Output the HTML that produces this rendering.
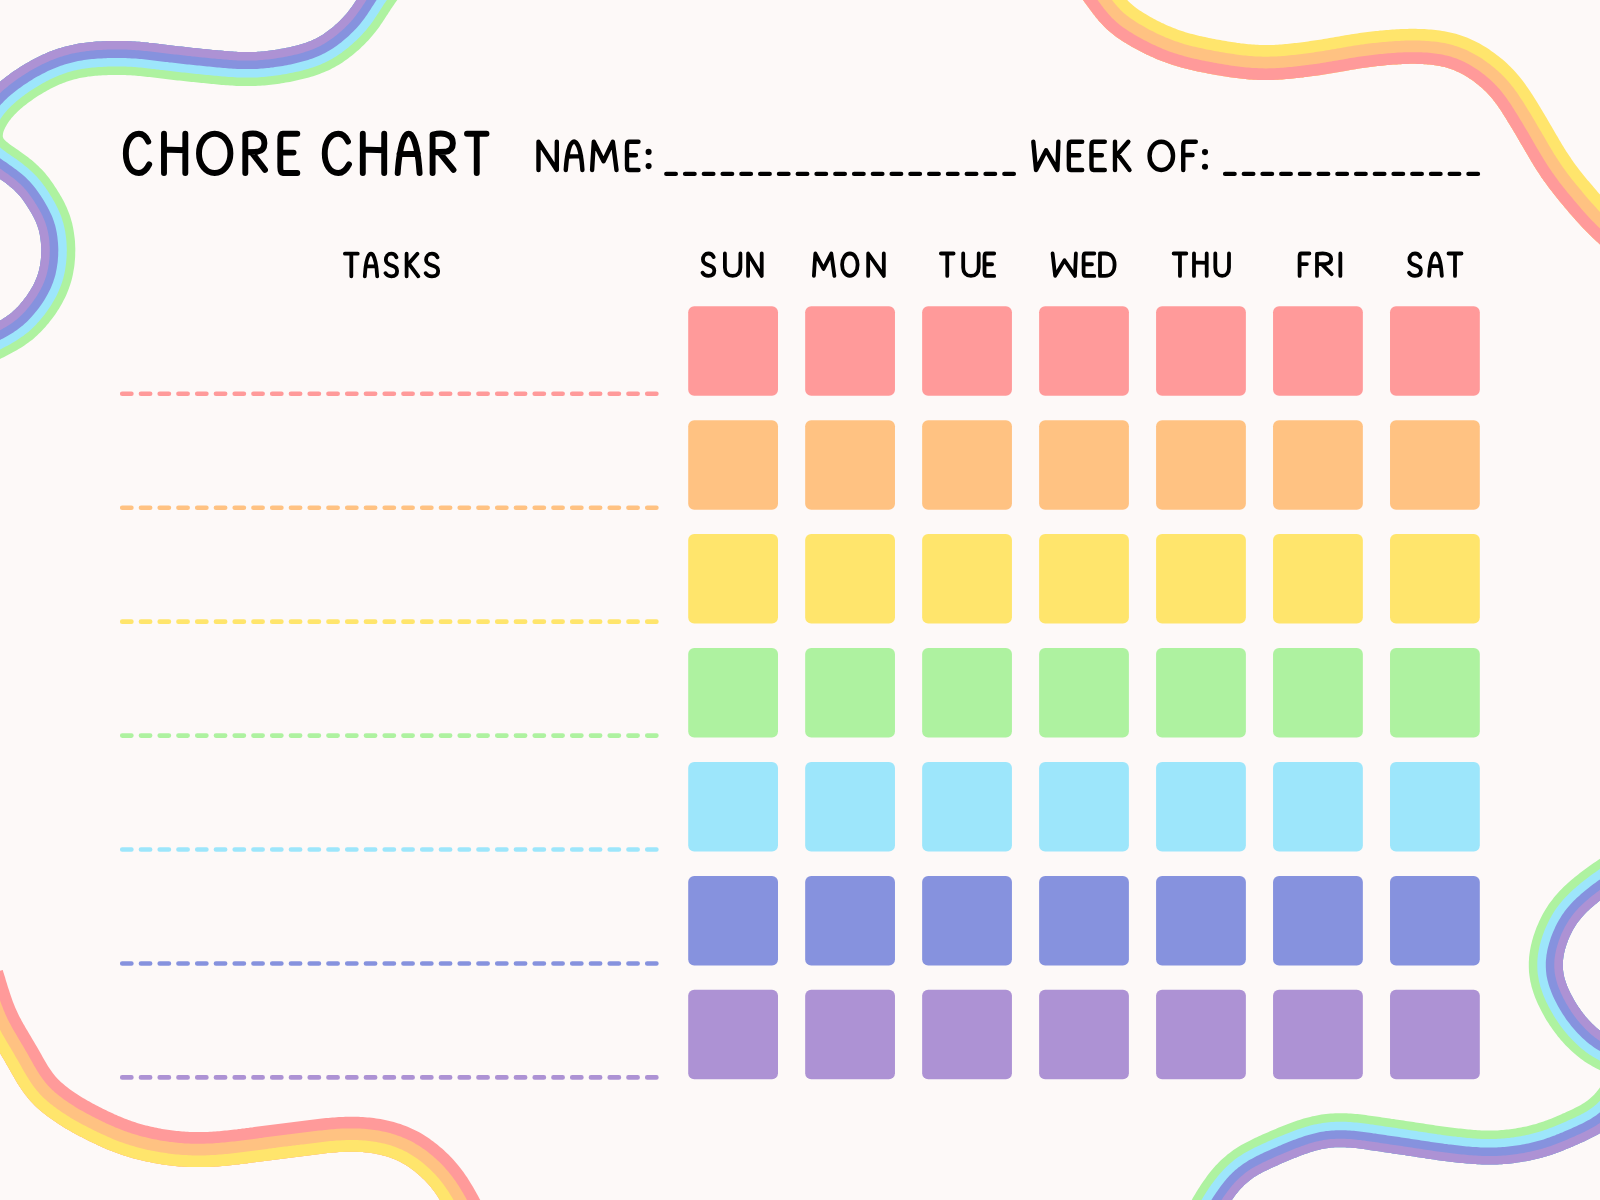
<!DOCTYPE html>
<html><head><meta charset="utf-8"><title>Chore Chart</title>
<style>
html,body{margin:0;padding:0;background:#fdf9f8;}
body{width:1600px;height:1200px;overflow:hidden;font-family:"Liberation Sans",sans-serif;}
svg{display:block;position:absolute;left:0;top:0;}
</style></head><body>
<svg width="1600" height="1200" viewBox="0 0 1600 1200">
<rect width="1600" height="1200" fill="#fdf9f8"/>
<path d="M423.5 -34.7 L422.3 -33.1 L421.1 -31.5 L419.9 -29.9 L418.6 -28.3 L417.4 -26.7 L416.2 -25.1 L415.0 -23.6 L413.8 -22.0 L412.6 -20.4 L411.4 -18.8 L410.2 -17.2 L409.0 -15.6 L407.8 -14.1 L406.6 -12.5 L405.4 -10.9 L404.2 -9.3 L403.0 -7.8 L401.8 -6.2 L400.7 -4.6 L399.5 -3.1 L398.4 -1.5 L397.3 0.0 L396.2 1.6 L395.1 3.1 L394.0 4.7 L392.9 6.2 L391.9 7.8 L390.8 9.3 L389.8 10.9 L388.7 12.5 L387.7 14.2 L386.6 15.8 L385.5 17.5 L384.4 19.3 L383.2 21.0 L382.1 22.8 L380.8 24.6 L379.6 26.4 L378.3 28.2 L376.9 30.0 L375.6 31.8 L374.1 33.6 L372.7 35.3 L371.2 37.1 L369.7 38.8 L368.2 40.4 L366.6 42.1 L365.0 43.7 L363.5 45.3 L361.8 46.8 L360.2 48.4 L358.6 49.9 L356.9 51.3 L355.2 52.8 L353.5 54.2 L351.7 55.7 L349.9 57.1 L348.1 58.4 L346.3 59.8 L344.4 61.1 L342.5 62.4 L340.5 63.7 L338.5 64.9 L336.5 66.1 L334.5 67.2 L332.4 68.3 L330.3 69.4 L328.2 70.4 L326.1 71.3 L323.9 72.3 L321.8 73.1 L319.6 73.9 L317.5 74.7 L315.3 75.5 L313.2 76.2 L311.1 76.8 L308.9 77.4 L306.8 78.0 L304.7 78.6 L302.6 79.1 L300.4 79.6 L298.3 80.1 L296.2 80.6 L294.1 81.0 L292.0 81.5 L289.9 81.9 L287.8 82.3 L285.7 82.6 L283.6 83.0 L281.5 83.3 L279.4 83.7 L277.3 84.0 L275.2 84.2 L273.0 84.5 L270.9 84.8 L268.7 85.0 L266.6 85.2 L264.4 85.4 L262.3 85.6 L260.1 85.7 L258.0 85.8 L255.8 85.9 L253.6 86.0 L251.4 86.1 L249.3 86.1 L247.1 86.1 L244.9 86.1 L242.8 86.1 L240.6 86.0 L238.5 85.9 L236.3 85.9 L234.2 85.8 L232.1 85.6 L230.0 85.5 L227.9 85.3 L225.8 85.2 L223.8 85.0 L221.7 84.9 L219.7 84.7 L217.6 84.5 L215.6 84.3 L213.6 84.1 L211.6 83.9 L209.6 83.7 L207.6 83.5 L205.6 83.3 L203.6 83.1 L201.6 82.9 L199.6 82.7 L197.6 82.5 L195.5 82.3 L193.5 82.1 L191.5 81.9 L189.5 81.7 L187.5 81.5 L185.5 81.3 L183.5 81.1 L181.5 80.8 L179.5 80.6 L177.5 80.4 L175.5 80.2 L173.5 79.9 L171.5 79.7 L169.5 79.5 L167.5 79.2 L165.5 79.0 L163.5 78.8 L161.5 78.5 L159.5 78.3 L157.5 78.1 L155.5 77.8 L153.5 77.6 L151.6 77.3 L149.6 77.1 L147.7 76.9 L145.7 76.7 L143.8 76.5 L141.9 76.3 L140.0 76.1 L138.1 75.9 L136.3 75.7 L134.4 75.6 L132.6 75.5 L130.7 75.3 L128.9 75.2 L127.0 75.2 L125.2 75.1 L123.3 75.0 L121.4 75.0 L119.6 75.0 L117.7 75.0 L115.8 75.0 L113.9 75.0 L112.0 75.0 L110.2 75.1 L108.3 75.1 L106.4 75.2 L104.5 75.3 L102.6 75.3 L100.8 75.4 L98.9 75.6 L97.1 75.7 L95.3 75.8 L93.5 76.0 L91.7 76.2 L89.9 76.4 L88.2 76.6 L86.4 76.9 L84.7 77.2 L83.0 77.4 L81.3 77.8 L79.6 78.1 L77.9 78.5 L76.3 78.9 L74.6 79.3 L72.9 79.8 L71.3 80.2 L69.6 80.8 L68.0 81.3 L66.4 81.8 L64.8 82.4 L63.1 83.0 L61.5 83.7 L59.9 84.3 L58.3 85.0 L56.7 85.7 L55.1 86.5 L53.5 87.2 L52.0 88.0 L50.4 88.8 L48.8 89.7 L47.2 90.5 L45.7 91.4 L44.1 92.3 L42.6 93.2 L41.0 94.2 L39.5 95.1 L37.9 96.1 L36.4 97.1 L34.9 98.1 L33.4 99.1 L31.9 100.2 L30.4 101.2 L28.9 102.3 L27.5 103.3 L26.1 104.4 L24.7 105.5 L23.3 106.6 L22.0 107.7 L20.7 108.8 L19.4 110.0 L18.2 111.1 L17.0 112.2 L15.8 113.4 L14.7 114.6 L13.6 115.7 L12.5 116.9 L11.5 118.1 L10.5 119.4 L9.6 120.6 L8.7 121.8 L7.9 123.0 L7.1 124.2 L6.4 125.5 L5.7 126.7 L5.1 127.8 L4.6 129.0 L4.1 130.1 L3.7 131.1 L3.4 132.1 L3.1 133.1 L3.0 133.9 L2.9 134.7 L2.8 135.4 L2.8 135.9 L2.8 136.4 L2.9 136.9 L3.0 137.2 L3.1 137.6 L3.2 137.9 L3.4 138.3 L3.6 138.7 L4.0 139.1 L4.4 139.7 L5.0 140.3 L5.7 141.0 L6.6 141.8 L7.6 142.6 L8.8 143.5 L10.0 144.4 L11.4 145.4 L12.9 146.5 L14.4 147.6 L16.1 148.7 L17.7 149.8 L19.4 151.0 L21.1 152.2 L22.8 153.4 L24.6 154.7 L26.3 156.0 L28.1 157.3 L29.8 158.7 L31.6 160.1 L33.3 161.6 L35.0 163.1 L36.8 164.7 L38.5 166.3 L40.1 167.9 L41.8 169.6 L43.4 171.3 L45.0 173.1 L46.5 174.9 L48.0 176.7 L49.4 178.6 L50.7 180.4 L52.0 182.2 L53.3 184.1 L54.5 185.9 L55.7 187.7 L56.9 189.6 L58.0 191.4 L59.2 193.3 L60.3 195.2 L61.4 197.1 L62.5 199.0 L63.6 201.0 L64.6 203.1 L65.6 205.2 L66.6 207.3 L67.5 209.5 L68.4 211.7 L69.3 213.9 L70.1 216.2 L70.8 218.5 L71.4 220.8 L72.1 223.1 L72.6 225.4 L73.1 227.7 L73.5 230.1 L73.9 232.4 L74.2 234.7 L74.5 237.0 L74.8 239.3 L75.0 241.6 L75.1 243.9 L75.2 246.2 L75.3 248.5 L75.3 250.8 L75.2 253.1 L75.2 255.4 L75.1 257.7 L74.9 260.0 L74.7 262.3 L74.5 264.6 L74.2 266.9 L73.8 269.3 L73.4 271.6 L73.0 273.9 L72.5 276.2 L72.0 278.5 L71.4 280.8 L70.7 283.1 L70.0 285.3 L69.2 287.6 L68.4 289.8 L67.5 292.1 L66.6 294.2 L65.6 296.4 L64.6 298.5 L63.5 300.6 L62.4 302.7 L61.3 304.7 L60.1 306.7 L59.0 308.7 L57.7 310.6 L56.5 312.5 L55.2 314.4 L53.9 316.2 L52.6 318.0 L51.2 319.8 L49.8 321.6 L48.4 323.4 L46.9 325.1 L45.4 326.9 L43.9 328.6 L42.3 330.3 L40.7 331.9 L39.0 333.6 L37.3 335.2 L35.6 336.8 L33.8 338.4 L32.0 339.9 L30.1 341.3 L28.2 342.7 L26.3 344.1 L24.4 345.4 L22.5 346.7 L20.5 347.9 L18.6 349.0 L16.7 350.2 L14.8 351.3 L12.9 352.3 L11.1 353.3 L9.2 354.3 L7.4 355.3 L5.5 356.3 L3.7 357.2 L1.9 358.1 L0.0 359.1 L-1.8 360.0 L-3.6 360.9 L-5.4 361.8 L-7.2 362.7 L-9.0 363.6 L-10.9 364.5 L-12.7 365.4 L-14.5 366.3 L-16.3 367.2 L-18.1 368.1 L-19.9 369.0 L-21.7 369.8 L-21.7 369.9 L-36.6 339.3 L-36.6 339.3 L-34.8 338.4 L-33.1 337.6 L-31.3 336.7 L-29.5 335.8 L-27.7 334.9 L-25.9 334.1 L-24.2 333.2 L-22.4 332.3 L-20.6 331.4 L-18.9 330.5 L-17.1 329.7 L-15.4 328.8 L-13.6 327.9 L-11.9 327.0 L-10.2 326.1 L-8.5 325.2 L-6.8 324.3 L-5.1 323.4 L-3.5 322.5 L-1.9 321.7 L-0.4 320.8 L1.2 319.9 L2.6 319.0 L4.1 318.1 L5.5 317.2 L6.8 316.2 L8.1 315.3 L9.4 314.4 L10.6 313.4 L11.9 312.4 L13.1 311.3 L14.2 310.3 L15.4 309.2 L16.5 308.0 L17.7 306.9 L18.8 305.7 L19.9 304.4 L21.0 303.1 L22.1 301.8 L23.2 300.5 L24.2 299.1 L25.3 297.8 L26.3 296.4 L27.3 295.0 L28.2 293.6 L29.2 292.1 L30.1 290.7 L30.9 289.3 L31.8 287.8 L32.6 286.4 L33.4 285.0 L34.1 283.5 L34.8 282.1 L35.4 280.6 L36.0 279.2 L36.6 277.7 L37.2 276.2 L37.7 274.8 L38.1 273.3 L38.6 271.8 L39.0 270.2 L39.3 268.7 L39.7 267.1 L40.0 265.6 L40.2 264.0 L40.5 262.3 L40.7 260.7 L40.9 259.1 L41.0 257.4 L41.1 255.7 L41.2 254.1 L41.2 252.4 L41.3 250.7 L41.3 249.1 L41.2 247.4 L41.1 245.7 L41.0 244.1 L40.9 242.4 L40.7 240.8 L40.5 239.2 L40.3 237.6 L40.0 236.0 L39.8 234.4 L39.4 232.9 L39.1 231.3 L38.7 229.8 L38.2 228.4 L37.8 226.9 L37.3 225.4 L36.7 224.0 L36.2 222.6 L35.5 221.1 L34.9 219.7 L34.2 218.2 L33.4 216.8 L32.6 215.3 L31.8 213.8 L30.9 212.3 L30.0 210.7 L29.1 209.2 L28.1 207.7 L27.2 206.2 L26.2 204.7 L25.2 203.2 L24.2 201.8 L23.3 200.4 L22.3 199.1 L21.3 197.8 L20.3 196.5 L19.2 195.3 L18.2 194.2 L17.1 193.0 L16.0 191.9 L14.9 190.7 L13.7 189.6 L12.5 188.5 L11.2 187.5 L9.9 186.4 L8.6 185.3 L7.2 184.2 L5.8 183.1 L4.4 182.1 L2.9 181.0 L1.4 179.9 L-0.2 178.8 L-1.7 177.7 L-3.3 176.6 L-5.0 175.5 L-6.7 174.3 L-8.4 173.1 L-10.1 171.8 L-12.0 170.5 L-13.8 169.0 L-15.7 167.5 L-17.6 165.8 L-19.5 163.9 L-21.3 161.9 L-23.1 159.6 L-24.8 157.2 L-26.4 154.7 L-27.8 151.9 L-28.9 149.0 L-29.9 146.1 L-30.5 143.1 L-31.0 140.0 L-31.2 137.0 L-31.2 134.0 L-31.0 131.1 L-30.6 128.3 L-30.0 125.5 L-29.3 122.8 L-28.5 120.2 L-27.6 117.7 L-26.6 115.3 L-25.5 112.9 L-24.3 110.6 L-23.1 108.4 L-21.8 106.3 L-20.5 104.2 L-19.1 102.2 L-17.7 100.3 L-16.2 98.3 L-14.7 96.5 L-13.2 94.7 L-11.6 92.9 L-10.0 91.2 L-8.4 89.5 L-6.7 87.9 L-5.0 86.3 L-3.4 84.7 L-1.7 83.2 L0.1 81.7 L1.8 80.3 L3.5 78.9 L5.3 77.5 L7.0 76.2 L8.8 74.9 L10.6 73.6 L12.3 72.3 L14.1 71.1 L15.9 69.9 L17.7 68.7 L19.5 67.5 L21.4 66.3 L23.2 65.2 L25.1 64.1 L27.0 62.9 L28.9 61.9 L30.8 60.8 L32.7 59.7 L34.6 58.7 L36.6 57.7 L38.6 56.7 L40.6 55.7 L42.6 54.8 L44.7 53.9 L46.7 53.0 L48.8 52.1 L50.9 51.3 L53.0 50.5 L55.1 49.8 L57.2 49.0 L59.4 48.3 L61.6 47.7 L63.7 47.0 L65.9 46.4 L68.1 45.9 L70.3 45.4 L72.5 44.9 L74.7 44.4 L76.9 44.0 L79.1 43.6 L81.3 43.3 L83.6 42.9 L85.8 42.7 L87.9 42.4 L90.1 42.2 L92.3 42.0 L94.5 41.8 L96.6 41.6 L98.7 41.5 L100.9 41.4 L103.0 41.3 L105.1 41.2 L107.2 41.1 L109.3 41.1 L111.4 41.0 L113.5 41.0 L115.6 41.0 L117.7 41.0 L119.9 41.0 L122.0 41.0 L124.1 41.0 L126.3 41.1 L128.4 41.2 L130.5 41.3 L132.7 41.4 L134.8 41.5 L136.9 41.7 L139.1 41.8 L141.2 42.0 L143.3 42.2 L145.4 42.4 L147.4 42.6 L149.5 42.9 L151.5 43.1 L153.6 43.3 L155.6 43.6 L157.6 43.8 L159.6 44.1 L161.6 44.3 L163.5 44.5 L165.5 44.8 L167.5 45.0 L169.5 45.2 L171.4 45.5 L173.4 45.7 L175.4 45.9 L177.3 46.2 L179.3 46.4 L181.3 46.6 L183.3 46.8 L185.2 47.1 L187.2 47.3 L189.2 47.5 L191.1 47.7 L193.1 47.9 L195.1 48.1 L197.0 48.3 L199.0 48.5 L201.0 48.7 L203.0 48.9 L204.9 49.1 L206.9 49.3 L208.9 49.5 L210.9 49.7 L212.8 49.9 L214.8 50.1 L216.8 50.3 L218.7 50.5 L220.7 50.6 L222.7 50.8 L224.6 51.0 L226.5 51.1 L228.5 51.3 L230.4 51.4 L232.3 51.6 L234.2 51.7 L236.0 51.8 L237.9 51.9 L239.8 52.0 L241.6 52.0 L243.4 52.1 L245.3 52.1 L247.1 52.1 L248.9 52.1 L250.7 52.1 L252.5 52.0 L254.4 52.0 L256.2 51.9 L258.0 51.8 L259.8 51.7 L261.6 51.5 L263.4 51.4 L265.3 51.2 L267.1 51.0 L268.9 50.8 L270.8 50.5 L272.6 50.3 L274.4 50.0 L276.3 49.7 L278.1 49.4 L279.9 49.1 L281.8 48.8 L283.6 48.5 L285.4 48.1 L287.2 47.8 L289.0 47.4 L290.8 47.0 L292.6 46.6 L294.4 46.1 L296.1 45.7 L297.8 45.2 L299.6 44.7 L301.3 44.3 L302.9 43.7 L304.6 43.2 L306.2 42.7 L307.8 42.1 L309.3 41.5 L310.9 40.9 L312.4 40.2 L313.8 39.6 L315.3 38.9 L316.8 38.1 L318.2 37.4 L319.6 36.6 L321.0 35.8 L322.4 34.9 L323.8 34.0 L325.1 33.1 L326.5 32.1 L327.8 31.1 L329.2 30.1 L330.5 29.1 L331.9 28.0 L333.2 26.9 L334.5 25.7 L335.8 24.6 L337.1 23.4 L338.4 22.2 L339.7 21.0 L340.9 19.8 L342.1 18.5 L343.3 17.3 L344.4 16.0 L345.6 14.7 L346.7 13.5 L347.7 12.2 L348.8 10.8 L349.8 9.5 L350.8 8.1 L351.9 6.7 L352.9 5.3 L353.9 3.8 L354.9 2.2 L355.9 0.7 L357.0 -0.9 L358.0 -2.6 L359.1 -4.3 L360.2 -6.0 L361.3 -7.7 L362.5 -9.5 L363.7 -11.2 L364.8 -12.9 L366.0 -14.7 L367.2 -16.4 L368.4 -18.1 L369.7 -19.8 L370.9 -21.5 L372.1 -23.2 L373.3 -24.9 L374.6 -26.5 L375.8 -28.1 L377.0 -29.8 L378.2 -31.4 L379.5 -33.0 L380.7 -34.6 L381.9 -36.2 L383.1 -37.8 L384.3 -39.4 L385.6 -41.0 L386.8 -42.6 L388.0 -44.2 L389.2 -45.8 L390.4 -47.4 L391.6 -49.0 L392.9 -50.6 L394.1 -52.2 L395.3 -53.7 L396.5 -55.3Z" fill="#aef2a0"/>
<path d="M416.7 -39.8 L415.5 -38.2 L414.3 -36.7 L413.1 -35.1 L411.9 -33.5 L410.7 -31.9 L409.5 -30.3 L408.2 -28.7 L407.0 -27.1 L405.8 -25.5 L404.6 -24.0 L403.4 -22.4 L402.2 -20.8 L401.0 -19.2 L399.8 -17.6 L398.6 -16.0 L397.4 -14.4 L396.2 -12.9 L395.0 -11.3 L393.8 -9.7 L392.7 -8.1 L391.5 -6.5 L390.4 -5.0 L389.2 -3.4 L388.1 -1.8 L387.0 -0.2 L385.9 1.4 L384.8 3.0 L383.7 4.6 L382.7 6.3 L381.6 7.9 L380.5 9.6 L379.5 11.2 L378.4 12.9 L377.3 14.6 L376.2 16.3 L375.0 18.0 L373.9 19.7 L372.7 21.5 L371.4 23.2 L370.2 24.9 L368.9 26.6 L367.5 28.2 L366.2 29.9 L364.8 31.5 L363.4 33.1 L361.9 34.7 L360.5 36.2 L359.0 37.7 L357.5 39.2 L356.0 40.7 L354.4 42.1 L352.9 43.5 L351.3 44.9 L349.7 46.3 L348.1 47.7 L346.4 49.0 L344.7 50.3 L343.0 51.6 L341.3 52.9 L339.6 54.1 L337.8 55.3 L336.0 56.5 L334.1 57.6 L332.3 58.7 L330.4 59.8 L328.5 60.8 L326.5 61.7 L324.6 62.7 L322.6 63.6 L320.7 64.4 L318.7 65.2 L316.7 66.0 L314.7 66.7 L312.6 67.4 L310.6 68.0 L308.6 68.7 L306.6 69.3 L304.6 69.8 L302.5 70.4 L300.5 70.9 L298.5 71.4 L296.5 71.8 L294.4 72.3 L292.4 72.7 L290.4 73.1 L288.3 73.5 L286.3 73.9 L284.3 74.3 L282.2 74.6 L280.2 74.9 L278.2 75.2 L276.1 75.5 L274.1 75.8 L272.0 76.1 L269.9 76.3 L267.9 76.5 L265.8 76.7 L263.7 76.9 L261.7 77.1 L259.6 77.2 L257.5 77.4 L255.4 77.4 L253.3 77.5 L251.3 77.6 L249.2 77.6 L247.1 77.6 L245.0 77.6 L242.9 77.6 L240.9 77.5 L238.8 77.5 L236.7 77.4 L234.7 77.3 L232.6 77.1 L230.6 77.0 L228.5 76.9 L226.5 76.7 L224.5 76.6 L222.4 76.4 L220.4 76.2 L218.4 76.0 L216.4 75.8 L214.4 75.7 L212.4 75.5 L210.4 75.3 L208.4 75.1 L206.4 74.9 L204.4 74.7 L202.4 74.5 L200.4 74.3 L198.4 74.1 L196.4 73.9 L194.4 73.7 L192.4 73.5 L190.4 73.3 L188.4 73.0 L186.4 72.8 L184.4 72.6 L182.4 72.4 L180.4 72.2 L178.4 72.0 L176.4 71.7 L174.4 71.5 L172.4 71.3 L170.5 71.0 L168.5 70.8 L166.5 70.6 L164.5 70.3 L162.5 70.1 L160.5 69.9 L158.5 69.6 L156.5 69.4 L154.5 69.1 L152.6 68.9 L150.6 68.7 L148.6 68.4 L146.7 68.2 L144.7 68.0 L142.8 67.8 L140.8 67.6 L138.9 67.4 L137.0 67.3 L135.0 67.1 L133.1 67.0 L131.2 66.8 L129.3 66.7 L127.4 66.7 L125.4 66.6 L123.5 66.5 L121.6 66.5 L119.6 66.5 L117.7 66.5 L115.8 66.5 L113.8 66.5 L111.9 66.5 L109.9 66.6 L108.0 66.6 L106.1 66.7 L104.1 66.8 L102.2 66.9 L100.3 67.0 L98.3 67.1 L96.4 67.2 L94.5 67.4 L92.6 67.6 L90.7 67.7 L88.9 68.0 L87.0 68.2 L85.2 68.5 L83.3 68.8 L81.5 69.1 L79.7 69.4 L77.8 69.8 L76.0 70.2 L74.2 70.6 L72.4 71.1 L70.6 71.6 L68.9 72.1 L67.1 72.6 L65.3 73.2 L63.6 73.8 L61.8 74.5 L60.1 75.1 L58.3 75.8 L56.6 76.5 L54.9 77.2 L53.2 78.0 L51.5 78.8 L49.8 79.6 L48.1 80.4 L46.4 81.3 L44.8 82.2 L43.1 83.1 L41.5 84.0 L39.8 85.0 L38.2 85.9 L36.6 86.9 L34.9 87.9 L33.3 89.0 L31.7 90.0 L30.1 91.0 L28.6 92.1 L27.0 93.2 L25.4 94.3 L23.9 95.4 L22.4 96.6 L20.9 97.7 L19.4 98.9 L18.0 100.0 L16.5 101.2 L15.1 102.4 L13.7 103.7 L12.4 104.9 L11.1 106.1 L9.8 107.4 L8.5 108.7 L7.3 110.0 L6.1 111.4 L5.0 112.7 L3.9 114.1 L2.8 115.5 L1.8 116.9 L0.8 118.3 L-0.1 119.8 L-1.0 121.2 L-1.8 122.7 L-2.6 124.1 L-3.2 125.5 L-3.8 127.0 L-4.3 128.4 L-4.8 129.8 L-5.1 131.2 L-5.4 132.5 L-5.6 133.8 L-5.7 135.0 L-5.7 136.2 L-5.6 137.3 L-5.5 138.4 L-5.2 139.5 L-4.9 140.4 L-4.5 141.4 L-4.1 142.4 L-3.5 143.3 L-2.8 144.3 L-2.0 145.2 L-1.1 146.2 L-0.1 147.2 L1.0 148.2 L2.3 149.2 L3.6 150.2 L5.0 151.3 L6.5 152.4 L8.0 153.4 L9.6 154.5 L11.2 155.7 L12.8 156.8 L14.5 157.9 L16.2 159.1 L17.8 160.3 L19.5 161.5 L21.2 162.8 L22.9 164.1 L24.5 165.4 L26.2 166.7 L27.8 168.1 L29.4 169.5 L31.0 170.9 L32.6 172.4 L34.1 173.9 L35.6 175.5 L37.1 177.0 L38.5 178.7 L39.9 180.3 L41.3 182.0 L42.6 183.7 L43.9 185.4 L45.1 187.1 L46.3 188.9 L47.5 190.6 L48.6 192.3 L49.7 194.1 L50.8 195.9 L51.9 197.6 L52.9 199.4 L54.0 201.2 L55.0 203.1 L56.0 205.0 L57.0 206.9 L57.9 208.8 L58.8 210.8 L59.7 212.8 L60.5 214.8 L61.3 216.8 L62.0 218.9 L62.6 221.0 L63.3 223.1 L63.8 225.2 L64.3 227.3 L64.8 229.4 L65.2 231.5 L65.5 233.7 L65.8 235.8 L66.1 238.0 L66.3 240.1 L66.5 242.2 L66.6 244.4 L66.7 246.5 L66.8 248.7 L66.8 250.8 L66.7 253.0 L66.7 255.1 L66.6 257.2 L66.4 259.4 L66.2 261.5 L66.0 263.7 L65.7 265.8 L65.4 267.9 L65.1 270.1 L64.7 272.2 L64.2 274.3 L63.7 276.4 L63.2 278.5 L62.6 280.6 L61.9 282.7 L61.2 284.8 L60.4 286.8 L59.6 288.8 L58.8 290.8 L57.9 292.8 L57.0 294.8 L56.0 296.7 L55.0 298.6 L53.9 300.5 L52.8 302.3 L51.7 304.2 L50.6 306.0 L49.4 307.7 L48.2 309.5 L47.0 311.2 L45.7 313.0 L44.5 314.7 L43.2 316.3 L41.8 318.0 L40.5 319.6 L39.1 321.2 L37.6 322.8 L36.2 324.4 L34.7 326.0 L33.1 327.5 L31.6 329.0 L30.0 330.4 L28.3 331.9 L26.6 333.2 L24.9 334.6 L23.2 335.9 L21.4 337.1 L19.7 338.3 L17.9 339.5 L16.1 340.7 L14.3 341.8 L12.5 342.8 L10.6 343.9 L8.8 344.9 L7.0 345.9 L5.2 346.8 L3.4 347.8 L1.6 348.7 L-0.2 349.7 L-2.0 350.6 L-3.8 351.5 L-5.6 352.4 L-7.4 353.3 L-9.2 354.2 L-11.0 355.1 L-12.8 356.0 L-14.6 356.9 L-16.4 357.8 L-18.2 358.7 L-20.0 359.6 L-21.8 360.5 L-23.6 361.3 L-25.4 362.2 L-25.4 362.2 L-36.6 339.3 L-36.6 339.3 L-34.8 338.4 L-33.1 337.6 L-31.3 336.7 L-29.5 335.8 L-27.7 334.9 L-25.9 334.1 L-24.2 333.2 L-22.4 332.3 L-20.6 331.4 L-18.9 330.5 L-17.1 329.7 L-15.4 328.8 L-13.6 327.9 L-11.9 327.0 L-10.2 326.1 L-8.5 325.2 L-6.8 324.3 L-5.1 323.4 L-3.5 322.5 L-1.9 321.7 L-0.4 320.8 L1.2 319.9 L2.6 319.0 L4.1 318.1 L5.5 317.2 L6.8 316.2 L8.1 315.3 L9.4 314.4 L10.6 313.4 L11.9 312.4 L13.1 311.3 L14.2 310.3 L15.4 309.2 L16.5 308.0 L17.7 306.9 L18.8 305.7 L19.9 304.4 L21.0 303.1 L22.1 301.8 L23.2 300.5 L24.2 299.1 L25.3 297.8 L26.3 296.4 L27.3 295.0 L28.2 293.6 L29.2 292.1 L30.1 290.7 L30.9 289.3 L31.8 287.8 L32.6 286.4 L33.4 285.0 L34.1 283.5 L34.8 282.1 L35.4 280.6 L36.0 279.2 L36.6 277.7 L37.2 276.2 L37.7 274.8 L38.1 273.3 L38.6 271.8 L39.0 270.2 L39.3 268.7 L39.7 267.1 L40.0 265.6 L40.2 264.0 L40.5 262.3 L40.7 260.7 L40.9 259.1 L41.0 257.4 L41.1 255.7 L41.2 254.1 L41.2 252.4 L41.3 250.7 L41.3 249.1 L41.2 247.4 L41.1 245.7 L41.0 244.1 L40.9 242.4 L40.7 240.8 L40.5 239.2 L40.3 237.6 L40.0 236.0 L39.8 234.4 L39.4 232.9 L39.1 231.3 L38.7 229.8 L38.2 228.4 L37.8 226.9 L37.3 225.4 L36.7 224.0 L36.2 222.6 L35.5 221.1 L34.9 219.7 L34.2 218.2 L33.4 216.8 L32.6 215.3 L31.8 213.8 L30.9 212.3 L30.0 210.7 L29.1 209.2 L28.1 207.7 L27.2 206.2 L26.2 204.7 L25.2 203.2 L24.2 201.8 L23.3 200.4 L22.3 199.1 L21.3 197.8 L20.3 196.5 L19.2 195.3 L18.2 194.2 L17.1 193.0 L16.0 191.9 L14.9 190.7 L13.7 189.6 L12.5 188.5 L11.2 187.5 L9.9 186.4 L8.6 185.3 L7.2 184.2 L5.8 183.1 L4.4 182.1 L2.9 181.0 L1.4 179.9 L-0.2 178.8 L-1.7 177.7 L-3.3 176.6 L-5.0 175.5 L-6.7 174.3 L-8.4 173.1 L-10.1 171.8 L-12.0 170.5 L-13.8 169.0 L-15.7 167.5 L-17.6 165.8 L-19.5 163.9 L-21.3 161.9 L-23.1 159.6 L-24.8 157.2 L-26.4 154.7 L-27.8 151.9 L-28.9 149.0 L-29.9 146.1 L-30.5 143.1 L-31.0 140.0 L-31.2 137.0 L-31.2 134.0 L-31.0 131.1 L-30.6 128.3 L-30.0 125.5 L-29.3 122.8 L-28.5 120.2 L-27.6 117.7 L-26.6 115.3 L-25.5 112.9 L-24.3 110.6 L-23.1 108.4 L-21.8 106.3 L-20.5 104.2 L-19.1 102.2 L-17.7 100.3 L-16.2 98.3 L-14.7 96.5 L-13.2 94.7 L-11.6 92.9 L-10.0 91.2 L-8.4 89.5 L-6.7 87.9 L-5.0 86.3 L-3.4 84.7 L-1.7 83.2 L0.1 81.7 L1.8 80.3 L3.5 78.9 L5.3 77.5 L7.0 76.2 L8.8 74.9 L10.6 73.6 L12.3 72.3 L14.1 71.1 L15.9 69.9 L17.7 68.7 L19.5 67.5 L21.4 66.3 L23.2 65.2 L25.1 64.1 L27.0 62.9 L28.9 61.9 L30.8 60.8 L32.7 59.7 L34.6 58.7 L36.6 57.7 L38.6 56.7 L40.6 55.7 L42.6 54.8 L44.7 53.9 L46.7 53.0 L48.8 52.1 L50.9 51.3 L53.0 50.5 L55.1 49.8 L57.2 49.0 L59.4 48.3 L61.6 47.7 L63.7 47.0 L65.9 46.4 L68.1 45.9 L70.3 45.4 L72.5 44.9 L74.7 44.4 L76.9 44.0 L79.1 43.6 L81.3 43.3 L83.6 42.9 L85.8 42.7 L87.9 42.4 L90.1 42.2 L92.3 42.0 L94.5 41.8 L96.6 41.6 L98.7 41.5 L100.9 41.4 L103.0 41.3 L105.1 41.2 L107.2 41.1 L109.3 41.1 L111.4 41.0 L113.5 41.0 L115.6 41.0 L117.7 41.0 L119.9 41.0 L122.0 41.0 L124.1 41.0 L126.3 41.1 L128.4 41.2 L130.5 41.3 L132.7 41.4 L134.8 41.5 L136.9 41.7 L139.1 41.8 L141.2 42.0 L143.3 42.2 L145.4 42.4 L147.4 42.6 L149.5 42.9 L151.5 43.1 L153.6 43.3 L155.6 43.6 L157.6 43.8 L159.6 44.1 L161.6 44.3 L163.5 44.5 L165.5 44.8 L167.5 45.0 L169.5 45.2 L171.4 45.5 L173.4 45.7 L175.4 45.9 L177.3 46.2 L179.3 46.4 L181.3 46.6 L183.3 46.8 L185.2 47.1 L187.2 47.3 L189.2 47.5 L191.1 47.7 L193.1 47.9 L195.1 48.1 L197.0 48.3 L199.0 48.5 L201.0 48.7 L203.0 48.9 L204.9 49.1 L206.9 49.3 L208.9 49.5 L210.9 49.7 L212.8 49.9 L214.8 50.1 L216.8 50.3 L218.7 50.5 L220.7 50.6 L222.7 50.8 L224.6 51.0 L226.5 51.1 L228.5 51.3 L230.4 51.4 L232.3 51.6 L234.2 51.7 L236.0 51.8 L237.9 51.9 L239.8 52.0 L241.6 52.0 L243.4 52.1 L245.3 52.1 L247.1 52.1 L248.9 52.1 L250.7 52.1 L252.5 52.0 L254.4 52.0 L256.2 51.9 L258.0 51.8 L259.8 51.7 L261.6 51.5 L263.4 51.4 L265.3 51.2 L267.1 51.0 L268.9 50.8 L270.8 50.5 L272.6 50.3 L274.4 50.0 L276.3 49.7 L278.1 49.4 L279.9 49.1 L281.8 48.8 L283.6 48.5 L285.4 48.1 L287.2 47.8 L289.0 47.4 L290.8 47.0 L292.6 46.6 L294.4 46.1 L296.1 45.7 L297.8 45.2 L299.6 44.7 L301.3 44.3 L302.9 43.7 L304.6 43.2 L306.2 42.7 L307.8 42.1 L309.3 41.5 L310.9 40.9 L312.4 40.2 L313.8 39.6 L315.3 38.9 L316.8 38.1 L318.2 37.4 L319.6 36.6 L321.0 35.8 L322.4 34.9 L323.8 34.0 L325.1 33.1 L326.5 32.1 L327.8 31.1 L329.2 30.1 L330.5 29.1 L331.9 28.0 L333.2 26.9 L334.5 25.7 L335.8 24.6 L337.1 23.4 L338.4 22.2 L339.7 21.0 L340.9 19.8 L342.1 18.5 L343.3 17.3 L344.4 16.0 L345.6 14.7 L346.7 13.5 L347.7 12.2 L348.8 10.8 L349.8 9.5 L350.8 8.1 L351.9 6.7 L352.9 5.3 L353.9 3.8 L354.9 2.2 L355.9 0.7 L357.0 -0.9 L358.0 -2.6 L359.1 -4.3 L360.2 -6.0 L361.3 -7.7 L362.5 -9.5 L363.7 -11.2 L364.8 -12.9 L366.0 -14.7 L367.2 -16.4 L368.4 -18.1 L369.7 -19.8 L370.9 -21.5 L372.1 -23.2 L373.3 -24.9 L374.6 -26.5 L375.8 -28.1 L377.0 -29.8 L378.2 -31.4 L379.5 -33.0 L380.7 -34.6 L381.9 -36.2 L383.1 -37.8 L384.3 -39.4 L385.6 -41.0 L386.8 -42.6 L388.0 -44.2 L389.2 -45.8 L390.4 -47.4 L391.6 -49.0 L392.9 -50.6 L394.1 -52.2 L395.3 -53.7 L396.5 -55.3Z" fill="#9de6fb"/>
<path d="M410.0 -45.0 L408.8 -43.4 L407.6 -41.8 L406.4 -40.2 L405.1 -38.6 L403.9 -37.1 L402.7 -35.5 L401.5 -33.9 L400.3 -32.3 L399.1 -30.7 L397.8 -29.1 L396.6 -27.5 L395.4 -25.9 L394.2 -24.3 L393.0 -22.7 L391.8 -21.2 L390.6 -19.6 L389.4 -18.0 L388.2 -16.4 L387.0 -14.8 L385.8 -13.1 L384.6 -11.5 L383.5 -9.9 L382.3 -8.3 L381.2 -6.7 L380.0 -5.0 L378.9 -3.4 L377.8 -1.7 L376.7 -0.1 L375.6 1.6 L374.5 3.3 L373.4 4.9 L372.3 6.6 L371.2 8.3 L370.2 10.0 L369.1 11.6 L368.0 13.3 L366.9 14.9 L365.7 16.5 L364.6 18.2 L363.4 19.8 L362.2 21.3 L360.9 22.9 L359.7 24.4 L358.4 25.9 L357.1 27.4 L355.7 28.9 L354.4 30.3 L353.0 31.7 L351.6 33.1 L350.1 34.5 L348.7 35.9 L347.2 37.2 L345.7 38.5 L344.2 39.8 L342.7 41.1 L341.1 42.4 L339.6 43.6 L338.0 44.8 L336.4 46.0 L334.8 47.1 L333.1 48.2 L331.4 49.3 L329.8 50.3 L328.0 51.3 L326.3 52.3 L324.6 53.2 L322.8 54.1 L321.0 55.0 L319.2 55.8 L317.4 56.6 L315.5 57.3 L313.7 58.0 L311.8 58.7 L309.9 59.3 L308.1 59.9 L306.2 60.5 L304.2 61.1 L302.3 61.6 L300.4 62.1 L298.5 62.6 L296.5 63.1 L294.6 63.5 L292.6 64.0 L290.7 64.4 L288.7 64.8 L286.8 65.2 L284.8 65.5 L282.8 65.9 L280.9 66.2 L278.9 66.5 L276.9 66.8 L274.9 67.1 L273.0 67.4 L271.0 67.6 L269.0 67.9 L267.0 68.1 L265.0 68.3 L263.0 68.5 L261.0 68.6 L259.1 68.7 L257.1 68.9 L255.1 69.0 L253.1 69.0 L251.1 69.1 L249.1 69.1 L247.1 69.1 L245.1 69.1 L243.1 69.1 L241.1 69.0 L239.1 69.0 L237.1 68.9 L235.1 68.8 L233.1 68.7 L231.1 68.5 L229.1 68.4 L227.1 68.2 L225.1 68.1 L223.2 67.9 L221.2 67.7 L219.2 67.6 L217.2 67.4 L215.2 67.2 L213.2 67.0 L211.2 66.8 L209.2 66.6 L207.2 66.4 L205.2 66.2 L203.2 66.0 L201.3 65.8 L199.3 65.6 L197.3 65.4 L195.3 65.2 L193.3 65.0 L191.3 64.8 L189.3 64.6 L187.3 64.4 L185.3 64.2 L183.4 63.9 L181.4 63.7 L179.4 63.5 L177.4 63.3 L175.4 63.1 L173.4 62.8 L171.4 62.6 L169.4 62.4 L167.5 62.1 L165.5 61.9 L163.5 61.7 L161.5 61.4 L159.5 61.2 L157.5 60.9 L155.6 60.7 L153.6 60.5 L151.6 60.2 L149.6 60.0 L147.6 59.8 L145.6 59.5 L143.6 59.3 L141.6 59.1 L139.7 59.0 L137.7 58.8 L135.7 58.6 L133.7 58.5 L131.7 58.4 L129.7 58.3 L127.7 58.2 L125.7 58.1 L123.7 58.0 L121.7 58.0 L119.7 58.0 L117.7 58.0 L115.7 58.0 L113.7 58.0 L111.7 58.0 L109.7 58.1 L107.7 58.1 L105.7 58.2 L103.7 58.3 L101.7 58.4 L99.8 58.5 L97.8 58.6 L95.8 58.7 L93.8 58.9 L91.8 59.1 L89.8 59.3 L87.8 59.5 L85.9 59.8 L83.9 60.1 L81.9 60.4 L80.0 60.7 L78.0 61.1 L76.1 61.5 L74.1 61.9 L72.2 62.4 L70.3 62.9 L68.3 63.4 L66.4 64.0 L64.5 64.5 L62.6 65.2 L60.7 65.8 L58.9 66.5 L57.0 67.2 L55.2 67.9 L53.3 68.7 L51.5 69.5 L49.7 70.3 L47.9 71.1 L46.1 72.0 L44.3 72.9 L42.5 73.8 L40.8 74.7 L39.0 75.7 L37.3 76.6 L35.5 77.6 L33.8 78.6 L32.1 79.7 L30.4 80.7 L28.7 81.8 L27.1 82.9 L25.4 84.0 L23.7 85.1 L22.1 86.3 L20.5 87.4 L18.9 88.6 L17.3 89.8 L15.7 91.0 L14.1 92.2 L12.6 93.5 L11.0 94.7 L9.5 96.0 L8.0 97.3 L6.6 98.7 L5.1 100.1 L3.7 101.5 L2.4 102.9 L1.0 104.3 L-0.3 105.8 L-1.6 107.3 L-2.8 108.9 L-4.0 110.4 L-5.2 112.0 L-6.3 113.6 L-7.4 115.3 L-8.4 117.0 L-9.3 118.7 L-10.2 120.4 L-11.0 122.1 L-11.7 123.9 L-12.4 125.7 L-13.0 127.5 L-13.4 129.3 L-13.8 131.1 L-14.0 132.9 L-14.2 134.7 L-14.2 136.5 L-14.1 138.2 L-13.8 140.0 L-13.4 141.7 L-12.9 143.3 L-12.3 144.9 L-11.5 146.5 L-10.6 148.0 L-9.6 149.4 L-8.5 150.8 L-7.2 152.1 L-5.9 153.4 L-4.5 154.6 L-3.1 155.8 L-1.6 157.0 L-0.1 158.1 L1.5 159.3 L3.1 160.4 L4.7 161.5 L6.4 162.6 L8.0 163.8 L9.6 164.9 L11.2 166.0 L12.9 167.2 L14.5 168.4 L16.1 169.6 L17.6 170.8 L19.2 172.0 L20.8 173.3 L22.3 174.5 L23.8 175.8 L25.2 177.1 L26.7 178.5 L28.1 179.9 L29.5 181.3 L30.8 182.7 L32.1 184.2 L33.4 185.7 L34.6 187.3 L35.8 188.8 L37.0 190.4 L38.1 192.0 L39.3 193.7 L40.4 195.3 L41.5 197.0 L42.5 198.6 L43.6 200.3 L44.6 202.0 L45.6 203.7 L46.6 205.4 L47.6 207.2 L48.5 208.9 L49.4 210.7 L50.2 212.4 L51.1 214.2 L51.9 216.0 L52.6 217.8 L53.3 219.7 L53.9 221.5 L54.5 223.4 L55.1 225.3 L55.6 227.2 L56.0 229.1 L56.4 231.1 L56.8 233.0 L57.1 235.0 L57.4 236.9 L57.6 238.9 L57.8 240.9 L58.0 242.9 L58.1 244.8 L58.2 246.8 L58.3 248.8 L58.3 250.8 L58.2 252.8 L58.2 254.8 L58.1 256.7 L57.9 258.7 L57.8 260.7 L57.6 262.7 L57.3 264.6 L57.0 266.6 L56.7 268.6 L56.3 270.5 L55.9 272.4 L55.5 274.4 L55.0 276.3 L54.4 278.2 L53.8 280.1 L53.2 281.9 L52.5 283.8 L51.8 285.6 L51.0 287.4 L50.2 289.2 L49.3 291.0 L48.4 292.8 L47.5 294.5 L46.5 296.3 L45.5 298.0 L44.5 299.7 L43.4 301.4 L42.4 303.0 L41.2 304.7 L40.1 306.3 L38.9 307.9 L37.7 309.5 L36.5 311.1 L35.2 312.6 L34.0 314.1 L32.7 315.6 L31.4 317.1 L30.0 318.6 L28.6 320.0 L27.2 321.4 L25.8 322.7 L24.3 324.1 L22.8 325.4 L21.3 326.6 L19.8 327.8 L18.2 329.0 L16.6 330.2 L14.9 331.3 L13.3 332.4 L11.6 333.4 L9.9 334.5 L8.2 335.5 L6.5 336.5 L4.7 337.4 L3.0 338.4 L1.2 339.3 L-0.6 340.3 L-2.3 341.2 L-4.1 342.1 L-5.9 343.0 L-7.7 343.9 L-9.4 344.8 L-11.2 345.7 L-13.0 346.6 L-14.8 347.5 L-16.6 348.4 L-18.4 349.3 L-20.2 350.2 L-22.0 351.1 L-23.8 351.9 L-25.6 352.8 L-27.4 353.7 L-29.2 354.6 L-29.2 354.6 L-36.6 339.3 L-36.6 339.3 L-34.8 338.4 L-33.1 337.6 L-31.3 336.7 L-29.5 335.8 L-27.7 334.9 L-25.9 334.1 L-24.2 333.2 L-22.4 332.3 L-20.6 331.4 L-18.9 330.5 L-17.1 329.7 L-15.4 328.8 L-13.6 327.9 L-11.9 327.0 L-10.2 326.1 L-8.5 325.2 L-6.8 324.3 L-5.1 323.4 L-3.5 322.5 L-1.9 321.7 L-0.4 320.8 L1.2 319.9 L2.6 319.0 L4.1 318.1 L5.5 317.2 L6.8 316.2 L8.1 315.3 L9.4 314.4 L10.6 313.4 L11.9 312.4 L13.1 311.3 L14.2 310.3 L15.4 309.2 L16.5 308.0 L17.7 306.9 L18.8 305.7 L19.9 304.4 L21.0 303.1 L22.1 301.8 L23.2 300.5 L24.2 299.1 L25.3 297.8 L26.3 296.4 L27.3 295.0 L28.2 293.6 L29.2 292.1 L30.1 290.7 L30.9 289.3 L31.8 287.8 L32.6 286.4 L33.4 285.0 L34.1 283.5 L34.8 282.1 L35.4 280.6 L36.0 279.2 L36.6 277.7 L37.2 276.2 L37.7 274.8 L38.1 273.3 L38.6 271.8 L39.0 270.2 L39.3 268.7 L39.7 267.1 L40.0 265.6 L40.2 264.0 L40.5 262.3 L40.7 260.7 L40.9 259.1 L41.0 257.4 L41.1 255.7 L41.2 254.1 L41.2 252.4 L41.3 250.7 L41.3 249.1 L41.2 247.4 L41.1 245.7 L41.0 244.1 L40.9 242.4 L40.7 240.8 L40.5 239.2 L40.3 237.6 L40.0 236.0 L39.8 234.4 L39.4 232.9 L39.1 231.3 L38.7 229.8 L38.2 228.4 L37.8 226.9 L37.3 225.4 L36.7 224.0 L36.2 222.6 L35.5 221.1 L34.9 219.7 L34.2 218.2 L33.4 216.8 L32.6 215.3 L31.8 213.8 L30.9 212.3 L30.0 210.7 L29.1 209.2 L28.1 207.7 L27.2 206.2 L26.2 204.7 L25.2 203.2 L24.2 201.8 L23.3 200.4 L22.3 199.1 L21.3 197.8 L20.3 196.5 L19.2 195.3 L18.2 194.2 L17.1 193.0 L16.0 191.9 L14.9 190.7 L13.7 189.6 L12.5 188.5 L11.2 187.5 L9.9 186.4 L8.6 185.3 L7.2 184.2 L5.8 183.1 L4.4 182.1 L2.9 181.0 L1.4 179.9 L-0.2 178.8 L-1.7 177.7 L-3.3 176.6 L-5.0 175.5 L-6.7 174.3 L-8.4 173.1 L-10.1 171.8 L-12.0 170.5 L-13.8 169.0 L-15.7 167.5 L-17.6 165.8 L-19.5 163.9 L-21.3 161.9 L-23.1 159.6 L-24.8 157.2 L-26.4 154.7 L-27.8 151.9 L-28.9 149.0 L-29.9 146.1 L-30.5 143.1 L-31.0 140.0 L-31.2 137.0 L-31.2 134.0 L-31.0 131.1 L-30.6 128.3 L-30.0 125.5 L-29.3 122.8 L-28.5 120.2 L-27.6 117.7 L-26.6 115.3 L-25.5 112.9 L-24.3 110.6 L-23.1 108.4 L-21.8 106.3 L-20.5 104.2 L-19.1 102.2 L-17.7 100.3 L-16.2 98.3 L-14.7 96.5 L-13.2 94.7 L-11.6 92.9 L-10.0 91.2 L-8.4 89.5 L-6.7 87.9 L-5.0 86.3 L-3.4 84.7 L-1.7 83.2 L0.1 81.7 L1.8 80.3 L3.5 78.9 L5.3 77.5 L7.0 76.2 L8.8 74.9 L10.6 73.6 L12.3 72.3 L14.1 71.1 L15.9 69.9 L17.7 68.7 L19.5 67.5 L21.4 66.3 L23.2 65.2 L25.1 64.1 L27.0 62.9 L28.9 61.9 L30.8 60.8 L32.7 59.7 L34.6 58.7 L36.6 57.7 L38.6 56.7 L40.6 55.7 L42.6 54.8 L44.7 53.9 L46.7 53.0 L48.8 52.1 L50.9 51.3 L53.0 50.5 L55.1 49.8 L57.2 49.0 L59.4 48.3 L61.6 47.7 L63.7 47.0 L65.9 46.4 L68.1 45.9 L70.3 45.4 L72.5 44.9 L74.7 44.4 L76.9 44.0 L79.1 43.6 L81.3 43.3 L83.6 42.9 L85.8 42.7 L87.9 42.4 L90.1 42.2 L92.3 42.0 L94.5 41.8 L96.6 41.6 L98.7 41.5 L100.9 41.4 L103.0 41.3 L105.1 41.2 L107.2 41.1 L109.3 41.1 L111.4 41.0 L113.5 41.0 L115.6 41.0 L117.7 41.0 L119.9 41.0 L122.0 41.0 L124.1 41.0 L126.3 41.1 L128.4 41.2 L130.5 41.3 L132.7 41.4 L134.8 41.5 L136.9 41.7 L139.1 41.8 L141.2 42.0 L143.3 42.2 L145.4 42.4 L147.4 42.6 L149.5 42.9 L151.5 43.1 L153.6 43.3 L155.6 43.6 L157.6 43.8 L159.6 44.1 L161.6 44.3 L163.5 44.5 L165.5 44.8 L167.5 45.0 L169.5 45.2 L171.4 45.5 L173.4 45.7 L175.4 45.9 L177.3 46.2 L179.3 46.4 L181.3 46.6 L183.3 46.8 L185.2 47.1 L187.2 47.3 L189.2 47.5 L191.1 47.7 L193.1 47.9 L195.1 48.1 L197.0 48.3 L199.0 48.5 L201.0 48.7 L203.0 48.9 L204.9 49.1 L206.9 49.3 L208.9 49.5 L210.9 49.7 L212.8 49.9 L214.8 50.1 L216.8 50.3 L218.7 50.5 L220.7 50.6 L222.7 50.8 L224.6 51.0 L226.5 51.1 L228.5 51.3 L230.4 51.4 L232.3 51.6 L234.2 51.7 L236.0 51.8 L237.9 51.9 L239.8 52.0 L241.6 52.0 L243.4 52.1 L245.3 52.1 L247.1 52.1 L248.9 52.1 L250.7 52.1 L252.5 52.0 L254.4 52.0 L256.2 51.9 L258.0 51.8 L259.8 51.7 L261.6 51.5 L263.4 51.4 L265.3 51.2 L267.1 51.0 L268.9 50.8 L270.8 50.5 L272.6 50.3 L274.4 50.0 L276.3 49.7 L278.1 49.4 L279.9 49.1 L281.8 48.8 L283.6 48.5 L285.4 48.1 L287.2 47.8 L289.0 47.4 L290.8 47.0 L292.6 46.6 L294.4 46.1 L296.1 45.7 L297.8 45.2 L299.6 44.7 L301.3 44.3 L302.9 43.7 L304.6 43.2 L306.2 42.7 L307.8 42.1 L309.3 41.5 L310.9 40.9 L312.4 40.2 L313.8 39.6 L315.3 38.9 L316.8 38.1 L318.2 37.4 L319.6 36.6 L321.0 35.8 L322.4 34.9 L323.8 34.0 L325.1 33.1 L326.5 32.1 L327.8 31.1 L329.2 30.1 L330.5 29.1 L331.9 28.0 L333.2 26.9 L334.5 25.7 L335.8 24.6 L337.1 23.4 L338.4 22.2 L339.7 21.0 L340.9 19.8 L342.1 18.5 L343.3 17.3 L344.4 16.0 L345.6 14.7 L346.7 13.5 L347.7 12.2 L348.8 10.8 L349.8 9.5 L350.8 8.1 L351.9 6.7 L352.9 5.3 L353.9 3.8 L354.9 2.2 L355.9 0.7 L357.0 -0.9 L358.0 -2.6 L359.1 -4.3 L360.2 -6.0 L361.3 -7.7 L362.5 -9.5 L363.7 -11.2 L364.8 -12.9 L366.0 -14.7 L367.2 -16.4 L368.4 -18.1 L369.7 -19.8 L370.9 -21.5 L372.1 -23.2 L373.3 -24.9 L374.6 -26.5 L375.8 -28.1 L377.0 -29.8 L378.2 -31.4 L379.5 -33.0 L380.7 -34.6 L381.9 -36.2 L383.1 -37.8 L384.3 -39.4 L385.6 -41.0 L386.8 -42.6 L388.0 -44.2 L389.2 -45.8 L390.4 -47.4 L391.6 -49.0 L392.9 -50.6 L394.1 -52.2 L395.3 -53.7 L396.5 -55.3Z" fill="#8692de"/>
<path d="M403.3 -50.2 L402.0 -48.6 L400.8 -47.0 L399.6 -45.4 L398.4 -43.8 L397.2 -42.2 L396.0 -40.6 L394.7 -39.0 L393.5 -37.5 L392.3 -35.9 L391.1 -34.3 L389.9 -32.7 L388.7 -31.1 L387.4 -29.5 L386.2 -27.9 L385.0 -26.3 L383.8 -24.7 L382.6 -23.1 L381.4 -21.4 L380.2 -19.8 L379.0 -18.2 L377.8 -16.5 L376.6 -14.9 L375.4 -13.2 L374.2 -11.5 L373.0 -9.9 L371.9 -8.2 L370.7 -6.5 L369.6 -4.8 L368.5 -3.1 L367.3 -1.4 L366.3 0.3 L365.2 2.0 L364.1 3.7 L363.0 5.3 L362.0 6.9 L360.9 8.5 L359.9 10.1 L358.8 11.6 L357.7 13.1 L356.6 14.6 L355.5 16.1 L354.3 17.5 L353.2 18.9 L352.0 20.3 L350.8 21.7 L349.5 23.1 L348.2 24.4 L346.9 25.7 L345.6 27.1 L344.3 28.4 L342.9 29.6 L341.5 30.9 L340.1 32.1 L338.7 33.3 L337.3 34.5 L335.8 35.7 L334.4 36.8 L332.9 38.0 L331.4 39.0 L329.9 40.1 L328.4 41.1 L326.9 42.1 L325.4 43.0 L323.8 43.9 L322.2 44.8 L320.7 45.7 L319.1 46.5 L317.4 47.3 L315.8 48.0 L314.1 48.7 L312.4 49.4 L310.7 50.0 L309.0 50.7 L307.3 51.3 L305.5 51.8 L303.7 52.4 L301.9 52.9 L300.1 53.4 L298.3 53.9 L296.4 54.4 L294.6 54.8 L292.7 55.3 L290.8 55.7 L288.9 56.1 L287.1 56.5 L285.2 56.8 L283.3 57.2 L281.4 57.5 L279.5 57.8 L277.6 58.1 L275.7 58.4 L273.8 58.7 L271.9 59.0 L270.0 59.2 L268.0 59.4 L266.1 59.6 L264.2 59.8 L262.3 60.0 L260.4 60.1 L258.5 60.3 L256.6 60.4 L254.7 60.5 L252.8 60.5 L250.9 60.6 L249.0 60.6 L247.1 60.6 L245.2 60.6 L243.3 60.6 L241.4 60.5 L239.4 60.5 L237.5 60.4 L235.6 60.3 L233.6 60.2 L231.7 60.1 L229.7 59.9 L227.8 59.8 L225.8 59.6 L223.9 59.4 L221.9 59.3 L219.9 59.1 L218.0 58.9 L216.0 58.7 L214.0 58.5 L212.0 58.4 L210.0 58.2 L208.1 58.0 L206.1 57.8 L204.1 57.6 L202.1 57.4 L200.1 57.2 L198.1 57.0 L196.2 56.8 L194.2 56.6 L192.2 56.4 L190.2 56.1 L188.2 55.9 L186.3 55.7 L184.3 55.5 L182.3 55.3 L180.3 55.1 L178.4 54.8 L176.4 54.6 L174.4 54.4 L172.4 54.2 L170.4 53.9 L168.5 53.7 L166.5 53.5 L164.5 53.2 L162.5 53.0 L160.5 52.7 L158.6 52.5 L156.6 52.3 L154.6 52.0 L152.6 51.8 L150.6 51.5 L148.5 51.3 L146.5 51.1 L144.5 50.9 L142.5 50.7 L140.4 50.5 L138.4 50.3 L136.3 50.2 L134.2 50.0 L132.2 49.9 L130.1 49.8 L128.1 49.7 L126.0 49.6 L123.9 49.5 L121.9 49.5 L119.8 49.5 L117.7 49.5 L115.7 49.5 L113.6 49.5 L111.6 49.5 L109.5 49.6 L107.5 49.6 L105.4 49.7 L103.4 49.8 L101.3 49.9 L99.2 50.0 L97.2 50.1 L95.1 50.3 L93.0 50.4 L91.0 50.6 L88.9 50.9 L86.8 51.1 L84.7 51.4 L82.6 51.7 L80.5 52.0 L78.4 52.4 L76.4 52.8 L74.3 53.2 L72.2 53.6 L70.1 54.1 L68.1 54.7 L66.0 55.2 L64.0 55.8 L62.0 56.4 L59.9 57.1 L57.9 57.8 L55.9 58.5 L54.0 59.2 L52.0 60.0 L50.0 60.8 L48.1 61.7 L46.2 62.5 L44.2 63.4 L42.3 64.3 L40.5 65.3 L38.6 66.2 L36.7 67.2 L34.9 68.2 L33.1 69.2 L31.2 70.3 L29.4 71.3 L27.7 72.4 L25.9 73.5 L24.1 74.7 L22.4 75.8 L20.7 76.9 L18.9 78.1 L17.2 79.3 L15.5 80.5 L13.8 81.7 L12.1 83.0 L10.5 84.3 L8.8 85.6 L7.2 86.9 L5.6 88.2 L3.9 89.6 L2.3 91.0 L0.8 92.5 L-0.8 94.0 L-2.3 95.5 L-3.8 97.0 L-5.3 98.6 L-6.7 100.2 L-8.1 101.9 L-9.5 103.6 L-10.8 105.3 L-12.1 107.1 L-13.4 108.9 L-14.6 110.8 L-15.7 112.7 L-16.8 114.6 L-17.8 116.6 L-18.8 118.7 L-19.7 120.8 L-20.4 122.9 L-21.1 125.1 L-21.7 127.4 L-22.2 129.7 L-22.5 132.0 L-22.7 134.4 L-22.7 136.7 L-22.5 139.1 L-22.2 141.5 L-21.7 143.9 L-20.9 146.2 L-20.0 148.4 L-18.9 150.6 L-17.7 152.6 L-16.4 154.5 L-14.9 156.3 L-13.4 158.0 L-11.8 159.6 L-10.1 161.0 L-8.4 162.4 L-6.8 163.7 L-5.1 165.0 L-3.4 166.2 L-1.8 167.3 L-0.1 168.5 L1.5 169.6 L3.1 170.7 L4.7 171.9 L6.3 173.0 L7.9 174.1 L9.4 175.2 L10.9 176.4 L12.4 177.5 L13.9 178.6 L15.3 179.8 L16.8 181.0 L18.1 182.2 L19.5 183.4 L20.8 184.6 L22.1 185.9 L23.3 187.1 L24.5 188.4 L25.7 189.8 L26.8 191.1 L27.9 192.5 L29.0 194.0 L30.1 195.4 L31.2 196.9 L32.2 198.4 L33.3 200.0 L34.3 201.6 L35.3 203.2 L36.3 204.8 L37.3 206.4 L38.3 208.0 L39.2 209.6 L40.1 211.2 L41.0 212.8 L41.8 214.4 L42.6 216.1 L43.3 217.7 L44.0 219.3 L44.7 220.9 L45.3 222.6 L45.8 224.2 L46.4 225.9 L46.9 227.6 L47.3 229.3 L47.7 231.0 L48.1 232.8 L48.4 234.5 L48.7 236.3 L49.0 238.1 L49.2 239.9 L49.4 241.7 L49.5 243.5 L49.6 245.3 L49.7 247.1 L49.8 248.9 L49.8 250.8 L49.7 252.6 L49.7 254.4 L49.6 256.2 L49.5 258.1 L49.3 259.9 L49.1 261.7 L48.9 263.5 L48.6 265.3 L48.3 267.1 L48.0 268.8 L47.6 270.6 L47.2 272.3 L46.8 274.0 L46.3 275.7 L45.7 277.4 L45.2 279.1 L44.6 280.7 L43.9 282.4 L43.2 284.0 L42.5 285.7 L41.7 287.3 L40.9 288.9 L40.0 290.5 L39.2 292.1 L38.2 293.6 L37.3 295.2 L36.3 296.8 L35.3 298.3 L34.2 299.8 L33.2 301.3 L32.1 302.8 L31.0 304.3 L29.8 305.8 L28.7 307.2 L27.5 308.6 L26.3 310.0 L25.1 311.4 L23.8 312.7 L22.6 314.0 L21.3 315.3 L20.0 316.5 L18.7 317.7 L17.3 318.9 L16.0 320.0 L14.6 321.1 L13.1 322.2 L11.7 323.2 L10.2 324.2 L8.7 325.2 L7.1 326.2 L5.5 327.2 L3.9 328.1 L2.3 329.1 L0.6 330.0 L-1.1 330.9 L-2.8 331.8 L-4.5 332.7 L-6.3 333.6 L-8.0 334.5 L-9.8 335.4 L-11.5 336.3 L-13.3 337.2 L-15.1 338.1 L-16.8 339.0 L-18.6 339.9 L-20.4 340.8 L-22.2 341.7 L-23.9 342.6 L-25.7 343.4 L-27.5 344.3 L-29.3 345.2 L-31.1 346.1 L-32.9 347.0 L-32.9 347.0 L-36.6 339.3 L-36.6 339.3 L-34.8 338.4 L-33.1 337.6 L-31.3 336.7 L-29.5 335.8 L-27.7 334.9 L-25.9 334.1 L-24.2 333.2 L-22.4 332.3 L-20.6 331.4 L-18.9 330.5 L-17.1 329.7 L-15.4 328.8 L-13.6 327.9 L-11.9 327.0 L-10.2 326.1 L-8.5 325.2 L-6.8 324.3 L-5.1 323.4 L-3.5 322.5 L-1.9 321.7 L-0.4 320.8 L1.2 319.9 L2.6 319.0 L4.1 318.1 L5.5 317.2 L6.8 316.2 L8.1 315.3 L9.4 314.4 L10.6 313.4 L11.9 312.4 L13.1 311.3 L14.2 310.3 L15.4 309.2 L16.5 308.0 L17.7 306.9 L18.8 305.7 L19.9 304.4 L21.0 303.1 L22.1 301.8 L23.2 300.5 L24.2 299.1 L25.3 297.8 L26.3 296.4 L27.3 295.0 L28.2 293.6 L29.2 292.1 L30.1 290.7 L30.9 289.3 L31.8 287.8 L32.6 286.4 L33.4 285.0 L34.1 283.5 L34.8 282.1 L35.4 280.6 L36.0 279.2 L36.6 277.7 L37.2 276.2 L37.7 274.8 L38.1 273.3 L38.6 271.8 L39.0 270.2 L39.3 268.7 L39.7 267.1 L40.0 265.6 L40.2 264.0 L40.5 262.3 L40.7 260.7 L40.9 259.1 L41.0 257.4 L41.1 255.7 L41.2 254.1 L41.2 252.4 L41.3 250.7 L41.3 249.1 L41.2 247.4 L41.1 245.7 L41.0 244.1 L40.9 242.4 L40.7 240.8 L40.5 239.2 L40.3 237.6 L40.0 236.0 L39.8 234.4 L39.4 232.9 L39.1 231.3 L38.7 229.8 L38.2 228.4 L37.8 226.9 L37.3 225.4 L36.7 224.0 L36.2 222.6 L35.5 221.1 L34.9 219.7 L34.2 218.2 L33.4 216.8 L32.6 215.3 L31.8 213.8 L30.9 212.3 L30.0 210.7 L29.1 209.2 L28.1 207.7 L27.2 206.2 L26.2 204.7 L25.2 203.2 L24.2 201.8 L23.3 200.4 L22.3 199.1 L21.3 197.8 L20.3 196.5 L19.2 195.3 L18.2 194.2 L17.1 193.0 L16.0 191.9 L14.9 190.7 L13.7 189.6 L12.5 188.5 L11.2 187.5 L9.9 186.4 L8.6 185.3 L7.2 184.2 L5.8 183.1 L4.4 182.1 L2.9 181.0 L1.4 179.9 L-0.2 178.8 L-1.7 177.7 L-3.3 176.6 L-5.0 175.5 L-6.7 174.3 L-8.4 173.1 L-10.1 171.8 L-12.0 170.5 L-13.8 169.0 L-15.7 167.5 L-17.6 165.8 L-19.5 163.9 L-21.3 161.9 L-23.1 159.6 L-24.8 157.2 L-26.4 154.7 L-27.8 151.9 L-28.9 149.0 L-29.9 146.1 L-30.5 143.1 L-31.0 140.0 L-31.2 137.0 L-31.2 134.0 L-31.0 131.1 L-30.6 128.3 L-30.0 125.5 L-29.3 122.8 L-28.5 120.2 L-27.6 117.7 L-26.6 115.3 L-25.5 112.9 L-24.3 110.6 L-23.1 108.4 L-21.8 106.3 L-20.5 104.2 L-19.1 102.2 L-17.7 100.3 L-16.2 98.3 L-14.7 96.5 L-13.2 94.7 L-11.6 92.9 L-10.0 91.2 L-8.4 89.5 L-6.7 87.9 L-5.0 86.3 L-3.4 84.7 L-1.7 83.2 L0.1 81.7 L1.8 80.3 L3.5 78.9 L5.3 77.5 L7.0 76.2 L8.8 74.9 L10.6 73.6 L12.3 72.3 L14.1 71.1 L15.9 69.9 L17.7 68.7 L19.5 67.5 L21.4 66.3 L23.2 65.2 L25.1 64.1 L27.0 62.9 L28.9 61.9 L30.8 60.8 L32.7 59.7 L34.6 58.7 L36.6 57.7 L38.6 56.7 L40.6 55.7 L42.6 54.8 L44.7 53.9 L46.7 53.0 L48.8 52.1 L50.9 51.3 L53.0 50.5 L55.1 49.8 L57.2 49.0 L59.4 48.3 L61.6 47.7 L63.7 47.0 L65.9 46.4 L68.1 45.9 L70.3 45.4 L72.5 44.9 L74.7 44.4 L76.9 44.0 L79.1 43.6 L81.3 43.3 L83.6 42.9 L85.8 42.7 L87.9 42.4 L90.1 42.2 L92.3 42.0 L94.5 41.8 L96.6 41.6 L98.7 41.5 L100.9 41.4 L103.0 41.3 L105.1 41.2 L107.2 41.1 L109.3 41.1 L111.4 41.0 L113.5 41.0 L115.6 41.0 L117.7 41.0 L119.9 41.0 L122.0 41.0 L124.1 41.0 L126.3 41.1 L128.4 41.2 L130.5 41.3 L132.7 41.4 L134.8 41.5 L136.9 41.7 L139.1 41.8 L141.2 42.0 L143.3 42.2 L145.4 42.4 L147.4 42.6 L149.5 42.9 L151.5 43.1 L153.6 43.3 L155.6 43.6 L157.6 43.8 L159.6 44.1 L161.6 44.3 L163.5 44.5 L165.5 44.8 L167.5 45.0 L169.5 45.2 L171.4 45.5 L173.4 45.7 L175.4 45.9 L177.3 46.2 L179.3 46.4 L181.3 46.6 L183.3 46.8 L185.2 47.1 L187.2 47.3 L189.2 47.5 L191.1 47.7 L193.1 47.9 L195.1 48.1 L197.0 48.3 L199.0 48.5 L201.0 48.7 L203.0 48.9 L204.9 49.1 L206.9 49.3 L208.9 49.5 L210.9 49.7 L212.8 49.9 L214.8 50.1 L216.8 50.3 L218.7 50.5 L220.7 50.6 L222.7 50.8 L224.6 51.0 L226.5 51.1 L228.5 51.3 L230.4 51.4 L232.3 51.6 L234.2 51.7 L236.0 51.8 L237.9 51.9 L239.8 52.0 L241.6 52.0 L243.4 52.1 L245.3 52.1 L247.1 52.1 L248.9 52.1 L250.7 52.1 L252.5 52.0 L254.4 52.0 L256.2 51.9 L258.0 51.8 L259.8 51.7 L261.6 51.5 L263.4 51.4 L265.3 51.2 L267.1 51.0 L268.9 50.8 L270.8 50.5 L272.6 50.3 L274.4 50.0 L276.3 49.7 L278.1 49.4 L279.9 49.1 L281.8 48.8 L283.6 48.5 L285.4 48.1 L287.2 47.8 L289.0 47.4 L290.8 47.0 L292.6 46.6 L294.4 46.1 L296.1 45.7 L297.8 45.2 L299.6 44.7 L301.3 44.3 L302.9 43.7 L304.6 43.2 L306.2 42.7 L307.8 42.1 L309.3 41.5 L310.9 40.9 L312.4 40.2 L313.8 39.6 L315.3 38.9 L316.8 38.1 L318.2 37.4 L319.6 36.6 L321.0 35.8 L322.4 34.9 L323.8 34.0 L325.1 33.1 L326.5 32.1 L327.8 31.1 L329.2 30.1 L330.5 29.1 L331.9 28.0 L333.2 26.9 L334.5 25.7 L335.8 24.6 L337.1 23.4 L338.4 22.2 L339.7 21.0 L340.9 19.8 L342.1 18.5 L343.3 17.3 L344.4 16.0 L345.6 14.7 L346.7 13.5 L347.7 12.2 L348.8 10.8 L349.8 9.5 L350.8 8.1 L351.9 6.7 L352.9 5.3 L353.9 3.8 L354.9 2.2 L355.9 0.7 L357.0 -0.9 L358.0 -2.6 L359.1 -4.3 L360.2 -6.0 L361.3 -7.7 L362.5 -9.5 L363.7 -11.2 L364.8 -12.9 L366.0 -14.7 L367.2 -16.4 L368.4 -18.1 L369.7 -19.8 L370.9 -21.5 L372.1 -23.2 L373.3 -24.9 L374.6 -26.5 L375.8 -28.1 L377.0 -29.8 L378.2 -31.4 L379.5 -33.0 L380.7 -34.6 L381.9 -36.2 L383.1 -37.8 L384.3 -39.4 L385.6 -41.0 L386.8 -42.6 L388.0 -44.2 L389.2 -45.8 L390.4 -47.4 L391.6 -49.0 L392.9 -50.6 L394.1 -52.2 L395.3 -53.7 L396.5 -55.3Z" fill="#ad92d4"/>
<path d="M1089.0 -50.5 L1090.2 -48.9 L1091.4 -47.3 L1092.6 -45.7 L1093.8 -44.1 L1095.0 -42.5 L1096.2 -40.9 L1097.4 -39.3 L1098.6 -37.7 L1099.8 -36.1 L1101.0 -34.5 L1102.2 -32.9 L1103.4 -31.3 L1104.6 -29.6 L1105.8 -28.0 L1107.0 -26.4 L1108.2 -24.8 L1109.4 -23.2 L1110.6 -21.6 L1111.8 -19.9 L1113.0 -18.3 L1114.2 -16.7 L1115.4 -15.1 L1116.5 -13.5 L1117.7 -11.9 L1118.8 -10.4 L1120.0 -8.9 L1121.1 -7.4 L1122.2 -6.0 L1123.3 -4.6 L1124.4 -3.3 L1125.4 -2.0 L1126.5 -0.8 L1127.5 0.3 L1128.6 1.5 L1129.7 2.5 L1130.8 3.6 L1132.0 4.6 L1133.1 5.6 L1134.3 6.6 L1135.6 7.5 L1136.9 8.5 L1138.3 9.4 L1139.7 10.4 L1141.1 11.3 L1142.6 12.3 L1144.1 13.2 L1145.6 14.1 L1147.2 15.1 L1148.8 16.0 L1150.4 16.9 L1152.0 17.8 L1153.6 18.7 L1155.2 19.5 L1156.9 20.4 L1158.5 21.2 L1160.2 22.0 L1161.8 22.9 L1163.5 23.6 L1165.2 24.4 L1166.8 25.2 L1168.5 25.9 L1170.1 26.6 L1171.8 27.3 L1173.5 28.0 L1175.1 28.6 L1176.8 29.3 L1178.5 29.9 L1180.2 30.5 L1181.9 31.1 L1183.6 31.6 L1185.3 32.2 L1187.1 32.7 L1188.8 33.2 L1190.6 33.7 L1192.3 34.1 L1194.1 34.6 L1195.9 35.1 L1197.7 35.5 L1199.5 35.9 L1201.4 36.3 L1203.2 36.7 L1205.1 37.1 L1207.0 37.5 L1208.8 37.9 L1210.7 38.3 L1212.6 38.7 L1214.5 39.0 L1216.4 39.4 L1218.3 39.7 L1220.3 40.1 L1222.2 40.4 L1224.1 40.8 L1226.0 41.1 L1227.9 41.4 L1229.8 41.7 L1231.7 42.0 L1233.6 42.3 L1235.5 42.6 L1237.3 42.9 L1239.2 43.1 L1241.1 43.4 L1242.9 43.6 L1244.8 43.8 L1246.6 44.0 L1248.5 44.2 L1250.3 44.3 L1252.1 44.5 L1254.0 44.6 L1255.8 44.7 L1257.6 44.8 L1259.4 44.9 L1261.2 45.0 L1263.1 45.0 L1264.9 45.0 L1266.7 45.0 L1268.5 45.0 L1270.3 45.0 L1272.1 44.9 L1274.0 44.9 L1275.8 44.8 L1277.7 44.7 L1279.5 44.5 L1281.4 44.4 L1283.3 44.3 L1285.1 44.1 L1287.0 43.9 L1288.9 43.7 L1290.8 43.5 L1292.7 43.3 L1294.6 43.1 L1296.5 42.9 L1298.5 42.7 L1300.4 42.4 L1302.3 42.2 L1304.3 41.9 L1306.2 41.7 L1308.1 41.4 L1310.1 41.1 L1312.0 40.8 L1313.9 40.6 L1315.8 40.3 L1317.8 40.0 L1319.7 39.7 L1321.6 39.4 L1323.5 39.1 L1325.4 38.8 L1327.3 38.4 L1329.3 38.1 L1331.2 37.8 L1333.2 37.4 L1335.1 37.1 L1337.1 36.7 L1339.1 36.4 L1341.0 36.0 L1343.0 35.7 L1345.1 35.3 L1347.1 35.0 L1349.1 34.7 L1351.2 34.3 L1353.2 34.0 L1355.3 33.7 L1357.3 33.4 L1359.4 33.1 L1361.4 32.8 L1363.5 32.5 L1365.6 32.3 L1367.6 32.0 L1369.7 31.8 L1371.7 31.5 L1373.8 31.3 L1375.8 31.1 L1377.9 30.9 L1380.0 30.6 L1382.0 30.5 L1384.1 30.3 L1386.2 30.1 L1388.2 29.9 L1390.3 29.7 L1392.4 29.6 L1394.5 29.5 L1396.6 29.3 L1398.7 29.2 L1400.8 29.1 L1402.9 29.0 L1405.1 28.9 L1407.2 28.9 L1409.3 28.8 L1411.5 28.8 L1413.6 28.8 L1415.8 28.8 L1417.9 28.9 L1420.1 28.9 L1422.3 29.0 L1424.5 29.1 L1426.6 29.2 L1428.8 29.4 L1431.0 29.6 L1433.2 29.8 L1435.5 30.0 L1437.7 30.3 L1439.9 30.6 L1442.2 30.9 L1444.4 31.3 L1446.7 31.7 L1449.0 32.2 L1451.2 32.7 L1453.5 33.2 L1455.8 33.8 L1458.0 34.5 L1460.3 35.2 L1462.5 36.0 L1464.7 36.8 L1466.9 37.6 L1469.1 38.5 L1471.2 39.5 L1473.4 40.4 L1475.5 41.5 L1477.5 42.5 L1479.6 43.6 L1481.6 44.8 L1483.6 45.9 L1485.5 47.1 L1487.5 48.3 L1489.4 49.6 L1491.2 50.9 L1493.1 52.2 L1494.9 53.5 L1496.7 54.9 L1498.5 56.2 L1500.3 57.7 L1502.0 59.1 L1503.8 60.6 L1505.5 62.1 L1507.1 63.6 L1508.8 65.2 L1510.4 66.8 L1512.1 68.4 L1513.6 70.1 L1515.2 71.8 L1516.7 73.5 L1518.2 75.2 L1519.7 76.9 L1521.1 78.7 L1522.5 80.5 L1523.8 82.3 L1525.1 84.1 L1526.4 85.9 L1527.7 87.7 L1528.9 89.5 L1530.1 91.3 L1531.2 93.0 L1532.4 94.8 L1533.5 96.6 L1534.6 98.3 L1535.7 100.1 L1536.8 101.8 L1537.9 103.6 L1538.9 105.3 L1540.0 107.1 L1541.0 108.8 L1542.1 110.6 L1543.1 112.3 L1544.2 114.1 L1545.2 115.8 L1546.3 117.6 L1547.3 119.3 L1548.3 121.1 L1549.3 122.8 L1550.3 124.5 L1551.4 126.3 L1552.4 128.0 L1553.4 129.8 L1554.4 131.5 L1555.4 133.2 L1556.4 134.9 L1557.4 136.6 L1558.4 138.3 L1559.3 140.0 L1560.3 141.6 L1561.3 143.3 L1562.3 145.0 L1563.3 146.6 L1564.3 148.2 L1565.3 149.8 L1566.3 151.4 L1567.4 153.0 L1568.4 154.5 L1569.4 156.1 L1570.5 157.6 L1571.5 159.2 L1572.6 160.7 L1573.6 162.2 L1574.7 163.7 L1575.8 165.2 L1577.0 166.7 L1578.1 168.2 L1579.2 169.7 L1580.4 171.2 L1581.6 172.7 L1582.8 174.2 L1584.0 175.7 L1585.2 177.2 L1586.4 178.7 L1587.6 180.2 L1588.9 181.6 L1590.1 183.1 L1591.4 184.6 L1592.7 186.1 L1593.9 187.6 L1595.2 189.1 L1596.5 190.6 L1597.7 192.0 L1599.0 193.5 L1600.3 194.9 L1601.5 196.4 L1602.8 197.8 L1604.1 199.2 L1605.4 200.6 L1606.6 202.0 L1607.9 203.3 L1609.2 204.7 L1610.5 206.0 L1611.8 207.4 L1613.1 208.7 L1614.5 210.0 L1615.8 211.3 L1617.2 212.6 L1618.5 213.9 L1619.9 215.2 L1621.3 216.4 L1622.7 217.7 L1624.1 219.0 L1625.5 220.2 L1626.9 221.5 L1628.4 222.7 L1629.8 224.0 L1631.3 225.2 L1632.7 226.4 L1634.2 227.7 L1635.7 228.9 L1637.2 230.1 L1638.7 231.3 L1640.2 232.5 L1641.7 233.7 L1643.2 234.9 L1644.7 236.1 L1646.3 237.2 L1647.8 238.4 L1649.4 239.6 L1650.9 240.8 L1652.5 242.0 L1654.1 243.2 L1655.7 244.4 L1657.2 245.6 L1658.8 246.8 L1660.4 248.0 L1660.4 248.0 L1639.5 276.0 L1639.5 276.0 L1637.8 274.8 L1636.2 273.6 L1634.6 272.4 L1633.0 271.1 L1631.4 269.9 L1629.8 268.7 L1628.2 267.5 L1626.5 266.2 L1624.9 265.0 L1623.3 263.7 L1621.6 262.4 L1620.0 261.2 L1618.4 259.9 L1616.8 258.6 L1615.2 257.3 L1613.5 256.0 L1611.9 254.6 L1610.3 253.3 L1608.7 252.0 L1607.1 250.6 L1605.5 249.3 L1604.0 247.9 L1602.4 246.5 L1600.8 245.1 L1599.2 243.7 L1597.7 242.3 L1596.1 240.9 L1594.6 239.4 L1593.0 238.0 L1591.5 236.5 L1590.0 235.0 L1588.5 233.5 L1587.0 232.0 L1585.5 230.5 L1584.0 229.0 L1582.5 227.4 L1581.1 225.9 L1579.6 224.3 L1578.2 222.8 L1576.8 221.2 L1575.4 219.7 L1574.0 218.1 L1572.6 216.5 L1571.3 215.0 L1569.9 213.4 L1568.6 211.9 L1567.3 210.3 L1566.0 208.8 L1564.6 207.2 L1563.3 205.6 L1562.0 204.1 L1560.7 202.5 L1559.4 200.9 L1558.1 199.3 L1556.8 197.7 L1555.5 196.1 L1554.2 194.4 L1552.9 192.8 L1551.6 191.1 L1550.3 189.5 L1549.0 187.8 L1547.7 186.1 L1546.5 184.3 L1545.2 182.6 L1544.0 180.9 L1542.7 179.1 L1541.5 177.4 L1540.3 175.6 L1539.2 173.8 L1538.0 172.0 L1536.8 170.3 L1535.7 168.5 L1534.6 166.7 L1533.5 164.9 L1532.4 163.1 L1531.3 161.4 L1530.3 159.6 L1529.2 157.8 L1528.2 156.1 L1527.2 154.3 L1526.1 152.5 L1525.1 150.8 L1524.1 149.1 L1523.1 147.3 L1522.1 145.6 L1521.1 143.9 L1520.1 142.2 L1519.1 140.4 L1518.1 138.7 L1517.1 137.0 L1516.1 135.3 L1515.1 133.6 L1514.1 132.0 L1513.1 130.3 L1512.1 128.6 L1511.1 126.9 L1510.1 125.2 L1509.0 123.5 L1508.0 121.9 L1507.0 120.2 L1506.0 118.6 L1505.0 116.9 L1503.9 115.3 L1502.9 113.7 L1501.9 112.1 L1500.9 110.6 L1499.9 109.0 L1498.8 107.5 L1497.8 106.0 L1496.8 104.6 L1495.7 103.2 L1494.7 101.8 L1493.6 100.4 L1492.6 99.1 L1491.5 97.8 L1490.4 96.5 L1489.3 95.3 L1488.1 94.0 L1487.0 92.8 L1485.8 91.6 L1484.6 90.4 L1483.3 89.3 L1482.1 88.1 L1480.8 87.0 L1479.5 85.9 L1478.2 84.8 L1476.8 83.7 L1475.5 82.7 L1474.1 81.6 L1472.7 80.6 L1471.3 79.6 L1469.9 78.7 L1468.5 77.8 L1467.1 76.8 L1465.6 76.0 L1464.2 75.1 L1462.7 74.3 L1461.3 73.5 L1459.8 72.8 L1458.3 72.1 L1456.9 71.4 L1455.4 70.7 L1453.9 70.1 L1452.4 69.5 L1450.9 69.0 L1449.4 68.5 L1447.9 68.0 L1446.3 67.5 L1444.8 67.1 L1443.2 66.7 L1441.6 66.4 L1440.0 66.0 L1438.3 65.7 L1436.6 65.5 L1435.0 65.2 L1433.3 65.0 L1431.5 64.8 L1429.8 64.6 L1428.0 64.4 L1426.3 64.3 L1424.5 64.2 L1422.7 64.1 L1420.9 64.0 L1419.0 63.9 L1417.2 63.9 L1415.4 63.8 L1413.5 63.8 L1411.7 63.8 L1409.8 63.8 L1408.0 63.9 L1406.1 63.9 L1404.3 64.0 L1402.4 64.1 L1400.5 64.2 L1398.6 64.3 L1396.7 64.4 L1394.8 64.5 L1392.9 64.6 L1391.0 64.8 L1389.1 65.0 L1387.2 65.1 L1385.3 65.3 L1383.4 65.5 L1381.5 65.7 L1379.5 65.9 L1377.6 66.1 L1375.7 66.3 L1373.8 66.5 L1371.9 66.8 L1370.0 67.0 L1368.1 67.2 L1366.2 67.5 L1364.3 67.8 L1362.4 68.0 L1360.5 68.3 L1358.6 68.6 L1356.7 68.9 L1354.8 69.2 L1352.9 69.5 L1350.9 69.8 L1349.0 70.2 L1347.1 70.5 L1345.1 70.9 L1343.2 71.2 L1341.2 71.5 L1339.2 71.9 L1337.2 72.2 L1335.2 72.6 L1333.2 72.9 L1331.2 73.3 L1329.2 73.6 L1327.1 73.9 L1325.1 74.3 L1323.1 74.6 L1321.0 74.9 L1319.0 75.2 L1317.0 75.5 L1314.9 75.8 L1312.9 76.1 L1310.9 76.3 L1308.8 76.6 L1306.8 76.9 L1304.8 77.1 L1302.7 77.4 L1300.7 77.6 L1298.6 77.9 L1296.6 78.1 L1294.5 78.3 L1292.4 78.6 L1290.3 78.8 L1288.2 79.0 L1286.1 79.1 L1284.0 79.3 L1281.9 79.5 L1279.8 79.6 L1277.6 79.7 L1275.5 79.8 L1273.3 79.9 L1271.2 80.0 L1269.0 80.0 L1266.8 80.0 L1264.7 80.0 L1262.5 80.0 L1260.3 80.0 L1258.1 79.9 L1256.0 79.8 L1253.8 79.7 L1251.6 79.5 L1249.5 79.4 L1247.3 79.2 L1245.2 79.0 L1243.0 78.8 L1240.9 78.6 L1238.8 78.3 L1236.7 78.1 L1234.6 77.8 L1232.5 77.5 L1230.4 77.2 L1228.4 76.9 L1226.3 76.6 L1224.2 76.3 L1222.2 75.9 L1220.2 75.6 L1218.1 75.2 L1216.1 74.9 L1214.1 74.5 L1212.0 74.2 L1210.0 73.8 L1208.0 73.4 L1206.0 73.0 L1204.0 72.6 L1201.9 72.2 L1199.9 71.8 L1197.8 71.4 L1195.8 70.9 L1193.7 70.5 L1191.7 70.0 L1189.6 69.5 L1187.5 69.0 L1185.5 68.5 L1183.4 68.0 L1181.3 67.4 L1179.2 66.8 L1177.1 66.2 L1175.0 65.6 L1172.9 65.0 L1170.9 64.3 L1168.8 63.6 L1166.7 62.8 L1164.6 62.1 L1162.6 61.3 L1160.5 60.5 L1158.5 59.7 L1156.5 58.9 L1154.5 58.0 L1152.5 57.1 L1150.5 56.2 L1148.6 55.3 L1146.6 54.4 L1144.7 53.4 L1142.8 52.5 L1140.9 51.5 L1139.0 50.5 L1137.1 49.5 L1135.2 48.5 L1133.3 47.4 L1131.4 46.4 L1129.5 45.3 L1127.7 44.2 L1125.8 43.1 L1123.9 41.9 L1122.0 40.7 L1120.2 39.5 L1118.3 38.2 L1116.4 36.9 L1114.5 35.5 L1112.7 34.0 L1110.8 32.5 L1109.0 31.0 L1107.2 29.4 L1105.4 27.7 L1103.7 26.1 L1102.1 24.3 L1100.5 22.6 L1098.9 20.9 L1097.5 19.1 L1096.0 17.4 L1094.7 15.6 L1093.3 13.9 L1092.1 12.2 L1090.8 10.6 L1089.6 8.9 L1088.4 7.3 L1087.2 5.7 L1086.0 4.0 L1084.8 2.4 L1083.6 0.8 L1082.5 -0.7 L1081.3 -2.3 L1080.1 -3.9 L1078.9 -5.5 L1077.7 -7.1 L1076.5 -8.7 L1075.4 -10.3 L1074.2 -11.9 L1073.0 -13.5 L1071.8 -15.1 L1070.6 -16.7 L1069.4 -18.3 L1068.2 -19.9 L1067.0 -21.5 L1065.8 -23.1 L1064.6 -24.7 L1063.4 -26.3 L1062.2 -27.9 L1061.0 -29.5Z" fill="#ffe56c"/>
<path d="M1079.7 -43.5 L1080.9 -41.9 L1082.1 -40.3 L1083.3 -38.7 L1084.5 -37.1 L1085.7 -35.5 L1086.9 -33.9 L1088.1 -32.3 L1089.3 -30.7 L1090.5 -29.1 L1091.6 -27.5 L1092.8 -25.9 L1094.0 -24.3 L1095.2 -22.7 L1096.4 -21.1 L1097.6 -19.5 L1098.8 -17.8 L1100.0 -16.2 L1101.2 -14.6 L1102.4 -13.0 L1103.6 -11.4 L1104.8 -9.8 L1106.0 -8.2 L1107.2 -6.6 L1108.3 -5.0 L1109.5 -3.4 L1110.7 -1.8 L1111.8 -0.3 L1113.0 1.2 L1114.2 2.7 L1115.4 4.2 L1116.6 5.6 L1117.8 7.0 L1119.1 8.3 L1120.3 9.7 L1121.6 10.9 L1122.9 12.2 L1124.3 13.4 L1125.7 14.6 L1127.1 15.7 L1128.6 16.8 L1130.1 17.9 L1131.6 19.0 L1133.2 20.1 L1134.7 21.1 L1136.4 22.2 L1138.0 23.2 L1139.6 24.2 L1141.3 25.1 L1143.0 26.1 L1144.7 27.1 L1146.4 28.0 L1148.1 28.9 L1149.8 29.9 L1151.5 30.8 L1153.3 31.6 L1155.0 32.5 L1156.8 33.4 L1158.5 34.2 L1160.3 35.0 L1162.0 35.8 L1163.8 36.6 L1165.6 37.4 L1167.4 38.1 L1169.2 38.8 L1171.0 39.5 L1172.8 40.2 L1174.6 40.9 L1176.4 41.5 L1178.2 42.1 L1180.0 42.7 L1181.9 43.3 L1183.7 43.9 L1185.6 44.4 L1187.5 44.9 L1189.3 45.4 L1191.2 45.9 L1193.1 46.4 L1195.0 46.8 L1196.9 47.3 L1198.8 47.7 L1200.7 48.1 L1202.7 48.6 L1204.6 49.0 L1206.5 49.4 L1208.5 49.7 L1210.4 50.1 L1212.4 50.5 L1214.3 50.9 L1216.2 51.2 L1218.2 51.6 L1220.1 51.9 L1222.1 52.3 L1224.0 52.6 L1226.0 52.9 L1227.9 53.2 L1229.9 53.5 L1231.8 53.8 L1233.8 54.1 L1235.7 54.4 L1237.7 54.7 L1239.6 54.9 L1241.6 55.2 L1243.5 55.4 L1245.4 55.6 L1247.4 55.8 L1249.3 56.0 L1251.2 56.1 L1253.2 56.3 L1255.1 56.4 L1257.1 56.5 L1259.0 56.6 L1260.9 56.6 L1262.9 56.7 L1264.8 56.7 L1266.7 56.7 L1268.7 56.7 L1270.6 56.6 L1272.5 56.6 L1274.5 56.5 L1276.4 56.4 L1278.4 56.3 L1280.3 56.2 L1282.3 56.0 L1284.2 55.9 L1286.2 55.7 L1288.1 55.5 L1290.1 55.3 L1292.0 55.1 L1294.0 54.9 L1296.0 54.7 L1297.9 54.5 L1299.9 54.2 L1301.9 54.0 L1303.8 53.7 L1305.8 53.5 L1307.8 53.2 L1309.7 52.9 L1311.7 52.7 L1313.6 52.4 L1315.6 52.1 L1317.6 51.8 L1319.5 51.5 L1321.5 51.2 L1323.4 50.9 L1325.4 50.6 L1327.3 50.3 L1329.3 49.9 L1331.3 49.6 L1333.2 49.3 L1335.2 48.9 L1337.1 48.6 L1339.1 48.2 L1341.1 47.9 L1343.1 47.5 L1345.0 47.2 L1347.0 46.8 L1349.0 46.5 L1351.0 46.2 L1353.0 45.8 L1355.0 45.5 L1357.0 45.2 L1359.0 44.9 L1361.0 44.6 L1363.0 44.4 L1365.0 44.1 L1367.0 43.8 L1369.0 43.6 L1371.1 43.3 L1373.1 43.1 L1375.1 42.9 L1377.1 42.7 L1379.1 42.5 L1381.1 42.3 L1383.1 42.1 L1385.1 41.9 L1387.2 41.7 L1389.2 41.5 L1391.2 41.4 L1393.2 41.2 L1395.2 41.1 L1397.3 41.0 L1399.3 40.9 L1401.3 40.8 L1403.4 40.7 L1405.4 40.6 L1407.5 40.6 L1409.5 40.5 L1411.6 40.5 L1413.6 40.5 L1415.7 40.5 L1417.7 40.5 L1419.8 40.6 L1421.8 40.7 L1423.9 40.8 L1425.9 40.9 L1428.0 41.0 L1430.0 41.2 L1432.1 41.4 L1434.1 41.6 L1436.2 41.8 L1438.3 42.1 L1440.3 42.4 L1442.4 42.8 L1444.4 43.1 L1446.5 43.6 L1448.5 44.0 L1450.6 44.5 L1452.6 45.1 L1454.6 45.7 L1456.6 46.3 L1458.6 47.0 L1460.6 47.7 L1462.6 48.5 L1464.5 49.3 L1466.5 50.1 L1468.4 51.0 L1470.2 51.9 L1472.1 52.9 L1474.0 53.9 L1475.8 54.9 L1477.6 55.9 L1479.4 57.0 L1481.1 58.1 L1482.9 59.3 L1484.6 60.5 L1486.3 61.7 L1488.0 62.9 L1489.6 64.1 L1491.3 65.4 L1492.9 66.7 L1494.5 68.0 L1496.1 69.4 L1497.7 70.8 L1499.2 72.2 L1500.7 73.6 L1502.2 75.1 L1503.7 76.5 L1505.1 78.1 L1506.5 79.6 L1507.9 81.1 L1509.3 82.7 L1510.6 84.3 L1511.9 86.0 L1513.2 87.6 L1514.5 89.3 L1515.7 90.9 L1516.9 92.6 L1518.1 94.3 L1519.2 96.0 L1520.3 97.7 L1521.5 99.4 L1522.6 101.1 L1523.7 102.8 L1524.7 104.5 L1525.8 106.3 L1526.9 108.0 L1527.9 109.7 L1529.0 111.4 L1530.0 113.1 L1531.1 114.8 L1532.1 116.6 L1533.1 118.3 L1534.2 120.0 L1535.2 121.8 L1536.2 123.5 L1537.2 125.2 L1538.2 126.9 L1539.3 128.7 L1540.3 130.4 L1541.3 132.1 L1542.3 133.9 L1543.3 135.6 L1544.3 137.3 L1545.3 139.1 L1546.3 140.8 L1547.3 142.5 L1548.3 144.2 L1549.3 145.9 L1550.3 147.6 L1551.3 149.3 L1552.4 151.0 L1553.4 152.7 L1554.4 154.4 L1555.5 156.0 L1556.5 157.7 L1557.6 159.3 L1558.6 161.0 L1559.7 162.6 L1560.8 164.2 L1561.9 165.8 L1563.0 167.4 L1564.2 169.0 L1565.3 170.6 L1566.5 172.2 L1567.6 173.7 L1568.8 175.3 L1570.0 176.8 L1571.2 178.4 L1572.4 179.9 L1573.7 181.5 L1574.9 183.0 L1576.1 184.5 L1577.4 186.1 L1578.7 187.6 L1579.9 189.1 L1581.2 190.6 L1582.5 192.2 L1583.8 193.7 L1585.0 195.2 L1586.3 196.7 L1587.6 198.2 L1588.9 199.7 L1590.2 201.2 L1591.5 202.7 L1592.8 204.1 L1594.1 205.6 L1595.5 207.1 L1596.8 208.5 L1598.1 209.9 L1599.5 211.4 L1600.8 212.8 L1602.2 214.2 L1603.5 215.6 L1604.9 217.0 L1606.3 218.3 L1607.7 219.7 L1609.1 221.1 L1610.5 222.4 L1612.0 223.7 L1613.4 225.1 L1614.9 226.4 L1616.3 227.7 L1617.8 229.0 L1619.3 230.3 L1620.8 231.6 L1622.3 232.9 L1623.8 234.1 L1625.3 235.4 L1626.8 236.6 L1628.3 237.9 L1629.8 239.1 L1631.4 240.4 L1632.9 241.6 L1634.5 242.8 L1636.0 244.1 L1637.6 245.3 L1639.2 246.5 L1640.7 247.7 L1642.3 248.9 L1643.9 250.1 L1645.5 251.3 L1647.1 252.5 L1648.6 253.7 L1650.2 254.9 L1651.8 256.1 L1653.4 257.3 L1653.4 257.3 L1639.5 276.0 L1639.5 276.0 L1637.8 274.8 L1636.2 273.6 L1634.6 272.4 L1633.0 271.1 L1631.4 269.9 L1629.8 268.7 L1628.2 267.5 L1626.5 266.2 L1624.9 265.0 L1623.3 263.7 L1621.6 262.4 L1620.0 261.2 L1618.4 259.9 L1616.8 258.6 L1615.2 257.3 L1613.5 256.0 L1611.9 254.6 L1610.3 253.3 L1608.7 252.0 L1607.1 250.6 L1605.5 249.3 L1604.0 247.9 L1602.4 246.5 L1600.8 245.1 L1599.2 243.7 L1597.7 242.3 L1596.1 240.9 L1594.6 239.4 L1593.0 238.0 L1591.5 236.5 L1590.0 235.0 L1588.5 233.5 L1587.0 232.0 L1585.5 230.5 L1584.0 229.0 L1582.5 227.4 L1581.1 225.9 L1579.6 224.3 L1578.2 222.8 L1576.8 221.2 L1575.4 219.7 L1574.0 218.1 L1572.6 216.5 L1571.3 215.0 L1569.9 213.4 L1568.6 211.9 L1567.3 210.3 L1566.0 208.8 L1564.6 207.2 L1563.3 205.6 L1562.0 204.1 L1560.7 202.5 L1559.4 200.9 L1558.1 199.3 L1556.8 197.7 L1555.5 196.1 L1554.2 194.4 L1552.9 192.8 L1551.6 191.1 L1550.3 189.5 L1549.0 187.8 L1547.7 186.1 L1546.5 184.3 L1545.2 182.6 L1544.0 180.9 L1542.7 179.1 L1541.5 177.4 L1540.3 175.6 L1539.2 173.8 L1538.0 172.0 L1536.8 170.3 L1535.7 168.5 L1534.6 166.7 L1533.5 164.9 L1532.4 163.1 L1531.3 161.4 L1530.3 159.6 L1529.2 157.8 L1528.2 156.1 L1527.2 154.3 L1526.1 152.5 L1525.1 150.8 L1524.1 149.1 L1523.1 147.3 L1522.1 145.6 L1521.1 143.9 L1520.1 142.2 L1519.1 140.4 L1518.1 138.7 L1517.1 137.0 L1516.1 135.3 L1515.1 133.6 L1514.1 132.0 L1513.1 130.3 L1512.1 128.6 L1511.1 126.9 L1510.1 125.2 L1509.0 123.5 L1508.0 121.9 L1507.0 120.2 L1506.0 118.6 L1505.0 116.9 L1503.9 115.3 L1502.9 113.7 L1501.9 112.1 L1500.9 110.6 L1499.9 109.0 L1498.8 107.5 L1497.8 106.0 L1496.8 104.6 L1495.7 103.2 L1494.7 101.8 L1493.6 100.4 L1492.6 99.1 L1491.5 97.8 L1490.4 96.5 L1489.3 95.3 L1488.1 94.0 L1487.0 92.8 L1485.8 91.6 L1484.6 90.4 L1483.3 89.3 L1482.1 88.1 L1480.8 87.0 L1479.5 85.9 L1478.2 84.8 L1476.8 83.7 L1475.5 82.7 L1474.1 81.6 L1472.7 80.6 L1471.3 79.6 L1469.9 78.7 L1468.5 77.8 L1467.1 76.8 L1465.6 76.0 L1464.2 75.1 L1462.7 74.3 L1461.3 73.5 L1459.8 72.8 L1458.3 72.1 L1456.9 71.4 L1455.4 70.7 L1453.9 70.1 L1452.4 69.5 L1450.9 69.0 L1449.4 68.5 L1447.9 68.0 L1446.3 67.5 L1444.8 67.1 L1443.2 66.7 L1441.6 66.4 L1440.0 66.0 L1438.3 65.7 L1436.6 65.5 L1435.0 65.2 L1433.3 65.0 L1431.5 64.8 L1429.8 64.6 L1428.0 64.4 L1426.3 64.3 L1424.5 64.2 L1422.7 64.1 L1420.9 64.0 L1419.0 63.9 L1417.2 63.9 L1415.4 63.8 L1413.5 63.8 L1411.7 63.8 L1409.8 63.8 L1408.0 63.9 L1406.1 63.9 L1404.3 64.0 L1402.4 64.1 L1400.5 64.2 L1398.6 64.3 L1396.7 64.4 L1394.8 64.5 L1392.9 64.6 L1391.0 64.8 L1389.1 65.0 L1387.2 65.1 L1385.3 65.3 L1383.4 65.5 L1381.5 65.7 L1379.5 65.9 L1377.6 66.1 L1375.7 66.3 L1373.8 66.5 L1371.9 66.8 L1370.0 67.0 L1368.1 67.2 L1366.2 67.5 L1364.3 67.8 L1362.4 68.0 L1360.5 68.3 L1358.6 68.6 L1356.7 68.9 L1354.8 69.2 L1352.9 69.5 L1350.9 69.8 L1349.0 70.2 L1347.1 70.5 L1345.1 70.9 L1343.2 71.2 L1341.2 71.5 L1339.2 71.9 L1337.2 72.2 L1335.2 72.6 L1333.2 72.9 L1331.2 73.3 L1329.2 73.6 L1327.1 73.9 L1325.1 74.3 L1323.1 74.6 L1321.0 74.9 L1319.0 75.2 L1317.0 75.5 L1314.9 75.8 L1312.9 76.1 L1310.9 76.3 L1308.8 76.6 L1306.8 76.9 L1304.8 77.1 L1302.7 77.4 L1300.7 77.6 L1298.6 77.9 L1296.6 78.1 L1294.5 78.3 L1292.4 78.6 L1290.3 78.8 L1288.2 79.0 L1286.1 79.1 L1284.0 79.3 L1281.9 79.5 L1279.8 79.6 L1277.6 79.7 L1275.5 79.8 L1273.3 79.9 L1271.2 80.0 L1269.0 80.0 L1266.8 80.0 L1264.7 80.0 L1262.5 80.0 L1260.3 80.0 L1258.1 79.9 L1256.0 79.8 L1253.8 79.7 L1251.6 79.5 L1249.5 79.4 L1247.3 79.2 L1245.2 79.0 L1243.0 78.8 L1240.9 78.6 L1238.8 78.3 L1236.7 78.1 L1234.6 77.8 L1232.5 77.5 L1230.4 77.2 L1228.4 76.9 L1226.3 76.6 L1224.2 76.3 L1222.2 75.9 L1220.2 75.6 L1218.1 75.2 L1216.1 74.9 L1214.1 74.5 L1212.0 74.2 L1210.0 73.8 L1208.0 73.4 L1206.0 73.0 L1204.0 72.6 L1201.9 72.2 L1199.9 71.8 L1197.8 71.4 L1195.8 70.9 L1193.7 70.5 L1191.7 70.0 L1189.6 69.5 L1187.5 69.0 L1185.5 68.5 L1183.4 68.0 L1181.3 67.4 L1179.2 66.8 L1177.1 66.2 L1175.0 65.6 L1172.9 65.0 L1170.9 64.3 L1168.8 63.6 L1166.7 62.8 L1164.6 62.1 L1162.6 61.3 L1160.5 60.5 L1158.5 59.7 L1156.5 58.9 L1154.5 58.0 L1152.5 57.1 L1150.5 56.2 L1148.6 55.3 L1146.6 54.4 L1144.7 53.4 L1142.8 52.5 L1140.9 51.5 L1139.0 50.5 L1137.1 49.5 L1135.2 48.5 L1133.3 47.4 L1131.4 46.4 L1129.5 45.3 L1127.7 44.2 L1125.8 43.1 L1123.9 41.9 L1122.0 40.7 L1120.2 39.5 L1118.3 38.2 L1116.4 36.9 L1114.5 35.5 L1112.7 34.0 L1110.8 32.5 L1109.0 31.0 L1107.2 29.4 L1105.4 27.7 L1103.7 26.1 L1102.1 24.3 L1100.5 22.6 L1098.9 20.9 L1097.5 19.1 L1096.0 17.4 L1094.7 15.6 L1093.3 13.9 L1092.1 12.2 L1090.8 10.6 L1089.6 8.9 L1088.4 7.3 L1087.2 5.7 L1086.0 4.0 L1084.8 2.4 L1083.6 0.8 L1082.5 -0.7 L1081.3 -2.3 L1080.1 -3.9 L1078.9 -5.5 L1077.7 -7.1 L1076.5 -8.7 L1075.4 -10.3 L1074.2 -11.9 L1073.0 -13.5 L1071.8 -15.1 L1070.6 -16.7 L1069.4 -18.3 L1068.2 -19.9 L1067.0 -21.5 L1065.8 -23.1 L1064.6 -24.7 L1063.4 -26.3 L1062.2 -27.9 L1061.0 -29.5Z" fill="#ffc282"/>
<path d="M1070.3 -36.5 L1071.5 -34.9 L1072.7 -33.3 L1073.9 -31.7 L1075.1 -30.1 L1076.3 -28.5 L1077.5 -26.9 L1078.7 -25.3 L1079.9 -23.7 L1081.1 -22.1 L1082.3 -20.5 L1083.5 -18.9 L1084.7 -17.3 L1085.9 -15.7 L1087.1 -14.1 L1088.3 -12.5 L1089.5 -10.9 L1090.7 -9.3 L1091.8 -7.7 L1093.0 -6.1 L1094.2 -4.5 L1095.4 -2.9 L1096.6 -1.3 L1097.8 0.3 L1099.0 2.0 L1100.2 3.6 L1101.4 5.2 L1102.6 6.8 L1103.8 8.4 L1105.1 10.0 L1106.4 11.6 L1107.8 13.2 L1109.1 14.8 L1110.6 16.3 L1112.0 17.9 L1113.5 19.3 L1115.1 20.8 L1116.6 22.2 L1118.2 23.6 L1119.9 24.9 L1121.6 26.2 L1123.2 27.4 L1124.9 28.6 L1126.7 29.8 L1128.4 30.9 L1130.1 32.0 L1131.9 33.1 L1133.7 34.2 L1135.4 35.2 L1137.2 36.3 L1139.0 37.3 L1140.8 38.2 L1142.6 39.2 L1144.4 40.2 L1146.2 41.1 L1148.0 42.1 L1149.9 43.0 L1151.7 43.9 L1153.5 44.8 L1155.4 45.6 L1157.3 46.5 L1159.2 47.3 L1161.0 48.1 L1162.9 48.9 L1164.9 49.7 L1166.8 50.4 L1168.7 51.2 L1170.6 51.9 L1172.6 52.5 L1174.5 53.2 L1176.5 53.8 L1178.5 54.5 L1180.4 55.0 L1182.4 55.6 L1184.4 56.2 L1186.4 56.7 L1188.3 57.2 L1190.3 57.7 L1192.3 58.2 L1194.3 58.7 L1196.3 59.1 L1198.3 59.5 L1200.3 60.0 L1202.2 60.4 L1204.2 60.8 L1206.2 61.2 L1208.2 61.6 L1210.2 62.0 L1212.2 62.3 L1214.1 62.7 L1216.1 63.1 L1218.1 63.4 L1220.1 63.8 L1222.1 64.1 L1224.1 64.4 L1226.1 64.8 L1228.1 65.1 L1230.1 65.4 L1232.1 65.7 L1234.1 66.0 L1236.1 66.2 L1238.2 66.5 L1240.2 66.8 L1242.2 67.0 L1244.2 67.2 L1246.3 67.4 L1248.3 67.6 L1250.4 67.8 L1252.4 67.9 L1254.5 68.0 L1256.5 68.1 L1258.6 68.2 L1260.6 68.3 L1262.7 68.3 L1264.7 68.4 L1266.8 68.4 L1268.8 68.3 L1270.9 68.3 L1272.9 68.2 L1275.0 68.2 L1277.0 68.1 L1279.1 68.0 L1281.1 67.8 L1283.1 67.7 L1285.2 67.5 L1287.2 67.3 L1289.2 67.1 L1291.3 66.9 L1293.3 66.7 L1295.3 66.5 L1297.3 66.3 L1299.3 66.1 L1301.3 65.8 L1303.3 65.6 L1305.3 65.3 L1307.3 65.0 L1309.3 64.8 L1311.3 64.5 L1313.3 64.2 L1315.3 63.9 L1317.3 63.7 L1319.3 63.4 L1321.3 63.1 L1323.3 62.7 L1325.3 62.4 L1327.3 62.1 L1329.3 61.8 L1331.3 61.4 L1333.2 61.1 L1335.2 60.8 L1337.2 60.4 L1339.2 60.1 L1341.1 59.7 L1343.1 59.4 L1345.1 59.0 L1347.0 58.7 L1349.0 58.3 L1350.9 58.0 L1352.9 57.7 L1354.8 57.4 L1356.8 57.1 L1358.7 56.8 L1360.7 56.5 L1362.6 56.2 L1364.6 55.9 L1366.5 55.7 L1368.5 55.4 L1370.5 55.2 L1372.4 54.9 L1374.4 54.7 L1376.3 54.5 L1378.3 54.3 L1380.3 54.1 L1382.2 53.9 L1384.2 53.7 L1386.2 53.5 L1388.1 53.3 L1390.1 53.2 L1392.1 53.0 L1394.0 52.9 L1396.0 52.7 L1398.0 52.6 L1399.9 52.5 L1401.9 52.4 L1403.8 52.3 L1405.8 52.3 L1407.7 52.2 L1409.7 52.2 L1411.6 52.2 L1413.6 52.2 L1415.5 52.2 L1417.5 52.2 L1419.4 52.3 L1421.3 52.3 L1423.3 52.4 L1425.2 52.5 L1427.1 52.6 L1429.0 52.8 L1430.9 53.0 L1432.8 53.2 L1434.7 53.4 L1436.6 53.7 L1438.5 53.9 L1440.3 54.2 L1442.2 54.6 L1444.0 55.0 L1445.9 55.4 L1447.7 55.8 L1449.5 56.3 L1451.2 56.8 L1453.0 57.4 L1454.8 58.0 L1456.5 58.6 L1458.2 59.3 L1460.0 60.0 L1461.7 60.7 L1463.4 61.5 L1465.0 62.3 L1466.7 63.2 L1468.3 64.1 L1470.0 65.0 L1471.6 66.0 L1473.2 66.9 L1474.8 67.9 L1476.4 69.0 L1478.0 70.0 L1479.5 71.1 L1481.1 72.3 L1482.6 73.4 L1484.1 74.6 L1485.6 75.8 L1487.0 77.0 L1488.5 78.2 L1489.9 79.4 L1491.3 80.7 L1492.6 82.0 L1494.0 83.3 L1495.3 84.7 L1496.6 86.0 L1497.9 87.4 L1499.2 88.8 L1500.4 90.3 L1501.6 91.7 L1502.8 93.2 L1504.0 94.7 L1505.1 96.2 L1506.2 97.8 L1507.3 99.3 L1508.4 100.9 L1509.5 102.5 L1510.6 104.1 L1511.7 105.8 L1512.7 107.4 L1513.8 109.1 L1514.8 110.7 L1515.9 112.4 L1516.9 114.1 L1518.0 115.8 L1519.0 117.5 L1520.0 119.2 L1521.1 120.9 L1522.1 122.6 L1523.1 124.3 L1524.1 126.0 L1525.1 127.7 L1526.2 129.4 L1527.2 131.1 L1528.2 132.8 L1529.2 134.6 L1530.2 136.3 L1531.2 138.0 L1532.2 139.7 L1533.2 141.5 L1534.2 143.2 L1535.2 144.9 L1536.2 146.7 L1537.2 148.4 L1538.2 150.1 L1539.3 151.9 L1540.3 153.6 L1541.3 155.3 L1542.4 157.1 L1543.4 158.8 L1544.5 160.5 L1545.6 162.3 L1546.7 164.0 L1547.8 165.7 L1548.9 167.4 L1550.0 169.1 L1551.2 170.8 L1552.3 172.5 L1553.5 174.1 L1554.7 175.8 L1555.9 177.5 L1557.1 179.1 L1558.3 180.7 L1559.5 182.4 L1560.8 184.0 L1562.0 185.6 L1563.3 187.2 L1564.6 188.8 L1565.8 190.3 L1567.1 191.9 L1568.4 193.5 L1569.7 195.0 L1571.0 196.6 L1572.3 198.1 L1573.6 199.7 L1574.9 201.2 L1576.2 202.8 L1577.5 204.3 L1578.8 205.8 L1580.1 207.3 L1581.4 208.9 L1582.8 210.4 L1584.1 211.9 L1585.5 213.4 L1586.8 214.9 L1588.2 216.4 L1589.6 217.9 L1591.0 219.4 L1592.4 220.9 L1593.8 222.3 L1595.2 223.8 L1596.7 225.2 L1598.1 226.7 L1599.6 228.1 L1601.1 229.5 L1602.6 230.9 L1604.0 232.3 L1605.5 233.7 L1607.1 235.0 L1608.6 236.4 L1610.1 237.7 L1611.6 239.1 L1613.2 240.4 L1614.7 241.7 L1616.2 243.0 L1617.8 244.3 L1619.4 245.6 L1620.9 246.9 L1622.5 248.2 L1624.1 249.5 L1625.7 250.7 L1627.2 252.0 L1628.8 253.2 L1630.4 254.5 L1632.0 255.7 L1633.6 257.0 L1635.2 258.2 L1636.8 259.4 L1638.4 260.6 L1640.0 261.8 L1641.6 263.0 L1643.2 264.2 L1644.8 265.4 L1646.4 266.6 L1646.4 266.6 L1639.5 276.0 L1639.5 276.0 L1637.8 274.8 L1636.2 273.6 L1634.6 272.4 L1633.0 271.1 L1631.4 269.9 L1629.8 268.7 L1628.2 267.5 L1626.5 266.2 L1624.9 265.0 L1623.3 263.7 L1621.6 262.4 L1620.0 261.2 L1618.4 259.9 L1616.8 258.6 L1615.2 257.3 L1613.5 256.0 L1611.9 254.6 L1610.3 253.3 L1608.7 252.0 L1607.1 250.6 L1605.5 249.3 L1604.0 247.9 L1602.4 246.5 L1600.8 245.1 L1599.2 243.7 L1597.7 242.3 L1596.1 240.9 L1594.6 239.4 L1593.0 238.0 L1591.5 236.5 L1590.0 235.0 L1588.5 233.5 L1587.0 232.0 L1585.5 230.5 L1584.0 229.0 L1582.5 227.4 L1581.1 225.9 L1579.6 224.3 L1578.2 222.8 L1576.8 221.2 L1575.4 219.7 L1574.0 218.1 L1572.6 216.5 L1571.3 215.0 L1569.9 213.4 L1568.6 211.9 L1567.3 210.3 L1566.0 208.8 L1564.6 207.2 L1563.3 205.6 L1562.0 204.1 L1560.7 202.5 L1559.4 200.9 L1558.1 199.3 L1556.8 197.7 L1555.5 196.1 L1554.2 194.4 L1552.9 192.8 L1551.6 191.1 L1550.3 189.5 L1549.0 187.8 L1547.7 186.1 L1546.5 184.3 L1545.2 182.6 L1544.0 180.9 L1542.7 179.1 L1541.5 177.4 L1540.3 175.6 L1539.2 173.8 L1538.0 172.0 L1536.8 170.3 L1535.7 168.5 L1534.6 166.7 L1533.5 164.9 L1532.4 163.1 L1531.3 161.4 L1530.3 159.6 L1529.2 157.8 L1528.2 156.1 L1527.2 154.3 L1526.1 152.5 L1525.1 150.8 L1524.1 149.1 L1523.1 147.3 L1522.1 145.6 L1521.1 143.9 L1520.1 142.2 L1519.1 140.4 L1518.1 138.7 L1517.1 137.0 L1516.1 135.3 L1515.1 133.6 L1514.1 132.0 L1513.1 130.3 L1512.1 128.6 L1511.1 126.9 L1510.1 125.2 L1509.0 123.5 L1508.0 121.9 L1507.0 120.2 L1506.0 118.6 L1505.0 116.9 L1503.9 115.3 L1502.9 113.7 L1501.9 112.1 L1500.9 110.6 L1499.9 109.0 L1498.8 107.5 L1497.8 106.0 L1496.8 104.6 L1495.7 103.2 L1494.7 101.8 L1493.6 100.4 L1492.6 99.1 L1491.5 97.8 L1490.4 96.5 L1489.3 95.3 L1488.1 94.0 L1487.0 92.8 L1485.8 91.6 L1484.6 90.4 L1483.3 89.3 L1482.1 88.1 L1480.8 87.0 L1479.5 85.9 L1478.2 84.8 L1476.8 83.7 L1475.5 82.7 L1474.1 81.6 L1472.7 80.6 L1471.3 79.6 L1469.9 78.7 L1468.5 77.8 L1467.1 76.8 L1465.6 76.0 L1464.2 75.1 L1462.7 74.3 L1461.3 73.5 L1459.8 72.8 L1458.3 72.1 L1456.9 71.4 L1455.4 70.7 L1453.9 70.1 L1452.4 69.5 L1450.9 69.0 L1449.4 68.5 L1447.9 68.0 L1446.3 67.5 L1444.8 67.1 L1443.2 66.7 L1441.6 66.4 L1440.0 66.0 L1438.3 65.7 L1436.6 65.5 L1435.0 65.2 L1433.3 65.0 L1431.5 64.8 L1429.8 64.6 L1428.0 64.4 L1426.3 64.3 L1424.5 64.2 L1422.7 64.1 L1420.9 64.0 L1419.0 63.9 L1417.2 63.9 L1415.4 63.8 L1413.5 63.8 L1411.7 63.8 L1409.8 63.8 L1408.0 63.9 L1406.1 63.9 L1404.3 64.0 L1402.4 64.1 L1400.5 64.2 L1398.6 64.3 L1396.7 64.4 L1394.8 64.5 L1392.9 64.6 L1391.0 64.8 L1389.1 65.0 L1387.2 65.1 L1385.3 65.3 L1383.4 65.5 L1381.5 65.7 L1379.5 65.9 L1377.6 66.1 L1375.7 66.3 L1373.8 66.5 L1371.9 66.8 L1370.0 67.0 L1368.1 67.2 L1366.2 67.5 L1364.3 67.8 L1362.4 68.0 L1360.5 68.3 L1358.6 68.6 L1356.7 68.9 L1354.8 69.2 L1352.9 69.5 L1350.9 69.8 L1349.0 70.2 L1347.1 70.5 L1345.1 70.9 L1343.2 71.2 L1341.2 71.5 L1339.2 71.9 L1337.2 72.2 L1335.2 72.6 L1333.2 72.9 L1331.2 73.3 L1329.2 73.6 L1327.1 73.9 L1325.1 74.3 L1323.1 74.6 L1321.0 74.9 L1319.0 75.2 L1317.0 75.5 L1314.9 75.8 L1312.9 76.1 L1310.9 76.3 L1308.8 76.6 L1306.8 76.9 L1304.8 77.1 L1302.7 77.4 L1300.7 77.6 L1298.6 77.9 L1296.6 78.1 L1294.5 78.3 L1292.4 78.6 L1290.3 78.8 L1288.2 79.0 L1286.1 79.1 L1284.0 79.3 L1281.9 79.5 L1279.8 79.6 L1277.6 79.7 L1275.5 79.8 L1273.3 79.9 L1271.2 80.0 L1269.0 80.0 L1266.8 80.0 L1264.7 80.0 L1262.5 80.0 L1260.3 80.0 L1258.1 79.9 L1256.0 79.8 L1253.8 79.7 L1251.6 79.5 L1249.5 79.4 L1247.3 79.2 L1245.2 79.0 L1243.0 78.8 L1240.9 78.6 L1238.8 78.3 L1236.7 78.1 L1234.6 77.8 L1232.5 77.5 L1230.4 77.2 L1228.4 76.9 L1226.3 76.6 L1224.2 76.3 L1222.2 75.9 L1220.2 75.6 L1218.1 75.2 L1216.1 74.9 L1214.1 74.5 L1212.0 74.2 L1210.0 73.8 L1208.0 73.4 L1206.0 73.0 L1204.0 72.6 L1201.9 72.2 L1199.9 71.8 L1197.8 71.4 L1195.8 70.9 L1193.7 70.5 L1191.7 70.0 L1189.6 69.5 L1187.5 69.0 L1185.5 68.5 L1183.4 68.0 L1181.3 67.4 L1179.2 66.8 L1177.1 66.2 L1175.0 65.6 L1172.9 65.0 L1170.9 64.3 L1168.8 63.6 L1166.7 62.8 L1164.6 62.1 L1162.6 61.3 L1160.5 60.5 L1158.5 59.7 L1156.5 58.9 L1154.5 58.0 L1152.5 57.1 L1150.5 56.2 L1148.6 55.3 L1146.6 54.4 L1144.7 53.4 L1142.8 52.5 L1140.9 51.5 L1139.0 50.5 L1137.1 49.5 L1135.2 48.5 L1133.3 47.4 L1131.4 46.4 L1129.5 45.3 L1127.7 44.2 L1125.8 43.1 L1123.9 41.9 L1122.0 40.7 L1120.2 39.5 L1118.3 38.2 L1116.4 36.9 L1114.5 35.5 L1112.7 34.0 L1110.8 32.5 L1109.0 31.0 L1107.2 29.4 L1105.4 27.7 L1103.7 26.1 L1102.1 24.3 L1100.5 22.6 L1098.9 20.9 L1097.5 19.1 L1096.0 17.4 L1094.7 15.6 L1093.3 13.9 L1092.1 12.2 L1090.8 10.6 L1089.6 8.9 L1088.4 7.3 L1087.2 5.7 L1086.0 4.0 L1084.8 2.4 L1083.6 0.8 L1082.5 -0.7 L1081.3 -2.3 L1080.1 -3.9 L1078.9 -5.5 L1077.7 -7.1 L1076.5 -8.7 L1075.4 -10.3 L1074.2 -11.9 L1073.0 -13.5 L1071.8 -15.1 L1070.6 -16.7 L1069.4 -18.3 L1068.2 -19.9 L1067.0 -21.5 L1065.8 -23.1 L1064.6 -24.7 L1063.4 -26.3 L1062.2 -27.9 L1061.0 -29.5Z" fill="#ff9a9a"/>
<path d="M2.8 970.0 L3.3 971.9 L3.9 973.8 L4.5 975.7 L5.1 977.6 L5.6 979.5 L6.2 981.4 L6.8 983.3 L7.3 985.1 L7.9 987.0 L8.5 988.8 L9.1 990.6 L9.7 992.5 L10.3 994.2 L10.9 996.0 L11.5 997.8 L12.1 999.5 L12.7 1001.2 L13.4 1002.9 L14.0 1004.6 L14.7 1006.3 L15.4 1007.9 L16.1 1009.5 L16.8 1011.1 L17.6 1012.8 L18.3 1014.3 L19.1 1015.9 L19.9 1017.5 L20.8 1019.1 L21.6 1020.7 L22.5 1022.3 L23.4 1023.9 L24.4 1025.6 L25.3 1027.2 L26.3 1028.9 L27.3 1030.5 L28.3 1032.2 L29.3 1033.9 L30.4 1035.7 L31.4 1037.4 L32.4 1039.2 L33.5 1040.9 L34.5 1042.7 L35.5 1044.5 L36.6 1046.2 L37.6 1048.0 L38.6 1049.8 L39.6 1051.6 L40.6 1053.3 L41.6 1055.0 L42.5 1056.7 L43.5 1058.4 L44.4 1060.1 L45.4 1061.7 L46.3 1063.3 L47.3 1064.9 L48.2 1066.4 L49.1 1067.8 L50.1 1069.2 L51.0 1070.6 L52.0 1072.0 L52.9 1073.2 L53.9 1074.5 L54.9 1075.7 L55.9 1076.9 L56.9 1078.0 L58.0 1079.2 L59.1 1080.3 L60.3 1081.4 L61.4 1082.5 L62.7 1083.6 L63.9 1084.6 L65.2 1085.7 L66.6 1086.7 L67.9 1087.8 L69.4 1088.9 L70.8 1089.9 L72.3 1090.9 L73.7 1092.0 L75.2 1093.0 L76.8 1094.0 L78.3 1095.0 L79.8 1096.0 L81.4 1096.9 L83.0 1097.9 L84.5 1098.8 L86.1 1099.8 L87.7 1100.7 L89.4 1101.6 L91.0 1102.5 L92.6 1103.4 L94.3 1104.3 L96.0 1105.2 L97.7 1106.1 L99.4 1106.9 L101.1 1107.8 L102.8 1108.7 L104.5 1109.5 L106.2 1110.3 L107.9 1111.2 L109.7 1112.0 L111.4 1112.8 L113.1 1113.6 L114.8 1114.4 L116.5 1115.1 L118.2 1115.9 L119.9 1116.6 L121.6 1117.3 L123.3 1118.0 L125.0 1118.7 L126.7 1119.3 L128.4 1120.0 L130.1 1120.6 L131.8 1121.2 L133.5 1121.8 L135.3 1122.3 L137.0 1122.9 L138.7 1123.4 L140.5 1123.9 L142.2 1124.4 L144.0 1124.9 L145.8 1125.4 L147.6 1125.8 L149.4 1126.2 L151.2 1126.7 L153.0 1127.1 L154.8 1127.5 L156.6 1127.8 L158.4 1128.2 L160.2 1128.5 L162.0 1128.9 L163.9 1129.2 L165.7 1129.5 L167.5 1129.8 L169.4 1130.0 L171.2 1130.3 L173.0 1130.5 L174.8 1130.8 L176.7 1131.0 L178.5 1131.1 L180.3 1131.3 L182.2 1131.5 L184.0 1131.6 L185.8 1131.7 L187.7 1131.8 L189.5 1131.9 L191.3 1132.0 L193.2 1132.1 L195.0 1132.1 L196.9 1132.1 L198.7 1132.1 L200.5 1132.1 L202.4 1132.1 L204.2 1132.0 L206.1 1132.0 L207.9 1131.9 L209.8 1131.8 L211.7 1131.7 L213.5 1131.6 L215.4 1131.5 L217.3 1131.3 L219.2 1131.2 L221.1 1131.0 L223.0 1130.8 L224.9 1130.6 L226.8 1130.5 L228.7 1130.2 L230.7 1130.0 L232.6 1129.8 L234.5 1129.6 L236.5 1129.4 L238.4 1129.1 L240.3 1128.9 L242.3 1128.6 L244.3 1128.4 L246.2 1128.1 L248.2 1127.9 L250.1 1127.6 L252.1 1127.4 L254.1 1127.1 L256.1 1126.8 L258.0 1126.6 L260.0 1126.3 L262.0 1126.0 L264.0 1125.8 L266.0 1125.5 L268.0 1125.2 L270.0 1125.0 L272.0 1124.7 L274.0 1124.5 L276.0 1124.2 L278.0 1123.9 L280.0 1123.7 L282.0 1123.4 L284.0 1123.2 L286.0 1123.0 L288.0 1122.7 L290.0 1122.5 L292.0 1122.2 L293.9 1122.0 L295.9 1121.7 L297.9 1121.5 L299.9 1121.2 L301.9 1121.0 L303.8 1120.7 L305.8 1120.5 L307.8 1120.3 L309.8 1120.0 L311.8 1119.8 L313.8 1119.5 L315.8 1119.3 L317.9 1119.0 L319.9 1118.8 L321.9 1118.6 L324.0 1118.3 L326.1 1118.1 L328.2 1117.9 L330.3 1117.7 L332.4 1117.5 L334.5 1117.4 L336.6 1117.2 L338.8 1117.1 L340.9 1116.9 L343.1 1116.9 L345.3 1116.8 L347.4 1116.7 L349.6 1116.7 L351.8 1116.7 L354.0 1116.7 L356.2 1116.8 L358.4 1116.8 L360.6 1116.9 L362.8 1117.1 L365.0 1117.2 L367.3 1117.4 L369.5 1117.6 L371.7 1117.8 L373.9 1118.1 L376.1 1118.4 L378.3 1118.8 L380.5 1119.1 L382.8 1119.5 L385.0 1120.0 L387.2 1120.4 L389.4 1120.9 L391.6 1121.5 L393.8 1122.1 L396.0 1122.7 L398.3 1123.4 L400.5 1124.1 L402.7 1124.9 L404.9 1125.7 L407.0 1126.5 L409.2 1127.4 L411.3 1128.4 L413.5 1129.4 L415.6 1130.4 L417.7 1131.5 L419.7 1132.6 L421.8 1133.8 L423.8 1135.0 L425.7 1136.3 L427.7 1137.5 L429.6 1138.8 L431.4 1140.2 L433.3 1141.5 L435.1 1142.9 L436.9 1144.3 L438.6 1145.7 L440.3 1147.2 L442.0 1148.6 L443.7 1150.1 L445.4 1151.7 L447.0 1153.2 L448.7 1154.8 L450.3 1156.4 L451.8 1158.1 L453.4 1159.8 L454.9 1161.5 L456.4 1163.2 L457.9 1164.9 L459.3 1166.7 L460.7 1168.5 L462.0 1170.3 L463.4 1172.1 L464.7 1174.0 L465.9 1175.8 L467.2 1177.6 L468.4 1179.5 L469.5 1181.3 L470.7 1183.2 L471.8 1185.0 L472.9 1186.8 L474.0 1188.7 L475.0 1190.5 L476.1 1192.4 L477.1 1194.2 L478.1 1196.0 L479.1 1197.9 L480.1 1199.7 L481.1 1201.5 L482.0 1203.4 L483.0 1205.2 L483.9 1207.0 L484.8 1208.8 L485.8 1210.6 L486.7 1212.4 L487.6 1214.2 L488.5 1216.0 L489.4 1217.8 L490.3 1219.6 L490.3 1219.6 L459.1 1235.4 L459.1 1235.4 L458.2 1233.7 L457.3 1231.9 L456.4 1230.1 L455.5 1228.3 L454.6 1226.6 L453.7 1224.8 L452.8 1223.1 L451.9 1221.3 L451.0 1219.6 L450.1 1217.9 L449.2 1216.2 L448.3 1214.5 L447.4 1212.8 L446.5 1211.2 L445.6 1209.5 L444.6 1207.9 L443.7 1206.2 L442.8 1204.6 L441.8 1203.1 L440.9 1201.5 L439.9 1199.9 L438.9 1198.4 L438.0 1196.9 L437.0 1195.4 L436.0 1194.0 L435.0 1192.6 L434.0 1191.2 L432.9 1189.8 L431.9 1188.5 L430.8 1187.1 L429.7 1185.8 L428.6 1184.6 L427.5 1183.3 L426.3 1182.1 L425.2 1180.8 L424.0 1179.6 L422.7 1178.4 L421.5 1177.2 L420.2 1176.1 L418.9 1174.9 L417.6 1173.8 L416.3 1172.7 L415.0 1171.6 L413.6 1170.6 L412.3 1169.5 L410.9 1168.5 L409.6 1167.5 L408.2 1166.6 L406.8 1165.7 L405.4 1164.8 L404.0 1164.0 L402.6 1163.2 L401.2 1162.4 L399.8 1161.6 L398.3 1160.9 L396.9 1160.3 L395.4 1159.6 L393.9 1159.0 L392.4 1158.4 L390.8 1157.8 L389.3 1157.3 L387.7 1156.8 L386.1 1156.3 L384.5 1155.8 L382.9 1155.4 L381.3 1155.0 L379.6 1154.6 L377.9 1154.2 L376.2 1153.9 L374.5 1153.6 L372.8 1153.3 L371.1 1153.1 L369.4 1152.8 L367.6 1152.6 L365.9 1152.4 L364.1 1152.3 L362.4 1152.1 L360.6 1152.0 L358.8 1151.9 L357.0 1151.8 L355.3 1151.7 L353.5 1151.7 L351.7 1151.7 L349.9 1151.7 L348.1 1151.7 L346.3 1151.8 L344.5 1151.8 L342.6 1151.9 L340.8 1152.0 L339.0 1152.1 L337.1 1152.3 L335.3 1152.4 L333.4 1152.6 L331.5 1152.7 L329.6 1152.9 L327.7 1153.1 L325.8 1153.3 L323.9 1153.6 L321.9 1153.8 L320.0 1154.0 L318.0 1154.3 L316.1 1154.5 L314.1 1154.7 L312.1 1155.0 L310.2 1155.2 L308.2 1155.5 L306.2 1155.7 L304.2 1156.0 L302.2 1156.2 L300.2 1156.5 L298.2 1156.7 L296.2 1157.0 L294.2 1157.2 L292.3 1157.4 L290.3 1157.7 L288.3 1157.9 L286.3 1158.2 L284.4 1158.4 L282.4 1158.7 L280.4 1158.9 L278.5 1159.2 L276.5 1159.4 L274.5 1159.7 L272.6 1159.9 L270.6 1160.2 L268.6 1160.5 L266.6 1160.7 L264.7 1161.0 L262.7 1161.2 L260.7 1161.5 L258.7 1161.8 L256.7 1162.0 L254.7 1162.3 L252.7 1162.6 L250.7 1162.8 L248.7 1163.1 L246.7 1163.4 L244.7 1163.6 L242.7 1163.9 L240.7 1164.1 L238.6 1164.4 L236.6 1164.6 L234.5 1164.8 L232.5 1165.0 L230.4 1165.3 L228.4 1165.5 L226.3 1165.7 L224.2 1165.9 L222.1 1166.1 L220.0 1166.2 L217.9 1166.4 L215.8 1166.5 L213.7 1166.7 L211.6 1166.8 L209.5 1166.9 L207.3 1167.0 L205.2 1167.0 L203.0 1167.1 L200.9 1167.1 L198.7 1167.1 L196.6 1167.1 L194.4 1167.1 L192.3 1167.0 L190.1 1167.0 L188.0 1166.9 L185.8 1166.8 L183.7 1166.7 L181.5 1166.5 L179.4 1166.4 L177.2 1166.2 L175.1 1166.0 L172.9 1165.8 L170.8 1165.5 L168.7 1165.3 L166.5 1165.0 L164.4 1164.7 L162.3 1164.4 L160.2 1164.0 L158.0 1163.7 L155.9 1163.3 L153.8 1163.0 L151.7 1162.6 L149.6 1162.1 L147.5 1161.7 L145.4 1161.3 L143.3 1160.8 L141.3 1160.3 L139.2 1159.8 L137.1 1159.3 L135.0 1158.7 L132.9 1158.2 L130.8 1157.6 L128.7 1157.0 L126.7 1156.3 L124.6 1155.7 L122.5 1155.0 L120.4 1154.3 L118.4 1153.6 L116.3 1152.8 L114.3 1152.1 L112.3 1151.3 L110.3 1150.5 L108.3 1149.7 L106.3 1148.9 L104.3 1148.0 L102.4 1147.2 L100.4 1146.3 L98.5 1145.4 L96.6 1144.5 L94.7 1143.6 L92.8 1142.7 L90.9 1141.8 L89.0 1140.9 L87.2 1140.0 L85.3 1139.0 L83.4 1138.1 L81.6 1137.1 L79.7 1136.2 L77.9 1135.2 L76.0 1134.2 L74.2 1133.2 L72.3 1132.2 L70.4 1131.1 L68.6 1130.0 L66.7 1129.0 L64.9 1127.9 L63.0 1126.7 L61.2 1125.6 L59.4 1124.4 L57.6 1123.3 L55.8 1122.1 L54.0 1120.8 L52.2 1119.6 L50.4 1118.3 L48.6 1117.0 L46.8 1115.7 L45.0 1114.3 L43.3 1112.9 L41.5 1111.5 L39.7 1110.0 L38.0 1108.5 L36.3 1106.9 L34.5 1105.2 L32.9 1103.5 L31.2 1101.8 L29.6 1100.0 L28.1 1098.2 L26.6 1096.3 L25.1 1094.5 L23.7 1092.6 L22.4 1090.7 L21.1 1088.8 L19.8 1086.9 L18.6 1085.0 L17.4 1083.2 L16.3 1081.3 L15.2 1079.5 L14.2 1077.6 L13.1 1075.8 L12.1 1074.0 L11.1 1072.3 L10.1 1070.5 L9.1 1068.8 L8.2 1067.1 L7.2 1065.4 L6.2 1063.7 L5.3 1062.0 L4.3 1060.3 L3.3 1058.6 L2.3 1057.0 L1.3 1055.3 L0.3 1053.6 L-0.7 1051.9 L-1.8 1050.2 L-2.8 1048.4 L-3.8 1046.7 L-4.9 1044.9 L-5.9 1043.1 L-7.0 1041.2 L-8.0 1039.4 L-9.1 1037.5 L-10.1 1035.6 L-11.1 1033.6 L-12.1 1031.7 L-13.1 1029.7 L-14.1 1027.7 L-15.0 1025.7 L-15.9 1023.7 L-16.8 1021.6 L-17.7 1019.6 L-18.5 1017.5 L-19.3 1015.5 L-20.0 1013.5 L-20.8 1011.5 L-21.5 1009.4 L-22.2 1007.4 L-22.9 1005.4 L-23.6 1003.4 L-24.2 1001.4 L-24.8 999.4 L-25.5 997.5 L-26.1 995.5 L-26.7 993.5 L-27.3 991.6 L-27.9 989.7 L-28.5 987.7 L-29.0 985.8 L-29.6 983.9 L-30.2 981.9 L-30.8 980.0Z" fill="#ff9a9a"/>
<path d="M-8.4 973.3 L-7.8 975.2 L-7.3 977.2 L-6.7 979.1 L-6.1 981.0 L-5.5 982.9 L-5.0 984.8 L-4.4 986.7 L-3.8 988.6 L-3.2 990.5 L-2.6 992.4 L-2.0 994.2 L-1.4 996.1 L-0.8 998.0 L-0.2 999.8 L0.5 1001.7 L1.1 1003.5 L1.8 1005.3 L2.5 1007.1 L3.2 1008.9 L3.9 1010.7 L4.7 1012.5 L5.4 1014.2 L6.2 1016.0 L7.0 1017.7 L7.8 1019.5 L8.7 1021.2 L9.6 1022.9 L10.5 1024.6 L11.4 1026.3 L12.3 1028.0 L13.3 1029.7 L14.3 1031.4 L15.3 1033.1 L16.3 1034.8 L17.3 1036.5 L18.3 1038.2 L19.3 1039.9 L20.3 1041.6 L21.4 1043.4 L22.4 1045.1 L23.4 1046.8 L24.4 1048.6 L25.4 1050.3 L26.5 1052.1 L27.5 1053.8 L28.5 1055.6 L29.4 1057.3 L30.4 1059.0 L31.4 1060.8 L32.4 1062.5 L33.4 1064.2 L34.3 1065.9 L35.3 1067.6 L36.3 1069.3 L37.3 1071.0 L38.3 1072.6 L39.4 1074.2 L40.4 1075.8 L41.5 1077.3 L42.5 1078.8 L43.7 1080.3 L44.8 1081.8 L46.0 1083.2 L47.1 1084.6 L48.4 1086.0 L49.6 1087.3 L50.9 1088.6 L52.3 1089.9 L53.6 1091.1 L55.0 1092.4 L56.4 1093.6 L57.9 1094.8 L59.4 1095.9 L60.9 1097.1 L62.4 1098.2 L64.0 1099.4 L65.6 1100.5 L67.1 1101.6 L68.7 1102.7 L70.4 1103.7 L72.0 1104.8 L73.6 1105.8 L75.3 1106.9 L76.9 1107.9 L78.6 1108.9 L80.3 1109.9 L82.0 1110.8 L83.7 1111.8 L85.4 1112.7 L87.1 1113.7 L88.8 1114.6 L90.6 1115.5 L92.3 1116.4 L94.1 1117.3 L95.8 1118.2 L97.6 1119.1 L99.3 1120.0 L101.1 1120.8 L102.9 1121.7 L104.7 1122.5 L106.4 1123.4 L108.2 1124.2 L110.0 1125.0 L111.8 1125.8 L113.6 1126.6 L115.4 1127.4 L117.2 1128.1 L119.0 1128.8 L120.8 1129.6 L122.6 1130.3 L124.4 1130.9 L126.2 1131.6 L128.0 1132.2 L129.9 1132.8 L131.7 1133.4 L133.5 1134.0 L135.4 1134.6 L137.3 1135.1 L139.1 1135.7 L141.0 1136.2 L142.9 1136.7 L144.8 1137.1 L146.7 1137.6 L148.5 1138.0 L150.5 1138.5 L152.4 1138.9 L154.3 1139.3 L156.2 1139.6 L158.1 1140.0 L160.0 1140.4 L161.9 1140.7 L163.9 1141.0 L165.8 1141.3 L167.7 1141.6 L169.6 1141.9 L171.6 1142.1 L173.5 1142.3 L175.4 1142.6 L177.4 1142.8 L179.3 1142.9 L181.2 1143.1 L183.2 1143.2 L185.1 1143.4 L187.1 1143.5 L189.0 1143.6 L190.9 1143.7 L192.9 1143.7 L194.8 1143.8 L196.8 1143.8 L198.7 1143.8 L200.7 1143.8 L202.6 1143.7 L204.5 1143.7 L206.5 1143.6 L208.4 1143.6 L210.4 1143.5 L212.4 1143.4 L214.3 1143.2 L216.3 1143.1 L218.2 1143.0 L220.2 1142.8 L222.1 1142.6 L224.1 1142.4 L226.1 1142.3 L228.0 1142.1 L230.0 1141.8 L232.0 1141.6 L233.9 1141.4 L235.9 1141.2 L237.9 1140.9 L239.8 1140.7 L241.8 1140.5 L243.8 1140.2 L245.7 1140.0 L247.7 1139.7 L249.7 1139.4 L251.7 1139.2 L253.7 1138.9 L255.6 1138.7 L257.6 1138.4 L259.6 1138.1 L261.6 1137.9 L263.6 1137.6 L265.5 1137.3 L267.5 1137.1 L269.5 1136.8 L271.5 1136.5 L273.5 1136.3 L275.5 1136.0 L277.5 1135.8 L279.5 1135.5 L281.5 1135.3 L283.5 1135.0 L285.4 1134.8 L287.4 1134.5 L289.4 1134.3 L291.4 1134.0 L293.4 1133.8 L295.4 1133.6 L297.3 1133.3 L299.3 1133.1 L301.3 1132.8 L303.3 1132.6 L305.3 1132.3 L307.3 1132.1 L309.3 1131.8 L311.2 1131.6 L313.2 1131.3 L315.2 1131.1 L317.2 1130.8 L319.2 1130.6 L321.2 1130.4 L323.2 1130.2 L325.2 1129.9 L327.3 1129.7 L329.3 1129.5 L331.3 1129.3 L333.3 1129.2 L335.4 1129.0 L337.4 1128.8 L339.4 1128.7 L341.5 1128.6 L343.5 1128.5 L345.6 1128.4 L347.7 1128.4 L349.7 1128.4 L351.8 1128.4 L353.8 1128.4 L355.9 1128.4 L358.0 1128.5 L360.0 1128.6 L362.1 1128.7 L364.1 1128.8 L366.2 1129.0 L368.3 1129.2 L370.3 1129.4 L372.4 1129.7 L374.4 1130.0 L376.5 1130.3 L378.5 1130.6 L380.6 1131.0 L382.6 1131.4 L384.7 1131.8 L386.7 1132.3 L388.7 1132.8 L390.7 1133.3 L392.7 1133.9 L394.7 1134.5 L396.7 1135.2 L398.7 1135.9 L400.7 1136.6 L402.6 1137.4 L404.6 1138.2 L406.5 1139.0 L408.4 1139.9 L410.3 1140.8 L412.2 1141.8 L414.0 1142.8 L415.8 1143.9 L417.6 1145.0 L419.4 1146.1 L421.2 1147.2 L422.9 1148.4 L424.6 1149.6 L426.3 1150.8 L427.9 1152.1 L429.6 1153.4 L431.2 1154.7 L432.8 1156.0 L434.3 1157.4 L435.9 1158.8 L437.4 1160.2 L438.9 1161.6 L440.4 1163.1 L441.9 1164.6 L443.3 1166.1 L444.7 1167.6 L446.1 1169.2 L447.5 1170.7 L448.8 1172.3 L450.1 1174.0 L451.4 1175.6 L452.7 1177.3 L453.9 1178.9 L455.1 1180.6 L456.3 1182.3 L457.4 1184.1 L458.6 1185.8 L459.7 1187.5 L460.7 1189.3 L461.8 1191.0 L462.9 1192.8 L463.9 1194.5 L464.9 1196.3 L465.9 1198.1 L466.9 1199.9 L467.9 1201.6 L468.8 1203.4 L469.8 1205.2 L470.7 1207.0 L471.7 1208.8 L472.6 1210.6 L473.5 1212.4 L474.5 1214.1 L475.4 1215.9 L476.3 1217.7 L477.2 1219.5 L478.1 1221.3 L479.0 1223.1 L479.9 1224.9 L479.9 1224.9 L459.1 1235.4 L459.1 1235.4 L458.2 1233.7 L457.3 1231.9 L456.4 1230.1 L455.5 1228.3 L454.6 1226.6 L453.7 1224.8 L452.8 1223.1 L451.9 1221.3 L451.0 1219.6 L450.1 1217.9 L449.2 1216.2 L448.3 1214.5 L447.4 1212.8 L446.5 1211.2 L445.6 1209.5 L444.6 1207.9 L443.7 1206.2 L442.8 1204.6 L441.8 1203.1 L440.9 1201.5 L439.9 1199.9 L438.9 1198.4 L438.0 1196.9 L437.0 1195.4 L436.0 1194.0 L435.0 1192.6 L434.0 1191.2 L432.9 1189.8 L431.9 1188.5 L430.8 1187.1 L429.7 1185.8 L428.6 1184.6 L427.5 1183.3 L426.3 1182.1 L425.2 1180.8 L424.0 1179.6 L422.7 1178.4 L421.5 1177.2 L420.2 1176.1 L418.9 1174.9 L417.6 1173.8 L416.3 1172.7 L415.0 1171.6 L413.6 1170.6 L412.3 1169.5 L410.9 1168.5 L409.6 1167.5 L408.2 1166.6 L406.8 1165.7 L405.4 1164.8 L404.0 1164.0 L402.6 1163.2 L401.2 1162.4 L399.8 1161.6 L398.3 1160.9 L396.9 1160.3 L395.4 1159.6 L393.9 1159.0 L392.4 1158.4 L390.8 1157.8 L389.3 1157.3 L387.7 1156.8 L386.1 1156.3 L384.5 1155.8 L382.9 1155.4 L381.3 1155.0 L379.6 1154.6 L377.9 1154.2 L376.2 1153.9 L374.5 1153.6 L372.8 1153.3 L371.1 1153.1 L369.4 1152.8 L367.6 1152.6 L365.9 1152.4 L364.1 1152.3 L362.4 1152.1 L360.6 1152.0 L358.8 1151.9 L357.0 1151.8 L355.3 1151.7 L353.5 1151.7 L351.7 1151.7 L349.9 1151.7 L348.1 1151.7 L346.3 1151.8 L344.5 1151.8 L342.6 1151.9 L340.8 1152.0 L339.0 1152.1 L337.1 1152.3 L335.3 1152.4 L333.4 1152.6 L331.5 1152.7 L329.6 1152.9 L327.7 1153.1 L325.8 1153.3 L323.9 1153.6 L321.9 1153.8 L320.0 1154.0 L318.0 1154.3 L316.1 1154.5 L314.1 1154.7 L312.1 1155.0 L310.2 1155.2 L308.2 1155.5 L306.2 1155.7 L304.2 1156.0 L302.2 1156.2 L300.2 1156.5 L298.2 1156.7 L296.2 1157.0 L294.2 1157.2 L292.3 1157.4 L290.3 1157.7 L288.3 1157.9 L286.3 1158.2 L284.4 1158.4 L282.4 1158.7 L280.4 1158.9 L278.5 1159.2 L276.5 1159.4 L274.5 1159.7 L272.6 1159.9 L270.6 1160.2 L268.6 1160.5 L266.6 1160.7 L264.7 1161.0 L262.7 1161.2 L260.7 1161.5 L258.7 1161.8 L256.7 1162.0 L254.7 1162.3 L252.7 1162.6 L250.7 1162.8 L248.7 1163.1 L246.7 1163.4 L244.7 1163.6 L242.7 1163.9 L240.7 1164.1 L238.6 1164.4 L236.6 1164.6 L234.5 1164.8 L232.5 1165.0 L230.4 1165.3 L228.4 1165.5 L226.3 1165.7 L224.2 1165.9 L222.1 1166.1 L220.0 1166.2 L217.9 1166.4 L215.8 1166.5 L213.7 1166.7 L211.6 1166.8 L209.5 1166.9 L207.3 1167.0 L205.2 1167.0 L203.0 1167.1 L200.9 1167.1 L198.7 1167.1 L196.6 1167.1 L194.4 1167.1 L192.3 1167.0 L190.1 1167.0 L188.0 1166.9 L185.8 1166.8 L183.7 1166.7 L181.5 1166.5 L179.4 1166.4 L177.2 1166.2 L175.1 1166.0 L172.9 1165.8 L170.8 1165.5 L168.7 1165.3 L166.5 1165.0 L164.4 1164.7 L162.3 1164.4 L160.2 1164.0 L158.0 1163.7 L155.9 1163.3 L153.8 1163.0 L151.7 1162.6 L149.6 1162.1 L147.5 1161.7 L145.4 1161.3 L143.3 1160.8 L141.3 1160.3 L139.2 1159.8 L137.1 1159.3 L135.0 1158.7 L132.9 1158.2 L130.8 1157.6 L128.7 1157.0 L126.7 1156.3 L124.6 1155.7 L122.5 1155.0 L120.4 1154.3 L118.4 1153.6 L116.3 1152.8 L114.3 1152.1 L112.3 1151.3 L110.3 1150.5 L108.3 1149.7 L106.3 1148.9 L104.3 1148.0 L102.4 1147.2 L100.4 1146.3 L98.5 1145.4 L96.6 1144.5 L94.7 1143.6 L92.8 1142.7 L90.9 1141.8 L89.0 1140.9 L87.2 1140.0 L85.3 1139.0 L83.4 1138.1 L81.6 1137.1 L79.7 1136.2 L77.9 1135.2 L76.0 1134.2 L74.2 1133.2 L72.3 1132.2 L70.4 1131.1 L68.6 1130.0 L66.7 1129.0 L64.9 1127.9 L63.0 1126.7 L61.2 1125.6 L59.4 1124.4 L57.6 1123.3 L55.8 1122.1 L54.0 1120.8 L52.2 1119.6 L50.4 1118.3 L48.6 1117.0 L46.8 1115.7 L45.0 1114.3 L43.3 1112.9 L41.5 1111.5 L39.7 1110.0 L38.0 1108.5 L36.3 1106.9 L34.5 1105.2 L32.9 1103.5 L31.2 1101.8 L29.6 1100.0 L28.1 1098.2 L26.6 1096.3 L25.1 1094.5 L23.7 1092.6 L22.4 1090.7 L21.1 1088.8 L19.8 1086.9 L18.6 1085.0 L17.4 1083.2 L16.3 1081.3 L15.2 1079.5 L14.2 1077.6 L13.1 1075.8 L12.1 1074.0 L11.1 1072.3 L10.1 1070.5 L9.1 1068.8 L8.2 1067.1 L7.2 1065.4 L6.2 1063.7 L5.3 1062.0 L4.3 1060.3 L3.3 1058.6 L2.3 1057.0 L1.3 1055.3 L0.3 1053.6 L-0.7 1051.9 L-1.8 1050.2 L-2.8 1048.4 L-3.8 1046.7 L-4.9 1044.9 L-5.9 1043.1 L-7.0 1041.2 L-8.0 1039.4 L-9.1 1037.5 L-10.1 1035.6 L-11.1 1033.6 L-12.1 1031.7 L-13.1 1029.7 L-14.1 1027.7 L-15.0 1025.7 L-15.9 1023.7 L-16.8 1021.6 L-17.7 1019.6 L-18.5 1017.5 L-19.3 1015.5 L-20.0 1013.5 L-20.8 1011.5 L-21.5 1009.4 L-22.2 1007.4 L-22.9 1005.4 L-23.6 1003.4 L-24.2 1001.4 L-24.8 999.4 L-25.5 997.5 L-26.1 995.5 L-26.7 993.5 L-27.3 991.6 L-27.9 989.7 L-28.5 987.7 L-29.0 985.8 L-29.6 983.9 L-30.2 981.9 L-30.8 980.0Z" fill="#ffc282"/>
<path d="M-19.6 976.7 L-19.0 978.6 L-18.4 980.5 L-17.9 982.4 L-17.3 984.3 L-16.7 986.3 L-16.1 988.2 L-15.5 990.1 L-14.9 992.0 L-14.3 994.0 L-13.7 995.9 L-13.1 997.8 L-12.5 999.8 L-11.8 1001.7 L-11.2 1003.6 L-10.5 1005.5 L-9.8 1007.5 L-9.1 1009.4 L-8.4 1011.3 L-7.6 1013.2 L-6.9 1015.1 L-6.1 1017.1 L-5.2 1018.9 L-4.4 1020.8 L-3.5 1022.7 L-2.6 1024.6 L-1.7 1026.4 L-0.8 1028.3 L0.2 1030.1 L1.2 1031.9 L2.1 1033.7 L3.1 1035.5 L4.2 1037.2 L5.2 1039.0 L6.2 1040.7 L7.2 1042.5 L8.3 1044.2 L9.3 1045.9 L10.3 1047.6 L11.3 1049.3 L12.3 1051.0 L13.4 1052.7 L14.4 1054.4 L15.3 1056.2 L16.3 1057.9 L17.3 1059.6 L18.3 1061.3 L19.3 1063.1 L20.3 1064.8 L21.3 1066.5 L22.2 1068.3 L23.2 1070.0 L24.2 1071.8 L25.3 1073.5 L26.3 1075.3 L27.4 1077.1 L28.5 1078.8 L29.6 1080.6 L30.7 1082.3 L31.9 1084.0 L33.1 1085.7 L34.4 1087.4 L35.7 1089.1 L37.0 1090.7 L38.4 1092.3 L39.8 1093.9 L41.3 1095.4 L42.7 1096.9 L44.3 1098.4 L45.8 1099.8 L47.4 1101.2 L49.0 1102.5 L50.6 1103.9 L52.2 1105.1 L53.9 1106.4 L55.5 1107.6 L57.2 1108.9 L58.9 1110.0 L60.6 1111.2 L62.3 1112.4 L64.0 1113.5 L65.7 1114.6 L67.4 1115.7 L69.2 1116.8 L70.9 1117.9 L72.7 1118.9 L74.4 1120.0 L76.2 1121.0 L78.0 1122.0 L79.8 1123.0 L81.6 1123.9 L83.4 1124.9 L85.2 1125.8 L87.0 1126.8 L88.8 1127.7 L90.6 1128.6 L92.4 1129.5 L94.2 1130.4 L96.0 1131.3 L97.8 1132.2 L99.7 1133.1 L101.5 1134.0 L103.4 1134.8 L105.2 1135.6 L107.1 1136.5 L108.9 1137.3 L110.8 1138.1 L112.7 1138.9 L114.6 1139.7 L116.5 1140.4 L118.4 1141.2 L120.4 1141.9 L122.3 1142.6 L124.2 1143.3 L126.2 1143.9 L128.1 1144.6 L130.1 1145.2 L132.1 1145.8 L134.0 1146.3 L136.0 1146.9 L138.0 1147.4 L140.0 1148.0 L142.0 1148.5 L144.0 1148.9 L145.9 1149.4 L147.9 1149.9 L149.9 1150.3 L151.9 1150.7 L154.0 1151.1 L156.0 1151.5 L158.0 1151.8 L160.0 1152.2 L162.0 1152.5 L164.0 1152.8 L166.1 1153.1 L168.1 1153.4 L170.1 1153.7 L172.1 1153.9 L174.2 1154.2 L176.2 1154.4 L178.3 1154.6 L180.3 1154.7 L182.3 1154.9 L184.4 1155.0 L186.4 1155.1 L188.5 1155.2 L190.5 1155.3 L192.6 1155.4 L194.6 1155.4 L196.7 1155.4 L198.7 1155.5 L200.8 1155.4 L202.8 1155.4 L204.9 1155.4 L206.9 1155.3 L209.0 1155.2 L211.0 1155.1 L213.0 1155.0 L215.1 1154.9 L217.1 1154.7 L219.1 1154.6 L221.2 1154.4 L223.2 1154.2 L225.2 1154.1 L227.2 1153.9 L229.2 1153.7 L231.2 1153.4 L233.2 1153.2 L235.2 1153.0 L237.3 1152.8 L239.3 1152.5 L241.3 1152.3 L243.3 1152.0 L245.2 1151.8 L247.2 1151.5 L249.2 1151.3 L251.2 1151.0 L253.2 1150.7 L255.2 1150.5 L257.2 1150.2 L259.2 1149.9 L261.1 1149.7 L263.1 1149.4 L265.1 1149.2 L267.1 1148.9 L269.1 1148.6 L271.0 1148.4 L273.0 1148.1 L275.0 1147.9 L277.0 1147.6 L279.0 1147.3 L280.9 1147.1 L282.9 1146.8 L284.9 1146.6 L286.9 1146.4 L288.9 1146.1 L290.8 1145.9 L292.8 1145.6 L294.8 1145.4 L296.8 1145.1 L298.8 1144.9 L300.8 1144.6 L302.8 1144.4 L304.7 1144.2 L306.7 1143.9 L308.7 1143.7 L310.7 1143.4 L312.7 1143.2 L314.7 1142.9 L316.6 1142.7 L318.6 1142.4 L320.6 1142.2 L322.5 1142.0 L324.5 1141.7 L326.5 1141.5 L328.4 1141.3 L330.4 1141.1 L332.3 1140.9 L334.3 1140.8 L336.2 1140.6 L338.2 1140.5 L340.1 1140.4 L342.1 1140.3 L344.0 1140.2 L345.9 1140.1 L347.9 1140.1 L349.8 1140.0 L351.7 1140.0 L353.7 1140.0 L355.6 1140.1 L357.5 1140.1 L359.4 1140.2 L361.3 1140.3 L363.3 1140.5 L365.2 1140.6 L367.1 1140.8 L369.0 1141.0 L370.9 1141.3 L372.8 1141.5 L374.7 1141.8 L376.5 1142.1 L378.4 1142.5 L380.3 1142.8 L382.1 1143.2 L384.0 1143.6 L385.8 1144.1 L387.6 1144.6 L389.4 1145.1 L391.2 1145.6 L393.0 1146.2 L394.8 1146.8 L396.5 1147.5 L398.3 1148.2 L400.0 1148.9 L401.7 1149.6 L403.4 1150.4 L405.0 1151.2 L406.7 1152.1 L408.3 1153.0 L409.9 1153.9 L411.5 1154.9 L413.1 1155.9 L414.7 1156.9 L416.2 1158.0 L417.8 1159.1 L419.3 1160.2 L420.8 1161.3 L422.3 1162.5 L423.8 1163.7 L425.2 1164.9 L426.6 1166.2 L428.1 1167.4 L429.5 1168.7 L430.8 1170.0 L432.2 1171.4 L433.5 1172.7 L434.8 1174.1 L436.1 1175.5 L437.4 1176.9 L438.6 1178.3 L439.8 1179.7 L441.0 1181.2 L442.2 1182.7 L443.3 1184.2 L444.4 1185.8 L445.5 1187.3 L446.6 1188.9 L447.7 1190.5 L448.7 1192.1 L449.8 1193.7 L450.8 1195.4 L451.8 1197.0 L452.8 1198.7 L453.8 1200.4 L454.8 1202.1 L455.7 1203.8 L456.7 1205.5 L457.6 1207.2 L458.6 1209.0 L459.5 1210.7 L460.4 1212.4 L461.4 1214.2 L462.3 1216.0 L463.2 1217.7 L464.1 1219.5 L465.0 1221.3 L465.9 1223.0 L466.8 1224.8 L467.7 1226.6 L468.6 1228.4 L469.5 1230.1 L469.5 1230.1 L459.1 1235.4 L459.1 1235.4 L458.2 1233.7 L457.3 1231.9 L456.4 1230.1 L455.5 1228.3 L454.6 1226.6 L453.7 1224.8 L452.8 1223.1 L451.9 1221.3 L451.0 1219.6 L450.1 1217.9 L449.2 1216.2 L448.3 1214.5 L447.4 1212.8 L446.5 1211.2 L445.6 1209.5 L444.6 1207.9 L443.7 1206.2 L442.8 1204.6 L441.8 1203.1 L440.9 1201.5 L439.9 1199.9 L438.9 1198.4 L438.0 1196.9 L437.0 1195.4 L436.0 1194.0 L435.0 1192.6 L434.0 1191.2 L432.9 1189.8 L431.9 1188.5 L430.8 1187.1 L429.7 1185.8 L428.6 1184.6 L427.5 1183.3 L426.3 1182.1 L425.2 1180.8 L424.0 1179.6 L422.7 1178.4 L421.5 1177.2 L420.2 1176.1 L418.9 1174.9 L417.6 1173.8 L416.3 1172.7 L415.0 1171.6 L413.6 1170.6 L412.3 1169.5 L410.9 1168.5 L409.6 1167.5 L408.2 1166.6 L406.8 1165.7 L405.4 1164.8 L404.0 1164.0 L402.6 1163.2 L401.2 1162.4 L399.8 1161.6 L398.3 1160.9 L396.9 1160.3 L395.4 1159.6 L393.9 1159.0 L392.4 1158.4 L390.8 1157.8 L389.3 1157.3 L387.7 1156.8 L386.1 1156.3 L384.5 1155.8 L382.9 1155.4 L381.3 1155.0 L379.6 1154.6 L377.9 1154.2 L376.2 1153.9 L374.5 1153.6 L372.8 1153.3 L371.1 1153.1 L369.4 1152.8 L367.6 1152.6 L365.9 1152.4 L364.1 1152.3 L362.4 1152.1 L360.6 1152.0 L358.8 1151.9 L357.0 1151.8 L355.3 1151.7 L353.5 1151.7 L351.7 1151.7 L349.9 1151.7 L348.1 1151.7 L346.3 1151.8 L344.5 1151.8 L342.6 1151.9 L340.8 1152.0 L339.0 1152.1 L337.1 1152.3 L335.3 1152.4 L333.4 1152.6 L331.5 1152.7 L329.6 1152.9 L327.7 1153.1 L325.8 1153.3 L323.9 1153.6 L321.9 1153.8 L320.0 1154.0 L318.0 1154.3 L316.1 1154.5 L314.1 1154.7 L312.1 1155.0 L310.2 1155.2 L308.2 1155.5 L306.2 1155.7 L304.2 1156.0 L302.2 1156.2 L300.2 1156.5 L298.2 1156.7 L296.2 1157.0 L294.2 1157.2 L292.3 1157.4 L290.3 1157.7 L288.3 1157.9 L286.3 1158.2 L284.4 1158.4 L282.4 1158.7 L280.4 1158.9 L278.5 1159.2 L276.5 1159.4 L274.5 1159.7 L272.6 1159.9 L270.6 1160.2 L268.6 1160.5 L266.6 1160.7 L264.7 1161.0 L262.7 1161.2 L260.7 1161.5 L258.7 1161.8 L256.7 1162.0 L254.7 1162.3 L252.7 1162.6 L250.7 1162.8 L248.7 1163.1 L246.7 1163.4 L244.7 1163.6 L242.7 1163.9 L240.7 1164.1 L238.6 1164.4 L236.6 1164.6 L234.5 1164.8 L232.5 1165.0 L230.4 1165.3 L228.4 1165.5 L226.3 1165.7 L224.2 1165.9 L222.1 1166.1 L220.0 1166.2 L217.9 1166.4 L215.8 1166.5 L213.7 1166.7 L211.6 1166.8 L209.5 1166.9 L207.3 1167.0 L205.2 1167.0 L203.0 1167.1 L200.9 1167.1 L198.7 1167.1 L196.6 1167.1 L194.4 1167.1 L192.3 1167.0 L190.1 1167.0 L188.0 1166.9 L185.8 1166.8 L183.7 1166.7 L181.5 1166.5 L179.4 1166.4 L177.2 1166.2 L175.1 1166.0 L172.9 1165.8 L170.8 1165.5 L168.7 1165.3 L166.5 1165.0 L164.4 1164.7 L162.3 1164.4 L160.2 1164.0 L158.0 1163.7 L155.9 1163.3 L153.8 1163.0 L151.7 1162.6 L149.6 1162.1 L147.5 1161.7 L145.4 1161.3 L143.3 1160.8 L141.3 1160.3 L139.2 1159.8 L137.1 1159.3 L135.0 1158.7 L132.9 1158.2 L130.8 1157.6 L128.7 1157.0 L126.7 1156.3 L124.6 1155.7 L122.5 1155.0 L120.4 1154.3 L118.4 1153.6 L116.3 1152.8 L114.3 1152.1 L112.3 1151.3 L110.3 1150.5 L108.3 1149.7 L106.3 1148.9 L104.3 1148.0 L102.4 1147.2 L100.4 1146.3 L98.5 1145.4 L96.6 1144.5 L94.7 1143.6 L92.8 1142.7 L90.9 1141.8 L89.0 1140.9 L87.2 1140.0 L85.3 1139.0 L83.4 1138.1 L81.6 1137.1 L79.7 1136.2 L77.9 1135.2 L76.0 1134.2 L74.2 1133.2 L72.3 1132.2 L70.4 1131.1 L68.6 1130.0 L66.7 1129.0 L64.9 1127.9 L63.0 1126.7 L61.2 1125.6 L59.4 1124.4 L57.6 1123.3 L55.8 1122.1 L54.0 1120.8 L52.2 1119.6 L50.4 1118.3 L48.6 1117.0 L46.8 1115.7 L45.0 1114.3 L43.3 1112.9 L41.5 1111.5 L39.7 1110.0 L38.0 1108.5 L36.3 1106.9 L34.5 1105.2 L32.9 1103.5 L31.2 1101.8 L29.6 1100.0 L28.1 1098.2 L26.6 1096.3 L25.1 1094.5 L23.7 1092.6 L22.4 1090.7 L21.1 1088.8 L19.8 1086.9 L18.6 1085.0 L17.4 1083.2 L16.3 1081.3 L15.2 1079.5 L14.2 1077.6 L13.1 1075.8 L12.1 1074.0 L11.1 1072.3 L10.1 1070.5 L9.1 1068.8 L8.2 1067.1 L7.2 1065.4 L6.2 1063.7 L5.3 1062.0 L4.3 1060.3 L3.3 1058.6 L2.3 1057.0 L1.3 1055.3 L0.3 1053.6 L-0.7 1051.9 L-1.8 1050.2 L-2.8 1048.4 L-3.8 1046.7 L-4.9 1044.9 L-5.9 1043.1 L-7.0 1041.2 L-8.0 1039.4 L-9.1 1037.5 L-10.1 1035.6 L-11.1 1033.6 L-12.1 1031.7 L-13.1 1029.7 L-14.1 1027.7 L-15.0 1025.7 L-15.9 1023.7 L-16.8 1021.6 L-17.7 1019.6 L-18.5 1017.5 L-19.3 1015.5 L-20.0 1013.5 L-20.8 1011.5 L-21.5 1009.4 L-22.2 1007.4 L-22.9 1005.4 L-23.6 1003.4 L-24.2 1001.4 L-24.8 999.4 L-25.5 997.5 L-26.1 995.5 L-26.7 993.5 L-27.3 991.6 L-27.9 989.7 L-28.5 987.7 L-29.0 985.8 L-29.6 983.9 L-30.2 981.9 L-30.8 980.0Z" fill="#ffe56c"/>
<path d="M1174.8 1232.4 L1175.7 1230.6 L1176.6 1228.8 L1177.5 1227.0 L1178.4 1225.2 L1179.3 1223.4 L1180.2 1221.6 L1181.2 1219.8 L1182.1 1218.0 L1183.0 1216.2 L1183.9 1214.3 L1184.9 1212.5 L1185.9 1210.7 L1186.8 1208.9 L1187.8 1207.0 L1188.8 1205.2 L1189.8 1203.4 L1190.8 1201.5 L1191.9 1199.7 L1192.9 1197.8 L1194.0 1196.0 L1195.1 1194.2 L1196.2 1192.3 L1197.3 1190.5 L1198.4 1188.7 L1199.6 1186.9 L1200.8 1185.1 L1202.0 1183.3 L1203.2 1181.5 L1204.5 1179.7 L1205.8 1177.9 L1207.1 1176.1 L1208.4 1174.3 L1209.8 1172.6 L1211.2 1170.8 L1212.7 1169.1 L1214.2 1167.3 L1215.7 1165.6 L1217.3 1163.9 L1218.9 1162.3 L1220.6 1160.6 L1222.3 1159.0 L1224.1 1157.4 L1225.9 1155.9 L1227.7 1154.3 L1229.6 1152.9 L1231.5 1151.5 L1233.4 1150.1 L1235.4 1148.8 L1237.3 1147.5 L1239.3 1146.3 L1241.3 1145.1 L1243.3 1144.0 L1245.2 1142.9 L1247.2 1141.9 L1249.2 1140.9 L1251.1 1139.9 L1253.0 1139.0 L1254.9 1138.1 L1256.8 1137.2 L1258.7 1136.3 L1260.6 1135.5 L1262.5 1134.6 L1264.4 1133.8 L1266.3 1133.0 L1268.1 1132.2 L1270.0 1131.3 L1271.9 1130.5 L1273.8 1129.7 L1275.7 1128.9 L1277.6 1128.1 L1279.5 1127.3 L1281.5 1126.5 L1283.4 1125.8 L1285.4 1125.0 L1287.3 1124.2 L1289.3 1123.5 L1291.3 1122.7 L1293.3 1122.0 L1295.4 1121.3 L1297.4 1120.6 L1299.5 1119.9 L1301.6 1119.3 L1303.7 1118.6 L1305.9 1118.0 L1308.0 1117.4 L1310.2 1116.9 L1312.4 1116.3 L1314.6 1115.9 L1316.9 1115.4 L1319.1 1115.0 L1321.4 1114.6 L1323.7 1114.3 L1326.0 1114.0 L1328.3 1113.8 L1330.6 1113.6 L1332.9 1113.4 L1335.2 1113.3 L1337.4 1113.2 L1339.7 1113.2 L1342.0 1113.2 L1344.2 1113.2 L1346.5 1113.3 L1348.7 1113.4 L1350.9 1113.6 L1353.1 1113.7 L1355.3 1113.9 L1357.4 1114.1 L1359.6 1114.3 L1361.7 1114.6 L1363.8 1114.8 L1365.9 1115.1 L1367.9 1115.4 L1370.0 1115.7 L1372.0 1115.9 L1374.0 1116.2 L1376.0 1116.5 L1378.0 1116.8 L1380.0 1117.1 L1382.0 1117.4 L1384.0 1117.7 L1385.9 1118.0 L1387.9 1118.3 L1389.9 1118.6 L1391.8 1118.9 L1393.8 1119.1 L1395.8 1119.4 L1397.8 1119.7 L1399.7 1120.0 L1401.7 1120.3 L1403.7 1120.6 L1405.7 1120.9 L1407.7 1121.2 L1409.7 1121.5 L1411.7 1121.8 L1413.7 1122.1 L1415.7 1122.4 L1417.7 1122.7 L1419.7 1123.0 L1421.7 1123.3 L1423.6 1123.6 L1425.6 1123.9 L1427.6 1124.2 L1429.5 1124.5 L1431.5 1124.8 L1433.4 1125.1 L1435.3 1125.4 L1437.3 1125.7 L1439.2 1126.0 L1441.2 1126.2 L1443.1 1126.5 L1445.0 1126.7 L1447.0 1127.0 L1448.9 1127.3 L1450.8 1127.5 L1452.8 1127.7 L1454.7 1128.0 L1456.7 1128.2 L1458.6 1128.4 L1460.5 1128.6 L1462.5 1128.8 L1464.4 1129.0 L1466.3 1129.2 L1468.2 1129.4 L1470.1 1129.6 L1472.0 1129.8 L1473.9 1129.9 L1475.8 1130.0 L1477.6 1130.2 L1479.5 1130.3 L1481.3 1130.4 L1483.2 1130.4 L1485.0 1130.5 L1486.8 1130.5 L1488.6 1130.6 L1490.4 1130.6 L1492.3 1130.5 L1494.1 1130.5 L1495.9 1130.4 L1497.7 1130.4 L1499.4 1130.3 L1501.2 1130.1 L1503.0 1130.0 L1504.8 1129.8 L1506.6 1129.6 L1508.4 1129.4 L1510.2 1129.2 L1512.0 1129.0 L1513.8 1128.7 L1515.6 1128.4 L1517.4 1128.1 L1519.2 1127.8 L1521.0 1127.5 L1522.8 1127.1 L1524.6 1126.8 L1526.4 1126.4 L1528.1 1126.0 L1529.9 1125.5 L1531.6 1125.1 L1533.4 1124.6 L1535.1 1124.2 L1536.8 1123.7 L1538.5 1123.1 L1540.2 1122.6 L1541.9 1122.0 L1543.6 1121.4 L1545.3 1120.8 L1547.0 1120.2 L1548.7 1119.5 L1550.4 1118.9 L1552.2 1118.2 L1553.9 1117.4 L1555.7 1116.7 L1557.4 1116.0 L1559.2 1115.2 L1561.0 1114.4 L1562.8 1113.6 L1564.5 1112.9 L1566.3 1112.1 L1568.0 1111.3 L1569.8 1110.5 L1571.5 1109.7 L1573.1 1108.9 L1574.8 1108.1 L1576.3 1107.3 L1577.9 1106.5 L1579.4 1105.7 L1580.8 1104.9 L1582.2 1104.1 L1583.5 1103.3 L1584.8 1102.4 L1586.1 1101.6 L1587.3 1100.7 L1588.5 1099.8 L1589.7 1098.8 L1590.8 1097.8 L1591.9 1096.8 L1593.0 1095.8 L1594.1 1094.7 L1595.1 1093.6 L1596.1 1092.5 L1597.0 1091.3 L1597.9 1090.2 L1598.8 1089.0 L1599.6 1087.9 L1600.3 1086.7 L1601.0 1085.5 L1601.7 1084.4 L1602.2 1083.2 L1602.7 1082.1 L1603.2 1081.1 L1603.5 1080.0 L1603.8 1079.0 L1604.1 1078.0 L1604.2 1077.1 L1604.3 1076.3 L1604.4 1075.6 L1604.4 1074.9 L1604.4 1074.3 L1604.3 1073.9 L1604.2 1073.5 L1604.2 1073.3 L1604.1 1073.2 L1604.1 1073.1 L1604.0 1073.0 L1603.9 1072.9 L1603.8 1072.8 L1603.5 1072.5 L1603.0 1072.2 L1602.4 1071.7 L1601.5 1071.2 L1600.4 1070.5 L1599.1 1069.8 L1597.6 1069.0 L1596.0 1068.2 L1594.2 1067.2 L1592.3 1066.2 L1590.4 1065.1 L1588.5 1064.0 L1586.5 1062.7 L1584.5 1061.4 L1582.6 1060.1 L1580.7 1058.7 L1578.9 1057.3 L1577.0 1055.8 L1575.3 1054.3 L1573.5 1052.8 L1571.8 1051.3 L1570.2 1049.7 L1568.5 1048.1 L1566.9 1046.5 L1565.3 1044.9 L1563.8 1043.2 L1562.3 1041.6 L1560.8 1039.9 L1559.3 1038.1 L1557.9 1036.4 L1556.5 1034.6 L1555.1 1032.8 L1553.8 1031.0 L1552.5 1029.2 L1551.2 1027.3 L1549.9 1025.5 L1548.7 1023.6 L1547.5 1021.7 L1546.3 1019.9 L1545.2 1017.9 L1544.1 1016.0 L1543.0 1014.1 L1541.9 1012.1 L1540.9 1010.1 L1539.9 1008.1 L1538.9 1006.1 L1537.9 1004.0 L1537.0 1001.9 L1536.1 999.8 L1535.2 997.7 L1534.4 995.5 L1533.6 993.3 L1532.9 991.0 L1532.2 988.7 L1531.5 986.4 L1531.0 984.0 L1530.4 981.7 L1530.0 979.2 L1529.6 976.8 L1529.3 974.4 L1529.0 971.9 L1528.9 969.4 L1528.8 967.0 L1528.8 964.5 L1528.8 962.0 L1529.0 959.6 L1529.1 957.2 L1529.4 954.8 L1529.7 952.4 L1530.1 950.0 L1530.5 947.7 L1531.0 945.3 L1531.6 943.0 L1532.1 940.8 L1532.8 938.5 L1533.4 936.3 L1534.2 934.1 L1534.9 931.9 L1535.7 929.7 L1536.5 927.6 L1537.4 925.5 L1538.3 923.4 L1539.2 921.3 L1540.2 919.2 L1541.3 917.1 L1542.3 915.1 L1543.4 913.0 L1544.6 911.0 L1545.8 909.0 L1547.1 907.0 L1548.3 905.1 L1549.7 903.1 L1551.1 901.2 L1552.5 899.4 L1553.9 897.5 L1555.4 895.7 L1557.0 893.9 L1558.5 892.2 L1560.1 890.5 L1561.7 888.9 L1563.3 887.3 L1564.9 885.7 L1566.6 884.2 L1568.2 882.7 L1569.9 881.2 L1571.6 879.8 L1573.2 878.4 L1574.9 877.0 L1576.6 875.7 L1578.2 874.4 L1579.9 873.1 L1581.6 871.8 L1583.3 870.5 L1585.0 869.2 L1586.7 868.0 L1588.4 866.7 L1590.1 865.5 L1591.9 864.3 L1593.6 863.1 L1595.3 861.9 L1597.1 860.7 L1598.9 859.5 L1600.7 858.4 L1602.4 857.2 L1604.2 856.1 L1606.0 855.0 L1607.8 853.9 L1609.6 852.8 L1611.4 851.7 L1613.2 850.7 L1615.0 849.6 L1616.8 848.6 L1618.6 847.6 L1620.3 846.6 L1622.1 845.6 L1623.9 844.6 L1625.6 843.6 L1627.4 842.6 L1629.2 841.6 L1630.9 840.6 L1630.9 840.6 L1647.5 870.3 L1647.5 870.3 L1645.7 871.3 L1644.0 872.3 L1642.3 873.2 L1640.5 874.2 L1638.8 875.2 L1637.1 876.1 L1635.4 877.1 L1633.7 878.1 L1632.1 879.0 L1630.4 880.0 L1628.8 881.0 L1627.1 881.9 L1625.5 882.9 L1623.9 883.9 L1622.3 884.9 L1620.7 885.9 L1619.1 886.9 L1617.5 887.9 L1616.0 889.0 L1614.4 890.0 L1612.9 891.1 L1611.3 892.2 L1609.8 893.2 L1608.3 894.3 L1606.7 895.4 L1605.2 896.5 L1603.7 897.7 L1602.2 898.8 L1600.7 899.9 L1599.3 901.1 L1597.8 902.2 L1596.4 903.4 L1595.0 904.6 L1593.6 905.7 L1592.2 906.9 L1590.9 908.1 L1589.6 909.2 L1588.3 910.4 L1587.1 911.6 L1585.9 912.8 L1584.7 914.0 L1583.6 915.2 L1582.5 916.4 L1581.4 917.7 L1580.4 918.9 L1579.4 920.2 L1578.4 921.5 L1577.4 922.8 L1576.5 924.1 L1575.6 925.4 L1574.8 926.8 L1573.9 928.2 L1573.1 929.6 L1572.3 931.1 L1571.6 932.5 L1570.8 934.0 L1570.1 935.5 L1569.4 937.1 L1568.8 938.6 L1568.1 940.1 L1567.5 941.7 L1567.0 943.3 L1566.4 944.8 L1565.9 946.4 L1565.4 948.0 L1565.0 949.6 L1564.6 951.1 L1564.2 952.7 L1563.9 954.2 L1563.6 955.8 L1563.4 957.3 L1563.2 958.8 L1563.0 960.3 L1562.9 961.8 L1562.8 963.3 L1562.8 964.8 L1562.8 966.2 L1562.8 967.7 L1562.9 969.1 L1563.1 970.6 L1563.3 972.0 L1563.5 973.5 L1563.8 974.9 L1564.1 976.4 L1564.4 977.8 L1564.8 979.3 L1565.3 980.8 L1565.8 982.3 L1566.3 983.8 L1566.9 985.3 L1567.5 986.9 L1568.2 988.4 L1568.9 989.9 L1569.6 991.5 L1570.3 993.0 L1571.1 994.6 L1571.9 996.1 L1572.8 997.6 L1573.6 999.2 L1574.5 1000.7 L1575.4 1002.2 L1576.3 1003.7 L1577.3 1005.2 L1578.2 1006.7 L1579.2 1008.1 L1580.2 1009.5 L1581.2 1010.9 L1582.2 1012.3 L1583.3 1013.7 L1584.4 1015.0 L1585.4 1016.4 L1586.6 1017.7 L1587.7 1019.0 L1588.8 1020.2 L1590.0 1021.5 L1591.2 1022.7 L1592.4 1023.9 L1593.6 1025.1 L1594.8 1026.2 L1596.1 1027.4 L1597.3 1028.5 L1598.6 1029.5 L1599.8 1030.5 L1601.1 1031.5 L1602.4 1032.4 L1603.6 1033.3 L1604.9 1034.1 L1606.2 1035.0 L1607.6 1035.8 L1609.0 1036.6 L1610.4 1037.4 L1612.0 1038.2 L1613.6 1039.1 L1615.4 1040.0 L1617.3 1041.0 L1619.3 1042.2 L1621.3 1043.5 L1623.5 1045.0 L1625.7 1046.7 L1627.8 1048.7 L1629.9 1051.0 L1631.8 1053.4 L1633.5 1056.1 L1635.0 1058.9 L1636.2 1061.9 L1637.1 1064.9 L1637.8 1067.9 L1638.2 1070.8 L1638.4 1073.8 L1638.4 1076.7 L1638.2 1079.6 L1637.8 1082.4 L1637.3 1085.1 L1636.7 1087.8 L1635.9 1090.4 L1635.0 1092.9 L1634.0 1095.4 L1632.9 1097.8 L1631.8 1100.1 L1630.6 1102.4 L1629.2 1104.6 L1627.9 1106.7 L1626.5 1108.7 L1625.0 1110.7 L1623.5 1112.7 L1621.9 1114.6 L1620.3 1116.4 L1618.7 1118.2 L1617.0 1119.9 L1615.2 1121.6 L1613.4 1123.2 L1611.6 1124.8 L1609.7 1126.4 L1607.7 1127.9 L1605.8 1129.3 L1603.8 1130.7 L1601.8 1132.0 L1599.8 1133.2 L1597.8 1134.4 L1595.8 1135.5 L1593.8 1136.6 L1591.8 1137.6 L1589.8 1138.6 L1587.9 1139.6 L1585.9 1140.5 L1584.0 1141.4 L1582.1 1142.2 L1580.2 1143.1 L1578.3 1143.9 L1576.4 1144.8 L1574.6 1145.6 L1572.7 1146.4 L1570.8 1147.2 L1568.9 1148.0 L1566.9 1148.8 L1565.0 1149.6 L1563.0 1150.4 L1561.0 1151.2 L1559.0 1152.0 L1557.0 1152.8 L1554.9 1153.5 L1552.8 1154.2 L1550.8 1154.9 L1548.7 1155.6 L1546.6 1156.2 L1544.4 1156.8 L1542.3 1157.4 L1540.2 1158.0 L1538.1 1158.5 L1536.0 1159.1 L1533.8 1159.5 L1531.7 1160.0 L1529.6 1160.4 L1527.4 1160.9 L1525.3 1161.3 L1523.2 1161.6 L1521.0 1162.0 L1518.9 1162.3 L1516.8 1162.6 L1514.6 1162.9 L1512.4 1163.2 L1510.3 1163.4 L1508.1 1163.7 L1505.9 1163.9 L1503.8 1164.0 L1501.6 1164.2 L1499.4 1164.3 L1497.2 1164.4 L1495.0 1164.5 L1492.8 1164.5 L1490.6 1164.6 L1488.5 1164.6 L1486.3 1164.5 L1484.1 1164.5 L1482.0 1164.4 L1479.8 1164.3 L1477.7 1164.2 L1475.5 1164.1 L1473.4 1164.0 L1471.3 1163.8 L1469.2 1163.6 L1467.1 1163.5 L1465.0 1163.3 L1463.0 1163.1 L1460.9 1162.9 L1458.9 1162.7 L1456.8 1162.4 L1454.8 1162.2 L1452.7 1162.0 L1450.7 1161.7 L1448.7 1161.5 L1446.6 1161.2 L1444.6 1161.0 L1442.6 1160.7 L1440.6 1160.5 L1438.5 1160.2 L1436.5 1159.9 L1434.5 1159.6 L1432.5 1159.3 L1430.4 1159.0 L1428.4 1158.7 L1426.4 1158.4 L1424.4 1158.1 L1422.4 1157.8 L1420.4 1157.5 L1418.4 1157.2 L1416.4 1156.9 L1414.5 1156.6 L1412.5 1156.3 L1410.5 1156.0 L1408.6 1155.7 L1406.6 1155.4 L1404.7 1155.1 L1402.7 1154.8 L1400.7 1154.5 L1398.8 1154.2 L1396.8 1153.9 L1394.9 1153.7 L1392.9 1153.4 L1390.9 1153.1 L1388.9 1152.8 L1386.9 1152.5 L1384.9 1152.2 L1383.0 1151.9 L1381.0 1151.6 L1379.0 1151.3 L1377.0 1151.0 L1375.0 1150.8 L1373.0 1150.5 L1371.1 1150.2 L1369.1 1149.9 L1367.2 1149.6 L1365.3 1149.3 L1363.4 1149.1 L1361.5 1148.8 L1359.6 1148.6 L1357.7 1148.3 L1355.9 1148.1 L1354.0 1147.9 L1352.2 1147.8 L1350.4 1147.6 L1348.6 1147.5 L1346.8 1147.4 L1345.1 1147.3 L1343.3 1147.2 L1341.6 1147.2 L1339.9 1147.2 L1338.2 1147.2 L1336.5 1147.3 L1334.9 1147.3 L1333.2 1147.5 L1331.5 1147.6 L1329.9 1147.8 L1328.3 1148.0 L1326.6 1148.2 L1325.0 1148.5 L1323.3 1148.8 L1321.7 1149.1 L1320.0 1149.5 L1318.3 1149.9 L1316.6 1150.3 L1315.0 1150.8 L1313.3 1151.3 L1311.6 1151.8 L1309.9 1152.3 L1308.2 1152.9 L1306.4 1153.4 L1304.7 1154.0 L1303.0 1154.7 L1301.2 1155.3 L1299.5 1156.0 L1297.7 1156.7 L1296.0 1157.4 L1294.2 1158.1 L1292.4 1158.8 L1290.6 1159.5 L1288.9 1160.3 L1287.1 1161.0 L1285.3 1161.8 L1283.5 1162.5 L1281.7 1163.3 L1279.9 1164.1 L1278.2 1164.9 L1276.4 1165.7 L1274.6 1166.5 L1272.9 1167.3 L1271.1 1168.1 L1269.4 1168.9 L1267.7 1169.7 L1266.1 1170.5 L1264.4 1171.3 L1262.8 1172.1 L1261.3 1172.9 L1259.8 1173.7 L1258.3 1174.6 L1256.8 1175.4 L1255.5 1176.3 L1254.1 1177.1 L1252.8 1178.0 L1251.5 1178.9 L1250.2 1179.9 L1249.0 1180.9 L1247.8 1181.9 L1246.6 1182.9 L1245.4 1184.0 L1244.2 1185.1 L1243.1 1186.2 L1241.9 1187.4 L1240.8 1188.6 L1239.7 1189.8 L1238.6 1191.1 L1237.5 1192.4 L1236.4 1193.7 L1235.4 1195.1 L1234.3 1196.5 L1233.3 1197.9 L1232.2 1199.4 L1231.2 1200.9 L1230.2 1202.3 L1229.1 1203.9 L1228.1 1205.4 L1227.2 1206.9 L1226.2 1208.5 L1225.2 1210.1 L1224.2 1211.7 L1223.3 1213.3 L1222.3 1214.9 L1221.4 1216.5 L1220.5 1218.1 L1219.6 1219.8 L1218.6 1221.5 L1217.7 1223.1 L1216.8 1224.8 L1215.9 1226.5 L1215.0 1228.3 L1214.1 1230.0 L1213.2 1231.7 L1212.3 1233.5 L1211.5 1235.2 L1210.6 1237.0 L1209.7 1238.7 L1208.8 1240.5 L1207.9 1242.3 L1207.0 1244.1 L1206.1 1245.8 L1205.2 1247.6Z" fill="#aef2a0"/>
<path d="M1182.4 1236.2 L1183.3 1234.4 L1184.2 1232.6 L1185.1 1230.8 L1186.0 1229.0 L1186.9 1227.2 L1187.8 1225.4 L1188.7 1223.6 L1189.6 1221.8 L1190.6 1220.1 L1191.5 1218.3 L1192.4 1216.5 L1193.4 1214.7 L1194.3 1212.9 L1195.3 1211.1 L1196.3 1209.3 L1197.2 1207.5 L1198.2 1205.7 L1199.3 1203.9 L1200.3 1202.1 L1201.3 1200.3 L1202.4 1198.5 L1203.4 1196.8 L1204.5 1195.0 L1205.6 1193.3 L1206.7 1191.5 L1207.9 1189.8 L1209.0 1188.0 L1210.2 1186.3 L1211.4 1184.6 L1212.6 1182.9 L1213.9 1181.2 L1215.2 1179.5 L1216.5 1177.9 L1217.8 1176.2 L1219.2 1174.6 L1220.6 1173.0 L1222.0 1171.4 L1223.5 1169.8 L1225.0 1168.2 L1226.5 1166.7 L1228.1 1165.2 L1229.7 1163.8 L1231.3 1162.4 L1233.0 1161.0 L1234.7 1159.6 L1236.5 1158.3 L1238.2 1157.1 L1240.0 1155.9 L1241.9 1154.7 L1243.7 1153.6 L1245.5 1152.5 L1247.4 1151.4 L1249.2 1150.4 L1251.1 1149.4 L1253.0 1148.5 L1254.8 1147.6 L1256.7 1146.7 L1258.6 1145.8 L1260.4 1144.9 L1262.3 1144.1 L1264.1 1143.2 L1266.0 1142.4 L1267.8 1141.6 L1269.7 1140.8 L1271.5 1139.9 L1273.4 1139.1 L1275.3 1138.3 L1277.1 1137.5 L1279.0 1136.7 L1280.9 1136.0 L1282.8 1135.2 L1284.6 1134.4 L1286.5 1133.7 L1288.5 1132.9 L1290.4 1132.2 L1292.3 1131.4 L1294.2 1130.7 L1296.2 1130.0 L1298.1 1129.3 L1300.1 1128.7 L1302.1 1128.0 L1304.1 1127.4 L1306.1 1126.8 L1308.1 1126.2 L1310.2 1125.6 L1312.2 1125.1 L1314.3 1124.6 L1316.4 1124.2 L1318.5 1123.8 L1320.6 1123.4 L1322.7 1123.0 L1324.8 1122.7 L1327.0 1122.4 L1329.1 1122.2 L1331.2 1122.0 L1333.4 1121.9 L1335.5 1121.8 L1337.6 1121.7 L1339.8 1121.7 L1341.9 1121.7 L1344.0 1121.7 L1346.1 1121.8 L1348.2 1121.9 L1350.3 1122.0 L1352.4 1122.2 L1354.5 1122.4 L1356.6 1122.6 L1358.6 1122.8 L1360.7 1123.0 L1362.7 1123.3 L1364.8 1123.5 L1366.8 1123.8 L1368.8 1124.1 L1370.8 1124.4 L1372.8 1124.6 L1374.8 1124.9 L1376.8 1125.2 L1378.8 1125.5 L1380.7 1125.8 L1382.7 1126.1 L1384.7 1126.4 L1386.7 1126.7 L1388.6 1127.0 L1390.6 1127.3 L1392.6 1127.6 L1394.6 1127.8 L1396.5 1128.1 L1398.5 1128.4 L1400.5 1128.7 L1402.5 1129.0 L1404.5 1129.3 L1406.5 1129.6 L1408.5 1129.9 L1410.4 1130.2 L1412.4 1130.5 L1414.4 1130.8 L1416.4 1131.1 L1418.4 1131.4 L1420.4 1131.7 L1422.3 1132.0 L1424.3 1132.3 L1426.3 1132.6 L1428.2 1132.9 L1430.2 1133.2 L1432.2 1133.5 L1434.1 1133.8 L1436.1 1134.1 L1438.0 1134.4 L1440.0 1134.6 L1442.0 1134.9 L1443.9 1135.2 L1445.9 1135.4 L1447.8 1135.7 L1449.8 1135.9 L1451.8 1136.2 L1453.7 1136.4 L1455.7 1136.6 L1457.6 1136.9 L1459.6 1137.1 L1461.6 1137.3 L1463.5 1137.5 L1465.5 1137.7 L1467.4 1137.9 L1469.4 1138.1 L1471.3 1138.2 L1473.2 1138.4 L1475.2 1138.5 L1477.1 1138.7 L1479.0 1138.8 L1481.0 1138.9 L1482.9 1138.9 L1484.8 1139.0 L1486.7 1139.0 L1488.6 1139.1 L1490.5 1139.1 L1492.4 1139.0 L1494.3 1139.0 L1496.2 1138.9 L1498.1 1138.8 L1500.0 1138.7 L1501.9 1138.6 L1503.8 1138.5 L1505.7 1138.3 L1507.6 1138.1 L1509.4 1137.9 L1511.3 1137.6 L1513.2 1137.4 L1515.1 1137.1 L1517.0 1136.8 L1518.9 1136.5 L1520.8 1136.2 L1522.6 1135.8 L1524.5 1135.5 L1526.4 1135.1 L1528.2 1134.7 L1530.1 1134.2 L1531.9 1133.8 L1533.8 1133.3 L1535.6 1132.8 L1537.4 1132.3 L1539.2 1131.8 L1541.0 1131.2 L1542.8 1130.7 L1544.6 1130.1 L1546.4 1129.4 L1548.2 1128.8 L1550.0 1128.1 L1551.8 1127.5 L1553.6 1126.8 L1555.4 1126.0 L1557.2 1125.3 L1559.0 1124.5 L1560.8 1123.8 L1562.6 1123.0 L1564.4 1122.2 L1566.2 1121.4 L1568.0 1120.6 L1569.8 1119.8 L1571.6 1119.0 L1573.3 1118.2 L1575.1 1117.4 L1576.8 1116.6 L1578.5 1115.7 L1580.2 1114.9 L1581.9 1114.1 L1583.5 1113.2 L1585.1 1112.3 L1586.6 1111.4 L1588.1 1110.5 L1589.6 1109.5 L1591.0 1108.5 L1592.4 1107.5 L1593.8 1106.4 L1595.2 1105.3 L1596.5 1104.2 L1597.7 1103.0 L1599.0 1101.8 L1600.2 1100.6 L1601.4 1099.3 L1602.5 1098.0 L1603.6 1096.7 L1604.7 1095.3 L1605.7 1094.0 L1606.7 1092.6 L1607.6 1091.2 L1608.4 1089.7 L1609.2 1088.3 L1609.9 1086.9 L1610.6 1085.5 L1611.1 1084.0 L1611.6 1082.6 L1612.0 1081.2 L1612.4 1079.8 L1612.6 1078.5 L1612.8 1077.1 L1612.9 1075.8 L1612.9 1074.6 L1612.8 1073.5 L1612.7 1072.4 L1612.4 1071.4 L1612.2 1070.5 L1611.8 1069.6 L1611.4 1068.9 L1611.0 1068.1 L1610.4 1067.4 L1609.8 1066.8 L1609.0 1066.1 L1608.2 1065.4 L1607.1 1064.7 L1605.9 1063.9 L1604.6 1063.2 L1603.2 1062.4 L1601.6 1061.5 L1600.0 1060.7 L1598.3 1059.8 L1596.5 1058.8 L1594.7 1057.8 L1592.9 1056.7 L1591.1 1055.6 L1589.3 1054.4 L1587.6 1053.2 L1585.8 1051.9 L1584.1 1050.6 L1582.4 1049.2 L1580.8 1047.9 L1579.2 1046.5 L1577.6 1045.0 L1576.0 1043.6 L1574.5 1042.1 L1573.0 1040.6 L1571.5 1039.0 L1570.1 1037.5 L1568.6 1035.9 L1567.2 1034.3 L1565.9 1032.7 L1564.5 1031.0 L1563.2 1029.4 L1561.9 1027.7 L1560.6 1026.0 L1559.4 1024.3 L1558.2 1022.5 L1557.0 1020.8 L1555.8 1019.0 L1554.7 1017.2 L1553.6 1015.4 L1552.5 1013.6 L1551.5 1011.8 L1550.4 1010.0 L1549.4 1008.1 L1548.4 1006.2 L1547.5 1004.3 L1546.5 1002.4 L1545.6 1000.5 L1544.8 998.6 L1543.9 996.6 L1543.1 994.6 L1542.4 992.6 L1541.7 990.5 L1541.0 988.5 L1540.3 986.4 L1539.8 984.3 L1539.2 982.1 L1538.8 980.0 L1538.4 977.8 L1538.0 975.6 L1537.7 973.4 L1537.5 971.2 L1537.4 969.0 L1537.3 966.8 L1537.3 964.6 L1537.3 962.4 L1537.4 960.2 L1537.6 958.0 L1537.8 955.8 L1538.1 953.6 L1538.5 951.4 L1538.9 949.3 L1539.3 947.2 L1539.8 945.1 L1540.4 943.0 L1540.9 940.9 L1541.6 938.8 L1542.2 936.8 L1542.9 934.7 L1543.7 932.7 L1544.4 930.7 L1545.2 928.8 L1546.1 926.8 L1547.0 924.8 L1547.9 922.9 L1548.8 921.0 L1549.8 919.1 L1550.9 917.2 L1551.9 915.3 L1553.0 913.5 L1554.2 911.6 L1555.4 909.8 L1556.6 908.0 L1557.9 906.3 L1559.2 904.6 L1560.5 902.9 L1561.9 901.2 L1563.3 899.6 L1564.8 898.0 L1566.2 896.4 L1567.7 894.9 L1569.2 893.4 L1570.8 891.9 L1572.3 890.5 L1573.9 889.0 L1575.5 887.7 L1577.1 886.3 L1578.7 885.0 L1580.3 883.6 L1581.9 882.3 L1583.5 881.0 L1585.1 879.8 L1586.8 878.5 L1588.4 877.3 L1590.0 876.1 L1591.7 874.8 L1593.4 873.6 L1595.0 872.4 L1596.7 871.3 L1598.4 870.1 L1600.1 868.9 L1601.8 867.8 L1603.5 866.6 L1605.3 865.5 L1607.0 864.4 L1608.7 863.3 L1610.5 862.2 L1612.2 861.1 L1614.0 860.1 L1615.7 859.0 L1617.5 858.0 L1619.3 857.0 L1621.0 856.0 L1622.8 855.0 L1624.5 854.0 L1626.3 853.0 L1628.0 852.0 L1629.8 851.0 L1631.6 850.0 L1633.3 849.0 L1635.1 848.1 L1635.1 848.1 L1647.5 870.3 L1647.5 870.3 L1645.7 871.3 L1644.0 872.3 L1642.3 873.2 L1640.5 874.2 L1638.8 875.2 L1637.1 876.1 L1635.4 877.1 L1633.7 878.1 L1632.1 879.0 L1630.4 880.0 L1628.8 881.0 L1627.1 881.9 L1625.5 882.9 L1623.9 883.9 L1622.3 884.9 L1620.7 885.9 L1619.1 886.9 L1617.5 887.9 L1616.0 889.0 L1614.4 890.0 L1612.9 891.1 L1611.3 892.2 L1609.8 893.2 L1608.3 894.3 L1606.7 895.4 L1605.2 896.5 L1603.7 897.7 L1602.2 898.8 L1600.7 899.9 L1599.3 901.1 L1597.8 902.2 L1596.4 903.4 L1595.0 904.6 L1593.6 905.7 L1592.2 906.9 L1590.9 908.1 L1589.6 909.2 L1588.3 910.4 L1587.1 911.6 L1585.9 912.8 L1584.7 914.0 L1583.6 915.2 L1582.5 916.4 L1581.4 917.7 L1580.4 918.9 L1579.4 920.2 L1578.4 921.5 L1577.4 922.8 L1576.5 924.1 L1575.6 925.4 L1574.8 926.8 L1573.9 928.2 L1573.1 929.6 L1572.3 931.1 L1571.6 932.5 L1570.8 934.0 L1570.1 935.5 L1569.4 937.1 L1568.8 938.6 L1568.1 940.1 L1567.5 941.7 L1567.0 943.3 L1566.4 944.8 L1565.9 946.4 L1565.4 948.0 L1565.0 949.6 L1564.6 951.1 L1564.2 952.7 L1563.9 954.2 L1563.6 955.8 L1563.4 957.3 L1563.2 958.8 L1563.0 960.3 L1562.9 961.8 L1562.8 963.3 L1562.8 964.8 L1562.8 966.2 L1562.8 967.7 L1562.9 969.1 L1563.1 970.6 L1563.3 972.0 L1563.5 973.5 L1563.8 974.9 L1564.1 976.4 L1564.4 977.8 L1564.8 979.3 L1565.3 980.8 L1565.8 982.3 L1566.3 983.8 L1566.9 985.3 L1567.5 986.9 L1568.2 988.4 L1568.9 989.9 L1569.6 991.5 L1570.3 993.0 L1571.1 994.6 L1571.9 996.1 L1572.8 997.6 L1573.6 999.2 L1574.5 1000.7 L1575.4 1002.2 L1576.3 1003.7 L1577.3 1005.2 L1578.2 1006.7 L1579.2 1008.1 L1580.2 1009.5 L1581.2 1010.9 L1582.2 1012.3 L1583.3 1013.7 L1584.4 1015.0 L1585.4 1016.4 L1586.6 1017.7 L1587.7 1019.0 L1588.8 1020.2 L1590.0 1021.5 L1591.2 1022.7 L1592.4 1023.9 L1593.6 1025.1 L1594.8 1026.2 L1596.1 1027.4 L1597.3 1028.5 L1598.6 1029.5 L1599.8 1030.5 L1601.1 1031.5 L1602.4 1032.4 L1603.6 1033.3 L1604.9 1034.1 L1606.2 1035.0 L1607.6 1035.8 L1609.0 1036.6 L1610.4 1037.4 L1612.0 1038.2 L1613.6 1039.1 L1615.4 1040.0 L1617.3 1041.0 L1619.3 1042.2 L1621.3 1043.5 L1623.5 1045.0 L1625.7 1046.7 L1627.8 1048.7 L1629.9 1051.0 L1631.8 1053.4 L1633.5 1056.1 L1635.0 1058.9 L1636.2 1061.9 L1637.1 1064.9 L1637.8 1067.9 L1638.2 1070.8 L1638.4 1073.8 L1638.4 1076.7 L1638.2 1079.6 L1637.8 1082.4 L1637.3 1085.1 L1636.7 1087.8 L1635.9 1090.4 L1635.0 1092.9 L1634.0 1095.4 L1632.9 1097.8 L1631.8 1100.1 L1630.6 1102.4 L1629.2 1104.6 L1627.9 1106.7 L1626.5 1108.7 L1625.0 1110.7 L1623.5 1112.7 L1621.9 1114.6 L1620.3 1116.4 L1618.7 1118.2 L1617.0 1119.9 L1615.2 1121.6 L1613.4 1123.2 L1611.6 1124.8 L1609.7 1126.4 L1607.7 1127.9 L1605.8 1129.3 L1603.8 1130.7 L1601.8 1132.0 L1599.8 1133.2 L1597.8 1134.4 L1595.8 1135.5 L1593.8 1136.6 L1591.8 1137.6 L1589.8 1138.6 L1587.9 1139.6 L1585.9 1140.5 L1584.0 1141.4 L1582.1 1142.2 L1580.2 1143.1 L1578.3 1143.9 L1576.4 1144.8 L1574.6 1145.6 L1572.7 1146.4 L1570.8 1147.2 L1568.9 1148.0 L1566.9 1148.8 L1565.0 1149.6 L1563.0 1150.4 L1561.0 1151.2 L1559.0 1152.0 L1557.0 1152.8 L1554.9 1153.5 L1552.8 1154.2 L1550.8 1154.9 L1548.7 1155.6 L1546.6 1156.2 L1544.4 1156.8 L1542.3 1157.4 L1540.2 1158.0 L1538.1 1158.5 L1536.0 1159.1 L1533.8 1159.5 L1531.7 1160.0 L1529.6 1160.4 L1527.4 1160.9 L1525.3 1161.3 L1523.2 1161.6 L1521.0 1162.0 L1518.9 1162.3 L1516.8 1162.6 L1514.6 1162.9 L1512.4 1163.2 L1510.3 1163.4 L1508.1 1163.7 L1505.9 1163.9 L1503.8 1164.0 L1501.6 1164.2 L1499.4 1164.3 L1497.2 1164.4 L1495.0 1164.5 L1492.8 1164.5 L1490.6 1164.6 L1488.5 1164.6 L1486.3 1164.5 L1484.1 1164.5 L1482.0 1164.4 L1479.8 1164.3 L1477.7 1164.2 L1475.5 1164.1 L1473.4 1164.0 L1471.3 1163.8 L1469.2 1163.6 L1467.1 1163.5 L1465.0 1163.3 L1463.0 1163.1 L1460.9 1162.9 L1458.9 1162.7 L1456.8 1162.4 L1454.8 1162.2 L1452.7 1162.0 L1450.7 1161.7 L1448.7 1161.5 L1446.6 1161.2 L1444.6 1161.0 L1442.6 1160.7 L1440.6 1160.5 L1438.5 1160.2 L1436.5 1159.9 L1434.5 1159.6 L1432.5 1159.3 L1430.4 1159.0 L1428.4 1158.7 L1426.4 1158.4 L1424.4 1158.1 L1422.4 1157.8 L1420.4 1157.5 L1418.4 1157.2 L1416.4 1156.9 L1414.5 1156.6 L1412.5 1156.3 L1410.5 1156.0 L1408.6 1155.7 L1406.6 1155.4 L1404.7 1155.1 L1402.7 1154.8 L1400.7 1154.5 L1398.8 1154.2 L1396.8 1153.9 L1394.9 1153.7 L1392.9 1153.4 L1390.9 1153.1 L1388.9 1152.8 L1386.9 1152.5 L1384.9 1152.2 L1383.0 1151.9 L1381.0 1151.6 L1379.0 1151.3 L1377.0 1151.0 L1375.0 1150.8 L1373.0 1150.5 L1371.1 1150.2 L1369.1 1149.9 L1367.2 1149.6 L1365.3 1149.3 L1363.4 1149.1 L1361.5 1148.8 L1359.6 1148.6 L1357.7 1148.3 L1355.9 1148.1 L1354.0 1147.9 L1352.2 1147.8 L1350.4 1147.6 L1348.6 1147.5 L1346.8 1147.4 L1345.1 1147.3 L1343.3 1147.2 L1341.6 1147.2 L1339.9 1147.2 L1338.2 1147.2 L1336.5 1147.3 L1334.9 1147.3 L1333.2 1147.5 L1331.5 1147.6 L1329.9 1147.8 L1328.3 1148.0 L1326.6 1148.2 L1325.0 1148.5 L1323.3 1148.8 L1321.7 1149.1 L1320.0 1149.5 L1318.3 1149.9 L1316.6 1150.3 L1315.0 1150.8 L1313.3 1151.3 L1311.6 1151.8 L1309.9 1152.3 L1308.2 1152.9 L1306.4 1153.4 L1304.7 1154.0 L1303.0 1154.7 L1301.2 1155.3 L1299.5 1156.0 L1297.7 1156.7 L1296.0 1157.4 L1294.2 1158.1 L1292.4 1158.8 L1290.6 1159.5 L1288.9 1160.3 L1287.1 1161.0 L1285.3 1161.8 L1283.5 1162.5 L1281.7 1163.3 L1279.9 1164.1 L1278.2 1164.9 L1276.4 1165.7 L1274.6 1166.5 L1272.9 1167.3 L1271.1 1168.1 L1269.4 1168.9 L1267.7 1169.7 L1266.1 1170.5 L1264.4 1171.3 L1262.8 1172.1 L1261.3 1172.9 L1259.8 1173.7 L1258.3 1174.6 L1256.8 1175.4 L1255.5 1176.3 L1254.1 1177.1 L1252.8 1178.0 L1251.5 1178.9 L1250.2 1179.9 L1249.0 1180.9 L1247.8 1181.9 L1246.6 1182.9 L1245.4 1184.0 L1244.2 1185.1 L1243.1 1186.2 L1241.9 1187.4 L1240.8 1188.6 L1239.7 1189.8 L1238.6 1191.1 L1237.5 1192.4 L1236.4 1193.7 L1235.4 1195.1 L1234.3 1196.5 L1233.3 1197.9 L1232.2 1199.4 L1231.2 1200.9 L1230.2 1202.3 L1229.1 1203.9 L1228.1 1205.4 L1227.2 1206.9 L1226.2 1208.5 L1225.2 1210.1 L1224.2 1211.7 L1223.3 1213.3 L1222.3 1214.9 L1221.4 1216.5 L1220.5 1218.1 L1219.6 1219.8 L1218.6 1221.5 L1217.7 1223.1 L1216.8 1224.8 L1215.9 1226.5 L1215.0 1228.3 L1214.1 1230.0 L1213.2 1231.7 L1212.3 1233.5 L1211.5 1235.2 L1210.6 1237.0 L1209.7 1238.7 L1208.8 1240.5 L1207.9 1242.3 L1207.0 1244.1 L1206.1 1245.8 L1205.2 1247.6Z" fill="#9de6fb"/>
<path d="M1190.0 1240.0 L1190.9 1238.2 L1191.8 1236.4 L1192.7 1234.6 L1193.6 1232.9 L1194.5 1231.1 L1195.4 1229.3 L1196.3 1227.5 L1197.2 1225.7 L1198.1 1223.9 L1199.0 1222.2 L1200.0 1220.4 L1200.9 1218.6 L1201.8 1216.9 L1202.8 1215.1 L1203.7 1213.3 L1204.7 1211.6 L1205.7 1209.8 L1206.6 1208.1 L1207.6 1206.4 L1208.6 1204.6 L1209.7 1202.9 L1210.7 1201.2 L1211.7 1199.5 L1212.8 1197.8 L1213.9 1196.1 L1215.0 1194.5 L1216.1 1192.8 L1217.2 1191.2 L1218.4 1189.5 L1219.5 1187.9 L1220.7 1186.3 L1221.9 1184.7 L1223.1 1183.2 L1224.4 1181.6 L1225.7 1180.1 L1226.9 1178.6 L1228.3 1177.1 L1229.6 1175.6 L1231.0 1174.2 L1232.4 1172.8 L1233.8 1171.5 L1235.3 1170.1 L1236.8 1168.9 L1238.3 1167.6 L1239.9 1166.4 L1241.5 1165.2 L1243.1 1164.1 L1244.7 1163.0 L1246.4 1161.9 L1248.1 1160.8 L1249.8 1159.8 L1251.5 1158.9 L1253.3 1157.9 L1255.0 1157.0 L1256.8 1156.1 L1258.6 1155.2 L1260.4 1154.3 L1262.2 1153.5 L1264.0 1152.6 L1265.8 1151.8 L1267.6 1151.0 L1269.4 1150.2 L1271.3 1149.3 L1273.1 1148.5 L1274.9 1147.7 L1276.8 1146.9 L1278.6 1146.1 L1280.4 1145.4 L1282.3 1144.6 L1284.1 1143.8 L1286.0 1143.0 L1287.8 1142.3 L1289.7 1141.6 L1291.5 1140.8 L1293.4 1140.1 L1295.3 1139.4 L1297.1 1138.7 L1299.0 1138.0 L1300.9 1137.4 L1302.8 1136.7 L1304.7 1136.1 L1306.6 1135.5 L1308.5 1134.9 L1310.4 1134.4 L1312.3 1133.9 L1314.3 1133.4 L1316.2 1132.9 L1318.1 1132.5 L1320.1 1132.1 L1322.0 1131.7 L1324.0 1131.4 L1326.0 1131.1 L1327.9 1130.9 L1329.9 1130.7 L1331.9 1130.5 L1333.9 1130.4 L1335.8 1130.3 L1337.8 1130.2 L1339.8 1130.2 L1341.8 1130.2 L1343.8 1130.2 L1345.8 1130.3 L1347.8 1130.4 L1349.8 1130.5 L1351.8 1130.7 L1353.7 1130.8 L1355.7 1131.0 L1357.7 1131.2 L1359.7 1131.5 L1361.7 1131.7 L1363.7 1132.0 L1365.6 1132.2 L1367.6 1132.5 L1369.6 1132.8 L1371.6 1133.1 L1373.6 1133.4 L1375.5 1133.6 L1377.5 1133.9 L1379.5 1134.2 L1381.5 1134.5 L1383.4 1134.8 L1385.4 1135.1 L1387.4 1135.4 L1389.4 1135.7 L1391.4 1136.0 L1393.3 1136.3 L1395.3 1136.5 L1397.3 1136.8 L1399.3 1137.1 L1401.3 1137.4 L1403.2 1137.7 L1405.2 1138.0 L1407.2 1138.3 L1409.2 1138.6 L1411.1 1138.9 L1413.1 1139.2 L1415.1 1139.5 L1417.1 1139.8 L1419.0 1140.1 L1421.0 1140.4 L1423.0 1140.7 L1425.0 1141.0 L1427.0 1141.3 L1428.9 1141.6 L1430.9 1141.9 L1432.9 1142.2 L1434.9 1142.5 L1436.8 1142.8 L1438.8 1143.1 L1440.8 1143.3 L1442.8 1143.6 L1444.8 1143.9 L1446.8 1144.1 L1448.7 1144.4 L1450.7 1144.6 L1452.7 1144.8 L1454.7 1145.1 L1456.7 1145.3 L1458.7 1145.5 L1460.7 1145.8 L1462.6 1146.0 L1464.6 1146.2 L1466.6 1146.4 L1468.6 1146.5 L1470.6 1146.7 L1472.6 1146.9 L1474.6 1147.0 L1476.6 1147.1 L1478.6 1147.3 L1480.6 1147.4 L1482.6 1147.4 L1484.6 1147.5 L1486.6 1147.5 L1488.6 1147.6 L1490.5 1147.6 L1492.5 1147.5 L1494.5 1147.5 L1496.5 1147.4 L1498.5 1147.3 L1500.5 1147.2 L1502.5 1147.1 L1504.5 1146.9 L1506.5 1146.7 L1508.5 1146.5 L1510.4 1146.3 L1512.4 1146.1 L1514.4 1145.8 L1516.4 1145.5 L1518.3 1145.2 L1520.3 1144.9 L1522.3 1144.5 L1524.2 1144.2 L1526.2 1143.8 L1528.2 1143.4 L1530.1 1143.0 L1532.0 1142.5 L1534.0 1142.0 L1535.9 1141.5 L1537.8 1141.0 L1539.8 1140.5 L1541.7 1139.9 L1543.6 1139.4 L1545.5 1138.7 L1547.4 1138.1 L1549.3 1137.5 L1551.1 1136.8 L1553.0 1136.1 L1554.9 1135.4 L1556.7 1134.6 L1558.6 1133.9 L1560.4 1133.1 L1562.3 1132.4 L1564.1 1131.6 L1565.9 1130.8 L1567.8 1130.0 L1569.6 1129.2 L1571.4 1128.4 L1573.3 1127.6 L1575.1 1126.8 L1576.9 1125.9 L1578.7 1125.1 L1580.5 1124.2 L1582.3 1123.4 L1584.1 1122.5 L1585.8 1121.6 L1587.6 1120.6 L1589.3 1119.7 L1591.0 1118.7 L1592.7 1117.6 L1594.3 1116.5 L1596.0 1115.4 L1597.5 1114.3 L1599.1 1113.1 L1600.6 1111.8 L1602.1 1110.5 L1603.6 1109.2 L1605.0 1107.8 L1606.4 1106.4 L1607.7 1105.0 L1609.0 1103.5 L1610.3 1102.0 L1611.5 1100.5 L1612.6 1098.9 L1613.7 1097.3 L1614.8 1095.6 L1615.8 1094.0 L1616.7 1092.3 L1617.6 1090.5 L1618.4 1088.8 L1619.1 1087.0 L1619.7 1085.2 L1620.2 1083.4 L1620.7 1081.6 L1621.0 1079.8 L1621.3 1077.9 L1621.4 1076.1 L1621.4 1074.3 L1621.3 1072.6 L1621.0 1070.9 L1620.7 1069.2 L1620.2 1067.6 L1619.5 1066.1 L1618.8 1064.6 L1617.9 1063.2 L1616.9 1062.0 L1615.8 1060.8 L1614.6 1059.6 L1613.3 1058.6 L1611.9 1057.6 L1610.4 1056.7 L1608.8 1055.8 L1607.3 1054.9 L1605.6 1054.0 L1604.0 1053.2 L1602.3 1052.3 L1600.7 1051.4 L1599.0 1050.4 L1597.3 1049.5 L1595.7 1048.4 L1594.1 1047.4 L1592.5 1046.2 L1590.9 1045.1 L1589.3 1043.9 L1587.8 1042.7 L1586.3 1041.4 L1584.8 1040.1 L1583.3 1038.8 L1581.9 1037.4 L1580.5 1036.0 L1579.0 1034.6 L1577.7 1033.2 L1576.3 1031.7 L1575.0 1030.3 L1573.7 1028.8 L1572.4 1027.2 L1571.1 1025.7 L1569.9 1024.1 L1568.7 1022.6 L1567.5 1021.0 L1566.3 1019.4 L1565.2 1017.7 L1564.1 1016.1 L1563.0 1014.4 L1561.9 1012.7 L1560.9 1011.0 L1559.8 1009.3 L1558.8 1007.6 L1557.9 1005.9 L1556.9 1004.1 L1556.0 1002.3 L1555.1 1000.6 L1554.2 998.8 L1553.4 997.0 L1552.6 995.2 L1551.8 993.3 L1551.1 991.5 L1550.4 989.6 L1549.7 987.8 L1549.1 985.9 L1548.5 984.0 L1548.0 982.1 L1547.5 980.2 L1547.1 978.3 L1546.7 976.4 L1546.4 974.4 L1546.2 972.5 L1546.0 970.5 L1545.9 968.6 L1545.8 966.6 L1545.8 964.6 L1545.8 962.7 L1545.9 960.7 L1546.1 958.7 L1546.3 956.8 L1546.5 954.8 L1546.9 952.9 L1547.2 950.9 L1547.6 949.0 L1548.1 947.1 L1548.6 945.2 L1549.1 943.3 L1549.7 941.4 L1550.3 939.5 L1550.9 937.6 L1551.6 935.7 L1552.3 933.9 L1553.1 932.0 L1553.9 930.2 L1554.7 928.4 L1555.5 926.6 L1556.4 924.8 L1557.3 923.1 L1558.3 921.3 L1559.3 919.6 L1560.3 917.9 L1561.3 916.2 L1562.4 914.6 L1563.6 912.9 L1564.7 911.3 L1565.9 909.8 L1567.1 908.2 L1568.4 906.7 L1569.7 905.2 L1571.0 903.7 L1572.4 902.3 L1573.8 900.8 L1575.2 899.4 L1576.6 898.1 L1578.1 896.7 L1579.6 895.4 L1581.0 894.1 L1582.6 892.8 L1584.1 891.5 L1585.6 890.2 L1587.2 889.0 L1588.8 887.7 L1590.3 886.5 L1591.9 885.3 L1593.5 884.1 L1595.1 882.9 L1596.7 881.7 L1598.3 880.5 L1600.0 879.4 L1601.6 878.2 L1603.2 877.1 L1604.9 876.0 L1606.5 874.8 L1608.2 873.7 L1609.9 872.6 L1611.6 871.6 L1613.3 870.5 L1614.9 869.4 L1616.7 868.4 L1618.4 867.4 L1620.1 866.3 L1621.8 865.3 L1623.5 864.3 L1625.3 863.3 L1627.0 862.3 L1628.7 861.3 L1630.5 860.4 L1632.2 859.4 L1634.0 858.4 L1635.7 857.4 L1637.5 856.4 L1639.2 855.5 L1639.2 855.5 L1647.5 870.3 L1647.5 870.3 L1645.7 871.3 L1644.0 872.3 L1642.3 873.2 L1640.5 874.2 L1638.8 875.2 L1637.1 876.1 L1635.4 877.1 L1633.7 878.1 L1632.1 879.0 L1630.4 880.0 L1628.8 881.0 L1627.1 881.9 L1625.5 882.9 L1623.9 883.9 L1622.3 884.9 L1620.7 885.9 L1619.1 886.9 L1617.5 887.9 L1616.0 889.0 L1614.4 890.0 L1612.9 891.1 L1611.3 892.2 L1609.8 893.2 L1608.3 894.3 L1606.7 895.4 L1605.2 896.5 L1603.7 897.7 L1602.2 898.8 L1600.7 899.9 L1599.3 901.1 L1597.8 902.2 L1596.4 903.4 L1595.0 904.6 L1593.6 905.7 L1592.2 906.9 L1590.9 908.1 L1589.6 909.2 L1588.3 910.4 L1587.1 911.6 L1585.9 912.8 L1584.7 914.0 L1583.6 915.2 L1582.5 916.4 L1581.4 917.7 L1580.4 918.9 L1579.4 920.2 L1578.4 921.5 L1577.4 922.8 L1576.5 924.1 L1575.6 925.4 L1574.8 926.8 L1573.9 928.2 L1573.1 929.6 L1572.3 931.1 L1571.6 932.5 L1570.8 934.0 L1570.1 935.5 L1569.4 937.1 L1568.8 938.6 L1568.1 940.1 L1567.5 941.7 L1567.0 943.3 L1566.4 944.8 L1565.9 946.4 L1565.4 948.0 L1565.0 949.6 L1564.6 951.1 L1564.2 952.7 L1563.9 954.2 L1563.6 955.8 L1563.4 957.3 L1563.2 958.8 L1563.0 960.3 L1562.9 961.8 L1562.8 963.3 L1562.8 964.8 L1562.8 966.2 L1562.8 967.7 L1562.9 969.1 L1563.1 970.6 L1563.3 972.0 L1563.5 973.5 L1563.8 974.9 L1564.1 976.4 L1564.4 977.8 L1564.8 979.3 L1565.3 980.8 L1565.8 982.3 L1566.3 983.8 L1566.9 985.3 L1567.5 986.9 L1568.2 988.4 L1568.9 989.9 L1569.6 991.5 L1570.3 993.0 L1571.1 994.6 L1571.9 996.1 L1572.8 997.6 L1573.6 999.2 L1574.5 1000.7 L1575.4 1002.2 L1576.3 1003.7 L1577.3 1005.2 L1578.2 1006.7 L1579.2 1008.1 L1580.2 1009.5 L1581.2 1010.9 L1582.2 1012.3 L1583.3 1013.7 L1584.4 1015.0 L1585.4 1016.4 L1586.6 1017.7 L1587.7 1019.0 L1588.8 1020.2 L1590.0 1021.5 L1591.2 1022.7 L1592.4 1023.9 L1593.6 1025.1 L1594.8 1026.2 L1596.1 1027.4 L1597.3 1028.5 L1598.6 1029.5 L1599.8 1030.5 L1601.1 1031.5 L1602.4 1032.4 L1603.6 1033.3 L1604.9 1034.1 L1606.2 1035.0 L1607.6 1035.8 L1609.0 1036.6 L1610.4 1037.4 L1612.0 1038.2 L1613.6 1039.1 L1615.4 1040.0 L1617.3 1041.0 L1619.3 1042.2 L1621.3 1043.5 L1623.5 1045.0 L1625.7 1046.7 L1627.8 1048.7 L1629.9 1051.0 L1631.8 1053.4 L1633.5 1056.1 L1635.0 1058.9 L1636.2 1061.9 L1637.1 1064.9 L1637.8 1067.9 L1638.2 1070.8 L1638.4 1073.8 L1638.4 1076.7 L1638.2 1079.6 L1637.8 1082.4 L1637.3 1085.1 L1636.7 1087.8 L1635.9 1090.4 L1635.0 1092.9 L1634.0 1095.4 L1632.9 1097.8 L1631.8 1100.1 L1630.6 1102.4 L1629.2 1104.6 L1627.9 1106.7 L1626.5 1108.7 L1625.0 1110.7 L1623.5 1112.7 L1621.9 1114.6 L1620.3 1116.4 L1618.7 1118.2 L1617.0 1119.9 L1615.2 1121.6 L1613.4 1123.2 L1611.6 1124.8 L1609.7 1126.4 L1607.7 1127.9 L1605.8 1129.3 L1603.8 1130.7 L1601.8 1132.0 L1599.8 1133.2 L1597.8 1134.4 L1595.8 1135.5 L1593.8 1136.6 L1591.8 1137.6 L1589.8 1138.6 L1587.9 1139.6 L1585.9 1140.5 L1584.0 1141.4 L1582.1 1142.2 L1580.2 1143.1 L1578.3 1143.9 L1576.4 1144.8 L1574.6 1145.6 L1572.7 1146.4 L1570.8 1147.2 L1568.9 1148.0 L1566.9 1148.8 L1565.0 1149.6 L1563.0 1150.4 L1561.0 1151.2 L1559.0 1152.0 L1557.0 1152.8 L1554.9 1153.5 L1552.8 1154.2 L1550.8 1154.9 L1548.7 1155.6 L1546.6 1156.2 L1544.4 1156.8 L1542.3 1157.4 L1540.2 1158.0 L1538.1 1158.5 L1536.0 1159.1 L1533.8 1159.5 L1531.7 1160.0 L1529.6 1160.4 L1527.4 1160.9 L1525.3 1161.3 L1523.2 1161.6 L1521.0 1162.0 L1518.9 1162.3 L1516.8 1162.6 L1514.6 1162.9 L1512.4 1163.2 L1510.3 1163.4 L1508.1 1163.7 L1505.9 1163.9 L1503.8 1164.0 L1501.6 1164.2 L1499.4 1164.3 L1497.2 1164.4 L1495.0 1164.5 L1492.8 1164.5 L1490.6 1164.6 L1488.5 1164.6 L1486.3 1164.5 L1484.1 1164.5 L1482.0 1164.4 L1479.8 1164.3 L1477.7 1164.2 L1475.5 1164.1 L1473.4 1164.0 L1471.3 1163.8 L1469.2 1163.6 L1467.1 1163.5 L1465.0 1163.3 L1463.0 1163.1 L1460.9 1162.9 L1458.9 1162.7 L1456.8 1162.4 L1454.8 1162.2 L1452.7 1162.0 L1450.7 1161.7 L1448.7 1161.5 L1446.6 1161.2 L1444.6 1161.0 L1442.6 1160.7 L1440.6 1160.5 L1438.5 1160.2 L1436.5 1159.9 L1434.5 1159.6 L1432.5 1159.3 L1430.4 1159.0 L1428.4 1158.7 L1426.4 1158.4 L1424.4 1158.1 L1422.4 1157.8 L1420.4 1157.5 L1418.4 1157.2 L1416.4 1156.9 L1414.5 1156.6 L1412.5 1156.3 L1410.5 1156.0 L1408.6 1155.7 L1406.6 1155.4 L1404.7 1155.1 L1402.7 1154.8 L1400.7 1154.5 L1398.8 1154.2 L1396.8 1153.9 L1394.9 1153.7 L1392.9 1153.4 L1390.9 1153.1 L1388.9 1152.8 L1386.9 1152.5 L1384.9 1152.2 L1383.0 1151.9 L1381.0 1151.6 L1379.0 1151.3 L1377.0 1151.0 L1375.0 1150.8 L1373.0 1150.5 L1371.1 1150.2 L1369.1 1149.9 L1367.2 1149.6 L1365.3 1149.3 L1363.4 1149.1 L1361.5 1148.8 L1359.6 1148.6 L1357.7 1148.3 L1355.9 1148.1 L1354.0 1147.9 L1352.2 1147.8 L1350.4 1147.6 L1348.6 1147.5 L1346.8 1147.4 L1345.1 1147.3 L1343.3 1147.2 L1341.6 1147.2 L1339.9 1147.2 L1338.2 1147.2 L1336.5 1147.3 L1334.9 1147.3 L1333.2 1147.5 L1331.5 1147.6 L1329.9 1147.8 L1328.3 1148.0 L1326.6 1148.2 L1325.0 1148.5 L1323.3 1148.8 L1321.7 1149.1 L1320.0 1149.5 L1318.3 1149.9 L1316.6 1150.3 L1315.0 1150.8 L1313.3 1151.3 L1311.6 1151.8 L1309.9 1152.3 L1308.2 1152.9 L1306.4 1153.4 L1304.7 1154.0 L1303.0 1154.7 L1301.2 1155.3 L1299.5 1156.0 L1297.7 1156.7 L1296.0 1157.4 L1294.2 1158.1 L1292.4 1158.8 L1290.6 1159.5 L1288.9 1160.3 L1287.1 1161.0 L1285.3 1161.8 L1283.5 1162.5 L1281.7 1163.3 L1279.9 1164.1 L1278.2 1164.9 L1276.4 1165.7 L1274.6 1166.5 L1272.9 1167.3 L1271.1 1168.1 L1269.4 1168.9 L1267.7 1169.7 L1266.1 1170.5 L1264.4 1171.3 L1262.8 1172.1 L1261.3 1172.9 L1259.8 1173.7 L1258.3 1174.6 L1256.8 1175.4 L1255.5 1176.3 L1254.1 1177.1 L1252.8 1178.0 L1251.5 1178.9 L1250.2 1179.9 L1249.0 1180.9 L1247.8 1181.9 L1246.6 1182.9 L1245.4 1184.0 L1244.2 1185.1 L1243.1 1186.2 L1241.9 1187.4 L1240.8 1188.6 L1239.7 1189.8 L1238.6 1191.1 L1237.5 1192.4 L1236.4 1193.7 L1235.4 1195.1 L1234.3 1196.5 L1233.3 1197.9 L1232.2 1199.4 L1231.2 1200.9 L1230.2 1202.3 L1229.1 1203.9 L1228.1 1205.4 L1227.2 1206.9 L1226.2 1208.5 L1225.2 1210.1 L1224.2 1211.7 L1223.3 1213.3 L1222.3 1214.9 L1221.4 1216.5 L1220.5 1218.1 L1219.6 1219.8 L1218.6 1221.5 L1217.7 1223.1 L1216.8 1224.8 L1215.9 1226.5 L1215.0 1228.3 L1214.1 1230.0 L1213.2 1231.7 L1212.3 1233.5 L1211.5 1235.2 L1210.6 1237.0 L1209.7 1238.7 L1208.8 1240.5 L1207.9 1242.3 L1207.0 1244.1 L1206.1 1245.8 L1205.2 1247.6Z" fill="#8692de"/>
<path d="M1197.6 1243.8 L1198.5 1242.0 L1199.4 1240.2 L1200.3 1238.5 L1201.2 1236.7 L1202.1 1234.9 L1203.0 1233.1 L1203.9 1231.4 L1204.8 1229.6 L1205.7 1227.8 L1206.6 1226.1 L1207.5 1224.3 L1208.4 1222.6 L1209.3 1220.8 L1210.3 1219.1 L1211.2 1217.4 L1212.1 1215.7 L1213.1 1214.0 L1214.0 1212.3 L1215.0 1210.6 L1216.0 1208.9 L1216.9 1207.3 L1217.9 1205.6 L1219.0 1204.0 L1220.0 1202.4 L1221.0 1200.8 L1222.1 1199.2 L1223.1 1197.6 L1224.2 1196.0 L1225.3 1194.5 L1226.4 1192.9 L1227.5 1191.4 L1228.6 1189.9 L1229.8 1188.4 L1230.9 1187.0 L1232.1 1185.6 L1233.3 1184.2 L1234.5 1182.8 L1235.8 1181.5 L1237.0 1180.2 L1238.3 1178.9 L1239.6 1177.7 L1240.9 1176.5 L1242.3 1175.4 L1243.7 1174.2 L1245.1 1173.1 L1246.5 1172.1 L1247.9 1171.0 L1249.4 1170.0 L1250.9 1169.1 L1252.5 1168.1 L1254.0 1167.2 L1255.6 1166.3 L1257.3 1165.4 L1258.9 1164.5 L1260.6 1163.7 L1262.3 1162.8 L1264.0 1162.0 L1265.8 1161.2 L1267.6 1160.3 L1269.3 1159.5 L1271.1 1158.7 L1272.9 1157.9 L1274.7 1157.1 L1276.5 1156.3 L1278.3 1155.5 L1280.1 1154.7 L1282.0 1154.0 L1283.8 1153.2 L1285.6 1152.4 L1287.4 1151.7 L1289.2 1150.9 L1291.0 1150.2 L1292.8 1149.5 L1294.6 1148.7 L1296.4 1148.0 L1298.2 1147.4 L1300.1 1146.7 L1301.9 1146.0 L1303.7 1145.4 L1305.5 1144.8 L1307.3 1144.2 L1309.1 1143.6 L1310.9 1143.1 L1312.7 1142.6 L1314.5 1142.1 L1316.3 1141.6 L1318.1 1141.2 L1319.9 1140.8 L1321.7 1140.4 L1323.5 1140.1 L1325.3 1139.8 L1327.1 1139.6 L1328.9 1139.3 L1330.7 1139.1 L1332.5 1139.0 L1334.4 1138.9 L1336.2 1138.8 L1338.0 1138.7 L1339.9 1138.7 L1341.7 1138.7 L1343.6 1138.7 L1345.4 1138.8 L1347.3 1138.9 L1349.2 1139.0 L1351.1 1139.1 L1353.0 1139.3 L1354.9 1139.5 L1356.8 1139.7 L1358.7 1139.9 L1360.6 1140.1 L1362.6 1140.4 L1364.5 1140.6 L1366.4 1140.9 L1368.4 1141.2 L1370.4 1141.5 L1372.3 1141.8 L1374.3 1142.1 L1376.3 1142.3 L1378.2 1142.6 L1380.2 1142.9 L1382.2 1143.2 L1384.2 1143.5 L1386.2 1143.8 L1388.2 1144.1 L1390.1 1144.4 L1392.1 1144.7 L1394.1 1145.0 L1396.1 1145.2 L1398.0 1145.5 L1400.0 1145.8 L1402.0 1146.1 L1404.0 1146.4 L1405.9 1146.7 L1407.9 1147.0 L1409.9 1147.3 L1411.8 1147.6 L1413.8 1147.9 L1415.8 1148.2 L1417.7 1148.5 L1419.7 1148.8 L1421.7 1149.1 L1423.7 1149.4 L1425.7 1149.7 L1427.7 1150.0 L1429.7 1150.3 L1431.7 1150.6 L1433.7 1150.9 L1435.7 1151.2 L1437.7 1151.5 L1439.7 1151.8 L1441.7 1152.0 L1443.7 1152.3 L1445.7 1152.5 L1447.7 1152.8 L1449.7 1153.0 L1451.7 1153.3 L1453.7 1153.5 L1455.7 1153.8 L1457.7 1154.0 L1459.8 1154.2 L1461.8 1154.4 L1463.8 1154.6 L1465.8 1154.8 L1467.9 1155.0 L1469.9 1155.2 L1472.0 1155.3 L1474.0 1155.5 L1476.1 1155.6 L1478.1 1155.7 L1480.2 1155.8 L1482.3 1155.9 L1484.3 1156.0 L1486.4 1156.0 L1488.5 1156.1 L1490.6 1156.1 L1492.7 1156.0 L1494.8 1156.0 L1496.9 1155.9 L1499.0 1155.8 L1501.0 1155.7 L1503.1 1155.6 L1505.2 1155.4 L1507.3 1155.2 L1509.4 1155.0 L1511.4 1154.8 L1513.5 1154.5 L1515.6 1154.2 L1517.6 1153.9 L1519.7 1153.6 L1521.8 1153.3 L1523.8 1152.9 L1525.8 1152.5 L1527.9 1152.1 L1529.9 1151.7 L1532.0 1151.2 L1534.0 1150.8 L1536.0 1150.3 L1538.1 1149.8 L1540.1 1149.2 L1542.1 1148.7 L1544.1 1148.1 L1546.1 1147.5 L1548.1 1146.8 L1550.1 1146.2 L1552.1 1145.5 L1554.1 1144.8 L1556.0 1144.0 L1557.9 1143.3 L1559.9 1142.5 L1561.8 1141.8 L1563.7 1141.0 L1565.6 1140.2 L1567.4 1139.4 L1569.3 1138.6 L1571.2 1137.8 L1573.0 1137.0 L1574.9 1136.2 L1576.7 1135.3 L1578.6 1134.5 L1580.4 1133.7 L1582.3 1132.8 L1584.2 1131.9 L1586.0 1131.0 L1587.9 1130.1 L1589.8 1129.1 L1591.7 1128.1 L1593.5 1127.0 L1595.4 1125.9 L1597.2 1124.8 L1599.1 1123.6 L1600.9 1122.4 L1602.6 1121.1 L1604.4 1119.7 L1606.1 1118.3 L1607.8 1116.9 L1609.4 1115.4 L1611.0 1113.9 L1612.5 1112.3 L1614.0 1110.7 L1615.5 1109.0 L1616.9 1107.3 L1618.2 1105.6 L1619.5 1103.8 L1620.8 1102.0 L1622.0 1100.1 L1623.2 1098.2 L1624.3 1096.2 L1625.3 1094.2 L1626.2 1092.1 L1627.1 1090.0 L1627.8 1087.8 L1628.5 1085.6 L1629.0 1083.3 L1629.4 1081.1 L1629.7 1078.7 L1629.9 1076.4 L1629.9 1074.1 L1629.7 1071.7 L1629.4 1069.4 L1628.9 1067.0 L1628.2 1064.7 L1627.3 1062.5 L1626.2 1060.4 L1624.9 1058.3 L1623.4 1056.5 L1621.8 1054.7 L1620.1 1053.2 L1618.4 1051.8 L1616.6 1050.5 L1614.8 1049.4 L1613.1 1048.4 L1611.3 1047.4 L1609.6 1046.5 L1608.0 1045.7 L1606.4 1044.8 L1604.8 1044.0 L1603.3 1043.1 L1601.8 1042.2 L1600.3 1041.3 L1598.9 1040.3 L1597.4 1039.3 L1596.0 1038.3 L1594.6 1037.2 L1593.2 1036.1 L1591.8 1034.9 L1590.4 1033.7 L1589.1 1032.5 L1587.7 1031.3 L1586.4 1030.0 L1585.1 1028.7 L1583.8 1027.3 L1582.6 1026.0 L1581.3 1024.6 L1580.1 1023.2 L1578.9 1021.8 L1577.7 1020.4 L1576.6 1018.9 L1575.5 1017.4 L1574.3 1016.0 L1573.3 1014.4 L1572.2 1012.9 L1571.1 1011.4 L1570.1 1009.8 L1569.1 1008.2 L1568.1 1006.6 L1567.2 1005.0 L1566.2 1003.4 L1565.3 1001.8 L1564.4 1000.1 L1563.5 998.5 L1562.7 996.8 L1561.9 995.1 L1561.1 993.5 L1560.4 991.8 L1559.7 990.1 L1559.0 988.4 L1558.3 986.7 L1557.7 985.0 L1557.2 983.4 L1556.7 981.7 L1556.2 980.0 L1555.8 978.3 L1555.4 976.6 L1555.1 974.9 L1554.8 973.2 L1554.6 971.5 L1554.5 969.8 L1554.3 968.1 L1554.3 966.4 L1554.3 964.7 L1554.3 963.0 L1554.4 961.3 L1554.5 959.5 L1554.7 957.8 L1555.0 956.1 L1555.2 954.3 L1555.6 952.6 L1555.9 950.8 L1556.3 949.1 L1556.8 947.4 L1557.3 945.6 L1557.8 943.9 L1558.3 942.2 L1558.9 940.4 L1559.6 938.7 L1560.2 937.0 L1560.9 935.3 L1561.6 933.6 L1562.4 932.0 L1563.2 930.3 L1564.0 928.7 L1564.8 927.1 L1565.7 925.5 L1566.6 923.9 L1567.5 922.4 L1568.5 920.8 L1569.5 919.3 L1570.5 917.9 L1571.5 916.4 L1572.6 915.0 L1573.8 913.6 L1574.9 912.2 L1576.1 910.8 L1577.3 909.5 L1578.5 908.1 L1579.8 906.8 L1581.1 905.5 L1582.5 904.2 L1583.8 903.0 L1585.2 901.7 L1586.6 900.5 L1588.1 899.2 L1589.5 898.0 L1591.0 896.8 L1592.5 895.6 L1594.0 894.4 L1595.5 893.2 L1597.1 892.0 L1598.6 890.9 L1600.2 889.7 L1601.7 888.6 L1603.3 887.4 L1604.9 886.3 L1606.5 885.2 L1608.1 884.1 L1609.7 883.0 L1611.3 881.9 L1612.9 880.8 L1614.5 879.8 L1616.1 878.7 L1617.8 877.7 L1619.4 876.7 L1621.1 875.7 L1622.7 874.7 L1624.4 873.7 L1626.1 872.7 L1627.8 871.7 L1629.5 870.7 L1631.2 869.7 L1632.9 868.7 L1634.7 867.8 L1636.4 866.8 L1638.1 865.8 L1639.9 864.8 L1641.6 863.9 L1643.3 862.9 L1643.3 862.9 L1647.5 870.3 L1647.5 870.3 L1645.7 871.3 L1644.0 872.3 L1642.3 873.2 L1640.5 874.2 L1638.8 875.2 L1637.1 876.1 L1635.4 877.1 L1633.7 878.1 L1632.1 879.0 L1630.4 880.0 L1628.8 881.0 L1627.1 881.9 L1625.5 882.9 L1623.9 883.9 L1622.3 884.9 L1620.7 885.9 L1619.1 886.9 L1617.5 887.9 L1616.0 889.0 L1614.4 890.0 L1612.9 891.1 L1611.3 892.2 L1609.8 893.2 L1608.3 894.3 L1606.7 895.4 L1605.2 896.5 L1603.7 897.7 L1602.2 898.8 L1600.7 899.9 L1599.3 901.1 L1597.8 902.2 L1596.4 903.4 L1595.0 904.6 L1593.6 905.7 L1592.2 906.9 L1590.9 908.1 L1589.6 909.2 L1588.3 910.4 L1587.1 911.6 L1585.9 912.8 L1584.7 914.0 L1583.6 915.2 L1582.5 916.4 L1581.4 917.7 L1580.4 918.9 L1579.4 920.2 L1578.4 921.5 L1577.4 922.8 L1576.5 924.1 L1575.6 925.4 L1574.8 926.8 L1573.9 928.2 L1573.1 929.6 L1572.3 931.1 L1571.6 932.5 L1570.8 934.0 L1570.1 935.5 L1569.4 937.1 L1568.8 938.6 L1568.1 940.1 L1567.5 941.7 L1567.0 943.3 L1566.4 944.8 L1565.9 946.4 L1565.4 948.0 L1565.0 949.6 L1564.6 951.1 L1564.2 952.7 L1563.9 954.2 L1563.6 955.8 L1563.4 957.3 L1563.2 958.8 L1563.0 960.3 L1562.9 961.8 L1562.8 963.3 L1562.8 964.8 L1562.8 966.2 L1562.8 967.7 L1562.9 969.1 L1563.1 970.6 L1563.3 972.0 L1563.5 973.5 L1563.8 974.9 L1564.1 976.4 L1564.4 977.8 L1564.8 979.3 L1565.3 980.8 L1565.8 982.3 L1566.3 983.8 L1566.9 985.3 L1567.5 986.9 L1568.2 988.4 L1568.9 989.9 L1569.6 991.5 L1570.3 993.0 L1571.1 994.6 L1571.9 996.1 L1572.8 997.6 L1573.6 999.2 L1574.5 1000.7 L1575.4 1002.2 L1576.3 1003.7 L1577.3 1005.2 L1578.2 1006.7 L1579.2 1008.1 L1580.2 1009.5 L1581.2 1010.9 L1582.2 1012.3 L1583.3 1013.7 L1584.4 1015.0 L1585.4 1016.4 L1586.6 1017.7 L1587.7 1019.0 L1588.8 1020.2 L1590.0 1021.5 L1591.2 1022.7 L1592.4 1023.9 L1593.6 1025.1 L1594.8 1026.2 L1596.1 1027.4 L1597.3 1028.5 L1598.6 1029.5 L1599.8 1030.5 L1601.1 1031.5 L1602.4 1032.4 L1603.6 1033.3 L1604.9 1034.1 L1606.2 1035.0 L1607.6 1035.8 L1609.0 1036.6 L1610.4 1037.4 L1612.0 1038.2 L1613.6 1039.1 L1615.4 1040.0 L1617.3 1041.0 L1619.3 1042.2 L1621.3 1043.5 L1623.5 1045.0 L1625.7 1046.7 L1627.8 1048.7 L1629.9 1051.0 L1631.8 1053.4 L1633.5 1056.1 L1635.0 1058.9 L1636.2 1061.9 L1637.1 1064.9 L1637.8 1067.9 L1638.2 1070.8 L1638.4 1073.8 L1638.4 1076.7 L1638.2 1079.6 L1637.8 1082.4 L1637.3 1085.1 L1636.7 1087.8 L1635.9 1090.4 L1635.0 1092.9 L1634.0 1095.4 L1632.9 1097.8 L1631.8 1100.1 L1630.6 1102.4 L1629.2 1104.6 L1627.9 1106.7 L1626.5 1108.7 L1625.0 1110.7 L1623.5 1112.7 L1621.9 1114.6 L1620.3 1116.4 L1618.7 1118.2 L1617.0 1119.9 L1615.2 1121.6 L1613.4 1123.2 L1611.6 1124.8 L1609.7 1126.4 L1607.7 1127.9 L1605.8 1129.3 L1603.8 1130.7 L1601.8 1132.0 L1599.8 1133.2 L1597.8 1134.4 L1595.8 1135.5 L1593.8 1136.6 L1591.8 1137.6 L1589.8 1138.6 L1587.9 1139.6 L1585.9 1140.5 L1584.0 1141.4 L1582.1 1142.2 L1580.2 1143.1 L1578.3 1143.9 L1576.4 1144.8 L1574.6 1145.6 L1572.7 1146.4 L1570.8 1147.2 L1568.9 1148.0 L1566.9 1148.8 L1565.0 1149.6 L1563.0 1150.4 L1561.0 1151.2 L1559.0 1152.0 L1557.0 1152.8 L1554.9 1153.5 L1552.8 1154.2 L1550.8 1154.9 L1548.7 1155.6 L1546.6 1156.2 L1544.4 1156.8 L1542.3 1157.4 L1540.2 1158.0 L1538.1 1158.5 L1536.0 1159.1 L1533.8 1159.5 L1531.7 1160.0 L1529.6 1160.4 L1527.4 1160.9 L1525.3 1161.3 L1523.2 1161.6 L1521.0 1162.0 L1518.9 1162.3 L1516.8 1162.6 L1514.6 1162.9 L1512.4 1163.2 L1510.3 1163.4 L1508.1 1163.7 L1505.9 1163.9 L1503.8 1164.0 L1501.6 1164.2 L1499.4 1164.3 L1497.2 1164.4 L1495.0 1164.5 L1492.8 1164.5 L1490.6 1164.6 L1488.5 1164.6 L1486.3 1164.5 L1484.1 1164.5 L1482.0 1164.4 L1479.8 1164.3 L1477.7 1164.2 L1475.5 1164.1 L1473.4 1164.0 L1471.3 1163.8 L1469.2 1163.6 L1467.1 1163.5 L1465.0 1163.3 L1463.0 1163.1 L1460.9 1162.9 L1458.9 1162.7 L1456.8 1162.4 L1454.8 1162.2 L1452.7 1162.0 L1450.7 1161.7 L1448.7 1161.5 L1446.6 1161.2 L1444.6 1161.0 L1442.6 1160.7 L1440.6 1160.5 L1438.5 1160.2 L1436.5 1159.9 L1434.5 1159.6 L1432.5 1159.3 L1430.4 1159.0 L1428.4 1158.7 L1426.4 1158.4 L1424.4 1158.1 L1422.4 1157.8 L1420.4 1157.5 L1418.4 1157.2 L1416.4 1156.9 L1414.5 1156.6 L1412.5 1156.3 L1410.5 1156.0 L1408.6 1155.7 L1406.6 1155.4 L1404.7 1155.1 L1402.7 1154.8 L1400.7 1154.5 L1398.8 1154.2 L1396.8 1153.9 L1394.9 1153.7 L1392.9 1153.4 L1390.9 1153.1 L1388.9 1152.8 L1386.9 1152.5 L1384.9 1152.2 L1383.0 1151.9 L1381.0 1151.6 L1379.0 1151.3 L1377.0 1151.0 L1375.0 1150.8 L1373.0 1150.5 L1371.1 1150.2 L1369.1 1149.9 L1367.2 1149.6 L1365.3 1149.3 L1363.4 1149.1 L1361.5 1148.8 L1359.6 1148.6 L1357.7 1148.3 L1355.9 1148.1 L1354.0 1147.9 L1352.2 1147.8 L1350.4 1147.6 L1348.6 1147.5 L1346.8 1147.4 L1345.1 1147.3 L1343.3 1147.2 L1341.6 1147.2 L1339.9 1147.2 L1338.2 1147.2 L1336.5 1147.3 L1334.9 1147.3 L1333.2 1147.5 L1331.5 1147.6 L1329.9 1147.8 L1328.3 1148.0 L1326.6 1148.2 L1325.0 1148.5 L1323.3 1148.8 L1321.7 1149.1 L1320.0 1149.5 L1318.3 1149.9 L1316.6 1150.3 L1315.0 1150.8 L1313.3 1151.3 L1311.6 1151.8 L1309.9 1152.3 L1308.2 1152.9 L1306.4 1153.4 L1304.7 1154.0 L1303.0 1154.7 L1301.2 1155.3 L1299.5 1156.0 L1297.7 1156.7 L1296.0 1157.4 L1294.2 1158.1 L1292.4 1158.8 L1290.6 1159.5 L1288.9 1160.3 L1287.1 1161.0 L1285.3 1161.8 L1283.5 1162.5 L1281.7 1163.3 L1279.9 1164.1 L1278.2 1164.9 L1276.4 1165.7 L1274.6 1166.5 L1272.9 1167.3 L1271.1 1168.1 L1269.4 1168.9 L1267.7 1169.7 L1266.1 1170.5 L1264.4 1171.3 L1262.8 1172.1 L1261.3 1172.9 L1259.8 1173.7 L1258.3 1174.6 L1256.8 1175.4 L1255.5 1176.3 L1254.1 1177.1 L1252.8 1178.0 L1251.5 1178.9 L1250.2 1179.9 L1249.0 1180.9 L1247.8 1181.9 L1246.6 1182.9 L1245.4 1184.0 L1244.2 1185.1 L1243.1 1186.2 L1241.9 1187.4 L1240.8 1188.6 L1239.7 1189.8 L1238.6 1191.1 L1237.5 1192.4 L1236.4 1193.7 L1235.4 1195.1 L1234.3 1196.5 L1233.3 1197.9 L1232.2 1199.4 L1231.2 1200.9 L1230.2 1202.3 L1229.1 1203.9 L1228.1 1205.4 L1227.2 1206.9 L1226.2 1208.5 L1225.2 1210.1 L1224.2 1211.7 L1223.3 1213.3 L1222.3 1214.9 L1221.4 1216.5 L1220.5 1218.1 L1219.6 1219.8 L1218.6 1221.5 L1217.7 1223.1 L1216.8 1224.8 L1215.9 1226.5 L1215.0 1228.3 L1214.1 1230.0 L1213.2 1231.7 L1212.3 1233.5 L1211.5 1235.2 L1210.6 1237.0 L1209.7 1238.7 L1208.8 1240.5 L1207.9 1242.3 L1207.0 1244.1 L1206.1 1245.8 L1205.2 1247.6Z" fill="#ad92d4"/>
<rect x="688.20" y="306.25" width="89.8" height="89.5" rx="6" fill="#ff9a9a"/>
<rect x="805.17" y="306.25" width="89.8" height="89.5" rx="6" fill="#ff9a9a"/>
<rect x="922.14" y="306.25" width="89.8" height="89.5" rx="6" fill="#ff9a9a"/>
<rect x="1039.11" y="306.25" width="89.8" height="89.5" rx="6" fill="#ff9a9a"/>
<rect x="1156.08" y="306.25" width="89.8" height="89.5" rx="6" fill="#ff9a9a"/>
<rect x="1273.05" y="306.25" width="89.8" height="89.5" rx="6" fill="#ff9a9a"/>
<rect x="1390.02" y="306.25" width="89.8" height="89.5" rx="6" fill="#ff9a9a"/>
<rect x="688.20" y="420.18" width="89.8" height="89.5" rx="6" fill="#ffc282"/>
<rect x="805.17" y="420.18" width="89.8" height="89.5" rx="6" fill="#ffc282"/>
<rect x="922.14" y="420.18" width="89.8" height="89.5" rx="6" fill="#ffc282"/>
<rect x="1039.11" y="420.18" width="89.8" height="89.5" rx="6" fill="#ffc282"/>
<rect x="1156.08" y="420.18" width="89.8" height="89.5" rx="6" fill="#ffc282"/>
<rect x="1273.05" y="420.18" width="89.8" height="89.5" rx="6" fill="#ffc282"/>
<rect x="1390.02" y="420.18" width="89.8" height="89.5" rx="6" fill="#ffc282"/>
<rect x="688.20" y="534.11" width="89.8" height="89.5" rx="6" fill="#ffe56c"/>
<rect x="805.17" y="534.11" width="89.8" height="89.5" rx="6" fill="#ffe56c"/>
<rect x="922.14" y="534.11" width="89.8" height="89.5" rx="6" fill="#ffe56c"/>
<rect x="1039.11" y="534.11" width="89.8" height="89.5" rx="6" fill="#ffe56c"/>
<rect x="1156.08" y="534.11" width="89.8" height="89.5" rx="6" fill="#ffe56c"/>
<rect x="1273.05" y="534.11" width="89.8" height="89.5" rx="6" fill="#ffe56c"/>
<rect x="1390.02" y="534.11" width="89.8" height="89.5" rx="6" fill="#ffe56c"/>
<rect x="688.20" y="648.04" width="89.8" height="89.5" rx="6" fill="#aef2a0"/>
<rect x="805.17" y="648.04" width="89.8" height="89.5" rx="6" fill="#aef2a0"/>
<rect x="922.14" y="648.04" width="89.8" height="89.5" rx="6" fill="#aef2a0"/>
<rect x="1039.11" y="648.04" width="89.8" height="89.5" rx="6" fill="#aef2a0"/>
<rect x="1156.08" y="648.04" width="89.8" height="89.5" rx="6" fill="#aef2a0"/>
<rect x="1273.05" y="648.04" width="89.8" height="89.5" rx="6" fill="#aef2a0"/>
<rect x="1390.02" y="648.04" width="89.8" height="89.5" rx="6" fill="#aef2a0"/>
<rect x="688.20" y="761.97" width="89.8" height="89.5" rx="6" fill="#9de6fb"/>
<rect x="805.17" y="761.97" width="89.8" height="89.5" rx="6" fill="#9de6fb"/>
<rect x="922.14" y="761.97" width="89.8" height="89.5" rx="6" fill="#9de6fb"/>
<rect x="1039.11" y="761.97" width="89.8" height="89.5" rx="6" fill="#9de6fb"/>
<rect x="1156.08" y="761.97" width="89.8" height="89.5" rx="6" fill="#9de6fb"/>
<rect x="1273.05" y="761.97" width="89.8" height="89.5" rx="6" fill="#9de6fb"/>
<rect x="1390.02" y="761.97" width="89.8" height="89.5" rx="6" fill="#9de6fb"/>
<rect x="688.20" y="875.90" width="89.8" height="89.5" rx="6" fill="#8692de"/>
<rect x="805.17" y="875.90" width="89.8" height="89.5" rx="6" fill="#8692de"/>
<rect x="922.14" y="875.90" width="89.8" height="89.5" rx="6" fill="#8692de"/>
<rect x="1039.11" y="875.90" width="89.8" height="89.5" rx="6" fill="#8692de"/>
<rect x="1156.08" y="875.90" width="89.8" height="89.5" rx="6" fill="#8692de"/>
<rect x="1273.05" y="875.90" width="89.8" height="89.5" rx="6" fill="#8692de"/>
<rect x="1390.02" y="875.90" width="89.8" height="89.5" rx="6" fill="#8692de"/>
<rect x="688.20" y="989.83" width="89.8" height="89.5" rx="6" fill="#ad92d4"/>
<rect x="805.17" y="989.83" width="89.8" height="89.5" rx="6" fill="#ad92d4"/>
<rect x="922.14" y="989.83" width="89.8" height="89.5" rx="6" fill="#ad92d4"/>
<rect x="1039.11" y="989.83" width="89.8" height="89.5" rx="6" fill="#ad92d4"/>
<rect x="1156.08" y="989.83" width="89.8" height="89.5" rx="6" fill="#ad92d4"/>
<rect x="1273.05" y="989.83" width="89.8" height="89.5" rx="6" fill="#ad92d4"/>
<rect x="1390.02" y="989.83" width="89.8" height="89.5" rx="6" fill="#ad92d4"/>
<path d="M122.20 393.80h9.20 M140.95 393.80h9.20 M159.70 393.80h9.20 M178.45 393.80h9.20 M197.20 393.80h9.20 M215.95 393.80h9.20 M234.70 393.80h9.20 M253.45 393.80h9.20 M272.20 393.80h9.20 M290.95 393.80h9.20 M309.70 393.80h9.20 M328.45 393.80h9.20 M347.20 393.80h9.20 M365.95 393.80h9.20 M384.70 393.80h9.20 M403.45 393.80h9.20 M422.20 393.80h9.20 M440.95 393.80h9.20 M459.70 393.80h9.20 M478.45 393.80h9.20 M497.20 393.80h9.20 M515.95 393.80h9.20 M534.70 393.80h9.20 M553.45 393.80h9.20 M572.20 393.80h9.20 M590.95 393.80h9.20 M609.70 393.80h9.20 M628.45 393.80h9.20 M647.20 393.80h9.20" stroke="#ff9a9a" stroke-width="4.6" stroke-linecap="round" fill="none"/>
<path d="M122.20 507.73h9.20 M140.95 507.73h9.20 M159.70 507.73h9.20 M178.45 507.73h9.20 M197.20 507.73h9.20 M215.95 507.73h9.20 M234.70 507.73h9.20 M253.45 507.73h9.20 M272.20 507.73h9.20 M290.95 507.73h9.20 M309.70 507.73h9.20 M328.45 507.73h9.20 M347.20 507.73h9.20 M365.95 507.73h9.20 M384.70 507.73h9.20 M403.45 507.73h9.20 M422.20 507.73h9.20 M440.95 507.73h9.20 M459.70 507.73h9.20 M478.45 507.73h9.20 M497.20 507.73h9.20 M515.95 507.73h9.20 M534.70 507.73h9.20 M553.45 507.73h9.20 M572.20 507.73h9.20 M590.95 507.73h9.20 M609.70 507.73h9.20 M628.45 507.73h9.20 M647.20 507.73h9.20" stroke="#ffc282" stroke-width="4.6" stroke-linecap="round" fill="none"/>
<path d="M122.20 621.66h9.20 M140.95 621.66h9.20 M159.70 621.66h9.20 M178.45 621.66h9.20 M197.20 621.66h9.20 M215.95 621.66h9.20 M234.70 621.66h9.20 M253.45 621.66h9.20 M272.20 621.66h9.20 M290.95 621.66h9.20 M309.70 621.66h9.20 M328.45 621.66h9.20 M347.20 621.66h9.20 M365.95 621.66h9.20 M384.70 621.66h9.20 M403.45 621.66h9.20 M422.20 621.66h9.20 M440.95 621.66h9.20 M459.70 621.66h9.20 M478.45 621.66h9.20 M497.20 621.66h9.20 M515.95 621.66h9.20 M534.70 621.66h9.20 M553.45 621.66h9.20 M572.20 621.66h9.20 M590.95 621.66h9.20 M609.70 621.66h9.20 M628.45 621.66h9.20 M647.20 621.66h9.20" stroke="#ffe56c" stroke-width="4.6" stroke-linecap="round" fill="none"/>
<path d="M122.20 735.59h9.20 M140.95 735.59h9.20 M159.70 735.59h9.20 M178.45 735.59h9.20 M197.20 735.59h9.20 M215.95 735.59h9.20 M234.70 735.59h9.20 M253.45 735.59h9.20 M272.20 735.59h9.20 M290.95 735.59h9.20 M309.70 735.59h9.20 M328.45 735.59h9.20 M347.20 735.59h9.20 M365.95 735.59h9.20 M384.70 735.59h9.20 M403.45 735.59h9.20 M422.20 735.59h9.20 M440.95 735.59h9.20 M459.70 735.59h9.20 M478.45 735.59h9.20 M497.20 735.59h9.20 M515.95 735.59h9.20 M534.70 735.59h9.20 M553.45 735.59h9.20 M572.20 735.59h9.20 M590.95 735.59h9.20 M609.70 735.59h9.20 M628.45 735.59h9.20 M647.20 735.59h9.20" stroke="#aef2a0" stroke-width="4.6" stroke-linecap="round" fill="none"/>
<path d="M122.20 849.52h9.20 M140.95 849.52h9.20 M159.70 849.52h9.20 M178.45 849.52h9.20 M197.20 849.52h9.20 M215.95 849.52h9.20 M234.70 849.52h9.20 M253.45 849.52h9.20 M272.20 849.52h9.20 M290.95 849.52h9.20 M309.70 849.52h9.20 M328.45 849.52h9.20 M347.20 849.52h9.20 M365.95 849.52h9.20 M384.70 849.52h9.20 M403.45 849.52h9.20 M422.20 849.52h9.20 M440.95 849.52h9.20 M459.70 849.52h9.20 M478.45 849.52h9.20 M497.20 849.52h9.20 M515.95 849.52h9.20 M534.70 849.52h9.20 M553.45 849.52h9.20 M572.20 849.52h9.20 M590.95 849.52h9.20 M609.70 849.52h9.20 M628.45 849.52h9.20 M647.20 849.52h9.20" stroke="#9de6fb" stroke-width="4.6" stroke-linecap="round" fill="none"/>
<path d="M122.20 963.45h9.20 M140.95 963.45h9.20 M159.70 963.45h9.20 M178.45 963.45h9.20 M197.20 963.45h9.20 M215.95 963.45h9.20 M234.70 963.45h9.20 M253.45 963.45h9.20 M272.20 963.45h9.20 M290.95 963.45h9.20 M309.70 963.45h9.20 M328.45 963.45h9.20 M347.20 963.45h9.20 M365.95 963.45h9.20 M384.70 963.45h9.20 M403.45 963.45h9.20 M422.20 963.45h9.20 M440.95 963.45h9.20 M459.70 963.45h9.20 M478.45 963.45h9.20 M497.20 963.45h9.20 M515.95 963.45h9.20 M534.70 963.45h9.20 M553.45 963.45h9.20 M572.20 963.45h9.20 M590.95 963.45h9.20 M609.70 963.45h9.20 M628.45 963.45h9.20 M647.20 963.45h9.20" stroke="#8692de" stroke-width="4.6" stroke-linecap="round" fill="none"/>
<path d="M122.20 1077.38h9.20 M140.95 1077.38h9.20 M159.70 1077.38h9.20 M178.45 1077.38h9.20 M197.20 1077.38h9.20 M215.95 1077.38h9.20 M234.70 1077.38h9.20 M253.45 1077.38h9.20 M272.20 1077.38h9.20 M290.95 1077.38h9.20 M309.70 1077.38h9.20 M328.45 1077.38h9.20 M347.20 1077.38h9.20 M365.95 1077.38h9.20 M384.70 1077.38h9.20 M403.45 1077.38h9.20 M422.20 1077.38h9.20 M440.95 1077.38h9.20 M459.70 1077.38h9.20 M478.45 1077.38h9.20 M497.20 1077.38h9.20 M515.95 1077.38h9.20 M534.70 1077.38h9.20 M553.45 1077.38h9.20 M572.20 1077.38h9.20 M590.95 1077.38h9.20 M609.70 1077.38h9.20 M628.45 1077.38h9.20 M647.20 1077.38h9.20" stroke="#ad92d4" stroke-width="4.6" stroke-linecap="round" fill="none"/>
<path d="M666.25 173.90h9.60 M685.03 173.90h9.60 M703.81 173.90h9.60 M722.59 173.90h9.60 M741.37 173.90h9.60 M760.15 173.90h9.60 M778.93 173.90h9.60 M797.71 173.90h9.60 M816.49 173.90h9.60 M835.27 173.90h9.60 M854.05 173.90h9.60 M872.83 173.90h9.60 M891.61 173.90h9.60 M910.39 173.90h9.60 M929.17 173.90h9.60 M947.95 173.90h9.60 M966.73 173.90h9.60 M985.51 173.90h9.60 M1004.29 173.90h9.60 M1225.05 173.90h9.60 M1243.77 173.90h9.60 M1262.49 173.90h9.60 M1281.21 173.90h9.60 M1299.93 173.90h9.60 M1318.65 173.90h9.60 M1337.37 173.90h9.60 M1356.09 173.90h9.60 M1374.81 173.90h9.60 M1393.53 173.90h9.60 M1412.25 173.90h9.60 M1430.97 173.90h9.60 M1449.69 173.90h9.60 M1468.41 173.90h9.60" stroke="#000000" stroke-width="4.3" stroke-linecap="round" fill="none"/>
<circle cx="648.60" cy="151.90" r="3.05" fill="#000000"/><circle cx="648.60" cy="166.10" r="3.05" fill="#000000"/><circle cx="1205.00" cy="152.10" r="3.05" fill="#000000"/><circle cx="1205.00" cy="166.75" r="3.05" fill="#000000"/>
<path d="M 148.27 141.60 C 145.93 136.10 142.66 133.75 138.93 133.75 C 130.99 133.75 125.85 142.38 125.85 153.38 C 125.85 164.37 130.99 173.00 138.93 173.00 C 142.66 173.00 146.40 170.25 149.20 164.37 M 164.00 133.75 L 164.00 173.00 M 185.30 133.75 L 185.30 173.00 M 164.00 149.45 L 185.30 150.24 M 214.70 133.75 C 223.49 133.75 230.40 142.38 230.40 153.38 C 230.40 164.37 223.49 173.00 214.70 173.00 C 205.91 173.00 199.00 164.37 199.00 153.38 C 199.00 142.38 205.91 133.75 214.70 133.75 Z M 245.30 173.00 L 245.30 134.53 C 250.23 133.36 255.15 133.36 257.51 134.14 C 262.64 135.71 264.41 139.25 264.41 143.17 C 264.41 147.88 262.05 151.02 257.12 151.81 L 245.69 152.20 M 252.39 153.38 L 265.00 169.86 M 297.30 133.75 L 282.85 133.75 C 281.15 133.75 280.30 135.71 280.30 139.64 L 280.30 167.11 C 280.30 171.04 281.15 173.00 282.85 173.00 L 297.30 173.00 M 280.30 152.59 L 293.56 152.59 M 348.03 141.60 C 345.61 136.10 342.21 133.75 338.33 133.75 C 330.08 133.75 324.75 142.38 324.75 153.38 C 324.75 164.37 330.08 173.00 338.33 173.00 C 342.21 173.00 346.09 170.25 349.00 164.37 M 362.80 133.75 L 362.80 173.00 M 384.20 133.75 L 384.20 173.00 M 362.80 149.45 L 384.20 150.24 M 397.70 173.00 C 398.80 155.34 402.08 138.46 406.02 134.93 C 407.56 133.36 409.75 133.36 411.28 134.93 C 415.22 139.25 418.50 155.34 419.60 173.00 M 399.45 154.16 L 417.85 153.77 M 432.60 173.00 L 432.60 134.53 C 437.83 133.36 443.05 133.36 445.56 134.14 C 450.99 135.71 452.87 139.25 452.87 143.17 C 452.87 147.88 450.37 151.02 445.14 151.81 L 433.02 152.20 M 440.12 153.38 L 453.50 169.86 M 467.00 133.75 L 486.50 133.75 M 476.75 133.75 L 476.75 173.00" stroke="#000000" stroke-width="5.90" stroke-linecap="round" stroke-linejoin="round" fill="none"/>
<path d="M 538.50 170.00 L 538.50 141.75 L 556.80 170.00 L 556.80 141.75 M 565.75 170.00 C 566.58 157.29 569.08 145.14 572.08 142.60 C 573.24 141.47 574.91 141.47 576.07 142.60 C 579.07 145.71 581.57 157.29 582.40 170.00 M 567.08 156.44 L 581.07 156.16 M 592.10 170.00 L 593.81 141.75 L 603.57 161.24 L 612.84 141.75 L 616.50 170.00 M 638.50 141.75 L 628.73 141.75 C 627.58 141.75 627.00 143.16 627.00 145.99 L 627.00 165.76 C 627.00 168.59 627.58 170.00 628.73 170.00 L 638.50 170.00 M 627.00 155.31 L 635.97 155.31" stroke="#000000" stroke-width="4.40" stroke-linecap="round" stroke-linejoin="round" fill="none"/>
<path d="M 1033.30 141.75 L 1036.06 170.00 L 1046.10 150.22 L 1057.40 170.00 L 1058.40 141.75 M 1082.20 141.75 L 1070.85 141.75 C 1069.52 141.75 1068.85 143.16 1068.85 145.99 L 1068.85 165.76 C 1068.85 168.59 1069.52 170.00 1070.85 170.00 L 1082.20 170.00 M 1068.85 155.31 L 1079.26 155.31 M 1104.80 141.75 L 1093.49 141.75 C 1092.16 141.75 1091.50 143.16 1091.50 145.99 L 1091.50 165.76 C 1091.50 168.59 1092.16 170.00 1093.49 170.00 L 1104.80 170.00 M 1091.50 155.31 L 1101.87 155.31 M 1115.00 141.75 L 1115.00 170.00 M 1128.34 141.75 L 1115.58 156.44 M 1117.61 154.18 L 1129.50 170.00 M 1161.30 141.75 C 1167.88 141.75 1173.05 147.97 1173.05 155.88 C 1173.05 163.78 1167.88 170.00 1161.30 170.00 C 1154.72 170.00 1149.55 163.78 1149.55 155.88 C 1149.55 147.97 1154.72 141.75 1161.30 141.75 Z M 1195.80 141.75 L 1185.13 141.75 C 1183.88 141.75 1183.25 143.16 1183.25 145.99 L 1183.25 170.00 M 1183.25 155.03 L 1192.54 155.03" stroke="#000000" stroke-width="4.40" stroke-linecap="round" stroke-linejoin="round" fill="none"/>
<path d="M 344.90 253.70 L 357.75 253.70 M 351.32 253.70 L 351.32 276.30 M 364.80 276.30 C 365.42 266.13 367.28 256.41 369.51 254.38 C 370.38 253.47 371.62 253.47 372.49 254.38 C 374.72 256.86 376.58 266.13 377.20 276.30 M 365.67 266.36 L 376.33 266.36 M 396.40 257.32 C 395.36 254.83 393.62 253.70 391.30 253.70 C 388.05 253.70 385.85 256.41 385.85 259.80 C 385.85 263.64 388.40 264.55 391.30 265.45 C 394.78 266.36 397.10 267.71 397.10 270.88 C 397.10 274.72 394.78 276.30 391.30 276.30 C 388.98 276.30 386.66 275.17 385.50 273.14 M 406.60 253.70 L 406.60 276.30 M 417.36 253.70 L 407.07 265.45 M 408.71 263.64 L 418.30 276.30 M 437.45 257.32 C 436.33 254.83 434.45 253.70 431.95 253.70 C 428.45 253.70 426.07 256.41 426.07 259.80 C 426.07 263.64 428.82 264.55 431.95 265.45 C 435.70 266.36 438.20 267.71 438.20 270.88 C 438.20 274.72 435.70 276.30 431.95 276.30 C 429.45 276.30 426.95 275.17 425.70 273.14" stroke="#000000" stroke-width="3.80" stroke-linecap="round" stroke-linejoin="round" fill="none"/>
<path d="M 713.60 257.08 C 712.55 254.62 710.79 253.50 708.45 253.50 C 705.17 253.50 702.95 256.19 702.95 259.55 C 702.95 263.36 705.53 264.25 708.45 265.15 C 711.96 266.04 714.30 267.39 714.30 270.52 C 714.30 274.33 711.96 275.90 708.45 275.90 C 706.11 275.90 703.77 274.78 702.60 272.76 M 724.90 253.50 L 724.90 267.39 C 724.90 272.76 728.00 275.90 732.65 275.90 C 737.30 275.90 740.40 272.76 740.40 267.39 L 740.40 253.50 M 748.10 275.90 L 748.10 253.50 L 761.70 275.90 L 761.70 253.50" stroke="#000000" stroke-width="3.80" stroke-linecap="round" stroke-linejoin="round" fill="none"/>
<path d="M 813.90 275.90 L 815.33 253.50 L 823.53 268.96 L 831.32 253.50 L 834.40 275.90 M 849.85 253.50 C 854.19 253.50 857.60 258.43 857.60 264.70 C 857.60 270.97 854.19 275.90 849.85 275.90 C 845.51 275.90 842.10 270.97 842.10 264.70 C 842.10 258.43 845.51 253.50 849.85 253.50 Z M 868.20 275.90 L 868.20 253.50 L 883.80 275.90 L 883.80 253.50" stroke="#000000" stroke-width="3.80" stroke-linecap="round" stroke-linejoin="round" fill="none"/>
<path d="M 940.90 253.50 L 953.60 253.50 M 947.25 253.50 L 947.25 275.90 M 963.20 253.50 L 963.20 267.39 C 963.20 272.76 966.30 275.90 970.95 275.90 C 975.60 275.90 978.70 272.76 978.70 267.39 L 978.70 253.50 M 994.20 253.50 L 985.96 253.50 C 984.99 253.50 984.50 254.62 984.50 256.86 L 984.50 272.54 C 984.50 274.78 984.99 275.90 985.96 275.90 L 994.20 275.90 M 984.50 264.25 L 992.07 264.25" stroke="#000000" stroke-width="3.80" stroke-linecap="round" stroke-linejoin="round" fill="none"/>
<path d="M 1052.60 253.50 L 1055.16 275.90 L 1064.48 260.22 L 1074.97 275.90 L 1075.90 253.50 M 1094.30 253.50 L 1085.21 253.50 C 1084.14 253.50 1083.60 254.62 1083.60 256.86 L 1083.60 272.54 C 1083.60 274.78 1084.14 275.90 1085.21 275.90 L 1094.30 275.90 M 1083.60 264.25 L 1091.95 264.25 M 1100.00 253.50 L 1100.00 275.90 L 1105.11 275.90 C 1110.95 275.90 1114.60 271.42 1114.60 264.70 C 1114.60 257.98 1110.95 253.50 1105.11 253.50 Z" stroke="#000000" stroke-width="3.80" stroke-linecap="round" stroke-linejoin="round" fill="none"/>
<path d="M 1173.65 253.50 L 1186.30 253.50 M 1179.97 253.50 L 1179.97 275.90 M 1194.00 253.50 L 1194.00 275.90 M 1206.70 253.50 L 1206.70 275.90 M 1194.00 262.46 L 1206.70 262.91 M 1215.30 253.50 L 1215.30 267.39 C 1215.30 272.76 1218.04 275.90 1222.15 275.90 C 1226.26 275.90 1229.00 272.76 1229.00 267.39 L 1229.00 253.50" stroke="#000000" stroke-width="3.80" stroke-linecap="round" stroke-linejoin="round" fill="none"/>
<path d="M 1309.40 253.50 L 1301.07 253.50 C 1300.09 253.50 1299.60 254.62 1299.60 256.86 L 1299.60 275.90 M 1299.60 264.03 L 1306.85 264.03 M 1317.00 275.90 L 1317.00 253.95 C 1320.65 253.28 1324.30 253.28 1326.05 253.72 C 1329.85 254.62 1331.16 256.64 1331.16 258.88 C 1331.16 261.56 1329.41 263.36 1325.76 263.80 L 1317.29 264.03 M 1322.26 264.70 L 1331.60 274.11 M 1340.35 253.50 L 1340.35 275.90" stroke="#000000" stroke-width="3.80" stroke-linecap="round" stroke-linejoin="round" fill="none"/>
<path d="M 1420.19 257.08 C 1419.13 254.62 1417.36 253.50 1415.00 253.50 C 1411.70 253.50 1409.45 256.19 1409.45 259.55 C 1409.45 263.36 1412.05 264.25 1415.00 265.15 C 1418.54 266.04 1420.90 267.39 1420.90 270.52 C 1420.90 274.33 1418.54 275.90 1415.00 275.90 C 1412.64 275.90 1410.28 274.78 1409.10 272.76 M 1429.10 275.90 C 1429.74 265.82 1431.65 256.19 1433.95 254.17 C 1434.84 253.28 1436.11 253.28 1437.01 254.17 C 1439.30 256.64 1441.21 265.82 1441.85 275.90 M 1429.99 266.04 L 1440.96 266.04 M 1448.50 253.50 L 1461.50 253.50 M 1455.00 253.50 L 1455.00 275.90" stroke="#000000" stroke-width="3.80" stroke-linecap="round" stroke-linejoin="round" fill="none"/>
</svg>
</body></html>
